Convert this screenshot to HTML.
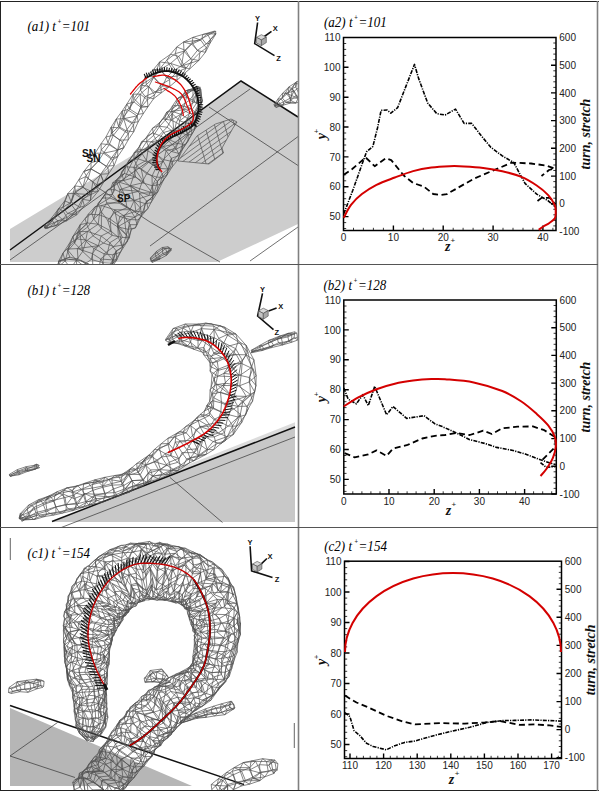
<!DOCTYPE html><html><head><meta charset="utf-8"><style>
*{margin:0;padding:0}
body{width:602px;height:791px;background:#fff;overflow:hidden}
svg{display:block}
.n{font-family:"Liberation Sans",sans-serif;font-size:10px;fill:#222}
.tt{font-family:"Liberation Serif",serif;font-style:italic;font-size:14px;fill:#000}
.tsup{font-family:"Liberation Sans",sans-serif;font-size:6.5px;fill:#222}
.ax{font-family:"Liberation Serif",serif;font-style:italic;font-weight:bold;font-size:14px;fill:#111}
.ax2{font-family:"Liberation Serif",serif;font-style:italic;font-weight:bold;font-size:14px;fill:#111}
.tl{font-family:"Liberation Sans",sans-serif;font-weight:bold;font-size:7.5px;fill:#111}
.lb{font-family:"Liberation Sans",sans-serif;font-weight:bold;font-size:10px;fill:#111}
.sup{font-family:"Liberation Sans",sans-serif;font-size:8px;fill:#222}
</style></head><body>
<svg width="602" height="791" viewBox="0 0 602 791">
<rect width="602" height="791" fill="#fff"/>
<defs><clipPath id="ca1"><rect x="1" y="2" width="297" height="262"/></clipPath><clipPath id="cb1"><rect x="1" y="265" width="297" height="262"/></clipPath><clipPath id="cc1"><rect x="1" y="528" width="297" height="262"/></clipPath></defs><g clip-path="url(#ca1)">
<polygon points="10,229 171,132 241,81 298,117 298,224 217,262 10,262" fill="#cdcdcd"/>
<path d="M10,260 L250,89 M150,246 L298,136.6 M209,107 L298,165.5 M97,187 L150,222 L220,262 M250,261 L298,227" stroke="#333" stroke-width="0.7" fill="none"/>
<path d="M10,250 L241,81 L298,117" fill="none" stroke="#111" stroke-width="1.5"/>
<clipPath id="fmc"><polygon points="178,161 197,136 215.5,124 231,119 237,122 233,128 222,148 223.5,153 209,164"/></clipPath>
<path d="M160,146.9 L250,81.2 M160,152.1 L250,86.4 M160,157.3 L250,91.6 M160,162.5 L250,96.8 M160,167.7 L250,102.0 M160,172.9 L250,107.2 M160,178.1 L250,112.4 M160,183.3 L250,117.6 M160,188.5 L250,122.8 M160,193.7 L250,128.0 M160,198.9 L250,133.2 M160,204.1 L250,138.4 M160,209.3 L250,143.6 M160,214.5 L250,148.8 M190,110 L208,170 M200,110 L218,170 M210,110 L228,170 M220,110 L238,170 M230,110 L248,170" clip-path="url(#fmc)" stroke="#505050" stroke-width="0.7" fill="none"/>
<polygon points="178,161 197,136 215.5,124 231,119 237,122 233,128 222,148 223.5,153 209,164" fill="none" stroke="#505050" stroke-width="0.7"/>
<path d="M198.2,86.7 L197.5,86.8 L197.9,88.6 L197.8,87.9 L199.7,88.5 L201,89.7 L200,88.3 L199.9,88.1 L199.6,88 L200.3,87.3 L198.7,87 L197.6,87.5Z M185.1,93.1 L185.3,94.9 L189.5,100.3 L194.2,102.2 L196.5,103.3 L201.9,101.7 L202.4,100.6 L200.4,96.5 L197.2,92 L193,90.3 L187.8,90 L185.2,91.1Z M177.4,98.6 L176.6,102.1 L179.2,107 L182.8,109.8 L189.5,113.4 L194.5,113.7 L199.1,111.2 L201,108.9 L198.4,104.4 L192.9,100.2 L186.5,97.2 L181.9,96.9Z M172.5,105.9 L171.6,111 L172.3,113.8 L179.6,120.8 L185.5,122.8 L191.3,124.3 L196,122.9 L198.5,117.4 L194.6,111.8 L191.1,108.6 L184.2,106.1 L177.4,105.3Z M165,117 L165.2,120.2 L173.7,129.6 L178,131.5 L187.4,135.2 L191.8,134.1 L195,128.8 L192.9,122.8 L187.4,118.3 L180.7,114.3 L172.3,111.4 L166.8,112Z M159.4,122.9 L159.4,126.7 L163.6,132.5 L170.2,140.1 L177.6,143.5 L185.3,144.5 L188,141.1 L188.3,134.5 L184.2,127.7 L176.3,122.5 L171,120.2 L162.7,118.8Z M152.5,128.2 L153.6,135.4 L157.2,141.7 L162.8,146.7 L171.6,151.5 L179.1,153.5 L182.6,149.3 L182.6,143.8 L179.5,138 L174.1,132.5 L167.1,127.2 L157.7,126.1Z M147.1,136.3 L146.6,141.6 L148.6,146.8 L156.2,154 L163.2,159.5 L172.5,161.6 L177.8,160 L179.4,155.4 L176,148.3 L166.7,139 L159.1,135.4 L152.6,132.9Z M139.7,146.1 L140.5,151.1 L146.4,160.4 L152.7,165 L160.1,168.5 L169.5,169 L172.9,165.9 L171.4,158.3 L166.1,150.8 L160.2,146.5 L151.2,141.8 L141.8,141.5Z M134.2,152.7 L133.9,158.8 L136.8,165.7 L146.6,173.9 L156.7,177.1 L161.9,177.4 L167,175 L167.8,169.1 L163.5,161.6 L157.6,155.9 L145.4,149.8 L137.8,149.8Z M126.8,164.5 L128.3,170 L133.9,175.3 L141.9,182.6 L152.3,185.8 L160,184.5 L163.5,180 L162.2,173.8 L156.5,166.7 L148.7,162.3 L138.2,158.9 L128.9,160.5Z M121.5,172.3 L123.7,180.5 L130.1,186.3 L138.8,191.3 L149,195.4 L154.1,194.9 L157.9,191.6 L157.5,181.4 L152,176.1 L141.2,168.9 L133.9,167.3 L125.6,166.8Z M120.3,175.8 L115.8,180.7 L119.8,189.6 L124.8,194.7 L134.5,200.3 L145.2,203.6 L150.9,202.8 L152.5,198.8 L152.4,192.9 L144,182.5 L135.6,177.1 L124.5,173.5Z M110.8,188.2 L112.5,194.4 L119.2,203.2 L127,207.7 L135.8,211.3 L143.8,212.2 L148,208.4 L146.4,200.9 L139.5,193 L130.6,185.7 L118.6,182 L112.8,182.6Z M107.9,189.7 L104.8,194.8 L106.6,202.8 L114.4,212.9 L119.8,216.6 L130.2,219.6 L138.2,219.9 L141.5,215.7 L140.6,208.4 L134.1,200.7 L124,193.6 L114.9,189.7Z M102.6,198 L98.1,203.7 L101.4,211.9 L107.7,220.4 L117.6,226.9 L128.1,229.3 L135.4,227.9 L137.1,224.7 L135,217.4 L130,209.7 L118.8,201.5 L109.8,198Z M91.9,213.1 L93.7,219 L101.4,228.3 L112.2,235.4 L122.5,237.4 L129.3,237.8 L131.3,229.4 L130.1,224.7 L124.1,215.9 L114.7,209.8 L101.3,205.5 L94.9,206.9Z M85,218.7 L87.7,227 L93,235.8 L103.5,243.1 L113.9,246.5 L124.2,244.8 L127.5,241.2 L126.4,234.8 L117.6,224.5 L110.2,219.1 L99.4,214.8 L88.3,214.2Z M80.2,224.7 L79.7,232.8 L86,241.3 L93.8,248.4 L104.1,253.9 L112.8,254.8 L120.4,252.3 L122.6,247.4 L118.4,237.4 L111,231.1 L98.2,224.2 L87.5,223Z M73,236.3 L74.5,243.1 L82.7,251.5 L91.3,259.5 L102.9,262.7 L113.1,263.2 L116.8,259.9 L116.2,250.8 L109.8,242.7 L101.1,236 L87.5,231.4 L78.7,231.8Z M69.3,243.6 L68.1,250.5 L76.3,260.2 L82.9,265.3 L97.7,271.5 L104.9,272.6 L110.8,268.9 L112.8,259.9 L107.3,253.5 L98.3,245.7 L85.8,240 L76.7,238.9Z M63,253.1 L65.1,261 L70.8,268.4 L77.9,275.7 L93.3,280.4 L101.7,281 L107.4,274.8 L107.2,269.5 L100.6,259 L92.4,253.6 L77.3,248.6 L66.9,249.1Z M58.8,260.9 L58.8,266.3 L61.5,272.3 L70.6,282.5 L83.5,287.1 L94.8,289.8 L101,286.9 L103.9,279.8 L98.6,270.9 L92.8,266 L78,259.1 L69.9,257.2Z M57.5,267.3 L60.5,274.1 L69.3,282.3 L83.9,289.1 L92.2,290.7 L99.9,288.4 L103.3,282.8 L100.8,275.8 L88.8,265.9 L80.9,260.7 L69,259.4 L58.7,261.4Z M198.2,86.7 L185.1,93.1 M198.2,86.7 L185.3,94.9 M197.5,86.8 L185.3,94.9 M197.9,88.6 L189.5,100.3 M197.8,87.9 L194.2,102.2 M197.8,87.9 L196.5,103.3 M199.7,88.5 L196.5,103.3 M201,89.7 L201.9,101.7 M200,88.3 L202.4,100.6 M199.9,88.1 L200.4,96.5 M199.6,88 L197.2,92 M199.6,88 L200.4,96.5 M200.3,87.3 L193,90.3 M198.7,87 L187.8,90 M197.6,87.5 L185.2,91.1 M185.1,93.1 L177.4,98.6 M185.3,94.9 L176.6,102.1 M185.3,94.9 L177.4,98.6 M189.5,100.3 L179.2,107 M194.2,102.2 L182.8,109.8 M196.5,103.3 L189.5,113.4 M201.9,101.7 L194.5,113.7 M202.4,100.6 L199.1,111.2 M202.4,100.6 L194.5,113.7 M200.4,96.5 L201,108.9 M197.2,92 L198.4,104.4 M197.2,92 L192.9,100.2 M193,90.3 L192.9,100.2 M187.8,90 L186.5,97.2 M185.2,91.1 L181.9,96.9 M177.4,98.6 L172.5,105.9 M176.6,102.1 L171.6,111 M179.2,107 L172.3,113.8 M182.8,109.8 L179.6,120.8 M189.5,113.4 L185.5,122.8 M189.5,113.4 L179.6,120.8 M194.5,113.7 L191.3,124.3 M194.5,113.7 L185.5,122.8 M199.1,111.2 L196,122.9 M201,108.9 L198.5,117.4 M198.4,104.4 L194.6,111.8 M192.9,100.2 L191.1,108.6 M186.5,97.2 L184.2,106.1 M181.9,96.9 L177.4,105.3 M172.5,105.9 L165,117 M171.6,111 L165.2,120.2 M172.3,113.8 L173.7,129.6 M172.3,113.8 L165.2,120.2 M179.6,120.8 L178,131.5 M185.5,122.8 L187.4,135.2 M191.3,124.3 L191.8,134.1 M196,122.9 L195,128.8 M198.5,117.4 L192.9,122.8 M194.6,111.8 L187.4,118.3 M194.6,111.8 L192.9,122.8 M191.1,108.6 L180.7,114.3 M191.1,108.6 L172.3,111.4 M184.2,106.1 L172.3,111.4 M184.2,106.1 L180.7,114.3 M177.4,105.3 L166.8,112 M165,117 L159.4,122.9 M165.2,120.2 L159.4,126.7 M173.7,129.6 L163.6,132.5 M178,131.5 L170.2,140.1 M187.4,135.2 L177.6,143.5 M191.8,134.1 L185.3,144.5 M195,128.8 L188,141.1 M192.9,122.8 L188.3,134.5 M192.9,122.8 L184.2,127.7 M187.4,118.3 L184.2,127.7 M180.7,114.3 L176.3,122.5 M180.7,114.3 L171,120.2 M172.3,111.4 L171,120.2 M166.8,112 L162.7,118.8 M166.8,112 L171,120.2 M159.4,122.9 L152.5,128.2 M159.4,126.7 L153.6,135.4 M163.6,132.5 L157.2,141.7 M170.2,140.1 L162.8,146.7 M177.6,143.5 L171.6,151.5 M177.6,143.5 L162.8,146.7 M185.3,144.5 L179.1,153.5 M185.3,144.5 L171.6,151.5 M188,141.1 L182.6,149.3 M188.3,134.5 L182.6,143.8 M184.2,127.7 L179.5,138 M176.3,122.5 L174.1,132.5 M171,120.2 L167.1,127.2 M162.7,118.8 L157.7,126.1 M152.5,128.2 L147.1,136.3 M153.6,135.4 L146.6,141.6 M157.2,141.7 L148.6,146.8 M162.8,146.7 L156.2,154 M171.6,151.5 L163.2,159.5 M179.1,153.5 L172.5,161.6 M182.6,149.3 L177.8,160 M182.6,143.8 L179.4,155.4 M179.5,138 L176,148.3 M174.1,132.5 L166.7,139 M167.1,127.2 L159.1,135.4 M157.7,126.1 L152.6,132.9 M147.1,136.3 L139.7,146.1 M146.6,141.6 L140.5,151.1 M148.6,146.8 L146.4,160.4 M148.6,146.8 L140.5,151.1 M156.2,154 L152.7,165 M163.2,159.5 L160.1,168.5 M172.5,161.6 L169.5,169 M177.8,160 L172.9,165.9 M179.4,155.4 L171.4,158.3 M176,148.3 L166.1,150.8 M166.7,139 L160.2,146.5 M166.7,139 L151.2,141.8 M159.1,135.4 L151.2,141.8 M152.6,132.9 L141.8,141.5 M139.7,146.1 L134.2,152.7 M140.5,151.1 L133.9,158.8 M140.5,151.1 L134.2,152.7 M146.4,160.4 L136.8,165.7 M152.7,165 L146.6,173.9 M160.1,168.5 L156.7,177.1 M169.5,169 L161.9,177.4 M172.9,165.9 L167,175 M171.4,158.3 L167.8,169.1 M171.4,158.3 L167,175 M166.1,150.8 L163.5,161.6 M160.2,146.5 L157.6,155.9 M151.2,141.8 L145.4,149.8 M141.8,141.5 L137.8,149.8 M134.2,152.7 L126.8,164.5 M133.9,158.8 L128.3,170 M136.8,165.7 L133.9,175.3 M146.6,173.9 L141.9,182.6 M156.7,177.1 L152.3,185.8 M161.9,177.4 L160,184.5 M161.9,177.4 L152.3,185.8 M167,175 L163.5,180 M167,175 L160,184.5 M167.8,169.1 L162.2,173.8 M163.5,161.6 L156.5,166.7 M163.5,161.6 L148.7,162.3 M157.6,155.9 L148.7,162.3 M145.4,149.8 L138.2,158.9 M137.8,149.8 L128.9,160.5 M137.8,149.8 L138.2,158.9 M126.8,164.5 L121.5,172.3 M128.3,170 L123.7,180.5 M133.9,175.3 L130.1,186.3 M141.9,182.6 L138.8,191.3 M152.3,185.8 L149,195.4 M152.3,185.8 L154.1,194.9 M160,184.5 L154.1,194.9 M163.5,180 L157.9,191.6 M162.2,173.8 L157.5,181.4 M156.5,166.7 L152,176.1 M148.7,162.3 L141.2,168.9 M138.2,158.9 L133.9,167.3 M128.9,160.5 L125.6,166.8 M121.5,172.3 L120.3,175.8 M123.7,180.5 L115.8,180.7 M130.1,186.3 L119.8,189.6 M138.8,191.3 L124.8,194.7 M138.8,191.3 L119.8,189.6 M149,195.4 L134.5,200.3 M154.1,194.9 L145.2,203.6 M157.9,191.6 L150.9,202.8 M157.9,191.6 L145.2,203.6 M157.5,181.4 L152.5,198.8 M152,176.1 L152.4,192.9 M141.2,168.9 L144,182.5 M133.9,167.3 L135.6,177.1 M133.9,167.3 L144,182.5 M125.6,166.8 L124.5,173.5 M125.6,166.8 L120.3,175.8 M120.3,175.8 L110.8,188.2 M115.8,180.7 L112.5,194.4 M119.8,189.6 L119.2,203.2 M124.8,194.7 L127,207.7 M134.5,200.3 L135.8,211.3 M145.2,203.6 L143.8,212.2 M145.2,203.6 L135.8,211.3 M150.9,202.8 L148,208.4 M152.5,198.8 L146.4,200.9 M152.4,192.9 L139.5,193 M152.4,192.9 L130.6,185.7 M144,182.5 L130.6,185.7 M135.6,177.1 L118.6,182 M124.5,173.5 L112.8,182.6 M124.5,173.5 L110.8,188.2 M110.8,188.2 L107.9,189.7 M112.5,194.4 L104.8,194.8 M119.2,203.2 L106.6,202.8 M127,207.7 L114.4,212.9 M135.8,211.3 L119.8,216.6 M143.8,212.2 L130.2,219.6 M148,208.4 L138.2,219.9 M146.4,200.9 L141.5,215.7 M139.5,193 L140.6,208.4 M130.6,185.7 L134.1,200.7 M118.6,182 L124,193.6 M112.8,182.6 L114.9,189.7 M107.9,189.7 L102.6,198 M104.8,194.8 L98.1,203.7 M104.8,194.8 L102.6,198 M106.6,202.8 L101.4,211.9 M114.4,212.9 L107.7,220.4 M119.8,216.6 L117.6,226.9 M130.2,219.6 L128.1,229.3 M130.2,219.6 L117.6,226.9 M138.2,219.9 L135.4,227.9 M141.5,215.7 L137.1,224.7 M140.6,208.4 L135,217.4 M134.1,200.7 L130,209.7 M134.1,200.7 L118.8,201.5 M124,193.6 L118.8,201.5 M114.9,189.7 L109.8,198 M102.6,198 L91.9,213.1 M98.1,203.7 L93.7,219 M101.4,211.9 L101.4,228.3 M101.4,211.9 L93.7,219 M107.7,220.4 L112.2,235.4 M117.6,226.9 L122.5,237.4 M117.6,226.9 L129.3,237.8 M128.1,229.3 L129.3,237.8 M135.4,227.9 L131.3,229.4 M137.1,224.7 L130.1,224.7 M135,217.4 L124.1,215.9 M130,209.7 L114.7,209.8 M130,209.7 L124.1,215.9 M118.8,201.5 L101.3,205.5 M109.8,198 L94.9,206.9 M91.9,213.1 L85,218.7 M93.7,219 L87.7,227 M101.4,228.3 L93,235.8 M112.2,235.4 L103.5,243.1 M122.5,237.4 L113.9,246.5 M129.3,237.8 L124.2,244.8 M131.3,229.4 L127.5,241.2 M130.1,224.7 L126.4,234.8 M124.1,215.9 L117.6,224.5 M124.1,215.9 L126.4,234.8 M114.7,209.8 L110.2,219.1 M114.7,209.8 L117.6,224.5 M101.3,205.5 L99.4,214.8 M94.9,206.9 L88.3,214.2 M85,218.7 L80.2,224.7 M87.7,227 L79.7,232.8 M93,235.8 L86,241.3 M103.5,243.1 L93.8,248.4 M113.9,246.5 L104.1,253.9 M124.2,244.8 L112.8,254.8 M127.5,241.2 L120.4,252.3 M126.4,234.8 L122.6,247.4 M117.6,224.5 L118.4,237.4 M117.6,224.5 L122.6,247.4 M110.2,219.1 L111,231.1 M99.4,214.8 L98.2,224.2 M88.3,214.2 L87.5,223 M80.2,224.7 L73,236.3 M80.2,224.7 L74.5,243.1 M79.7,232.8 L74.5,243.1 M79.7,232.8 L82.7,251.5 M86,241.3 L82.7,251.5 M93.8,248.4 L91.3,259.5 M104.1,253.9 L102.9,262.7 M112.8,254.8 L113.1,263.2 M120.4,252.3 L116.8,259.9 M120.4,252.3 L113.1,263.2 M122.6,247.4 L116.2,250.8 M118.4,237.4 L109.8,242.7 M111,231.1 L101.1,236 M98.2,224.2 L87.5,231.4 M87.5,223 L78.7,231.8 M87.5,223 L73,236.3 M73,236.3 L69.3,243.6 M73,236.3 L68.1,250.5 M74.5,243.1 L68.1,250.5 M82.7,251.5 L76.3,260.2 M91.3,259.5 L82.9,265.3 M102.9,262.7 L97.7,271.5 M113.1,263.2 L104.9,272.6 M113.1,263.2 L97.7,271.5 M116.8,259.9 L110.8,268.9 M116.8,259.9 L112.8,259.9 M116.2,250.8 L112.8,259.9 M116.2,250.8 L110.8,268.9 M109.8,242.7 L107.3,253.5 M101.1,236 L98.3,245.7 M87.5,231.4 L85.8,240 M87.5,231.4 L76.7,238.9 M78.7,231.8 L76.7,238.9 M69.3,243.6 L63,253.1 M68.1,250.5 L65.1,261 M76.3,260.2 L70.8,268.4 M76.3,260.2 L77.9,275.7 M82.9,265.3 L77.9,275.7 M97.7,271.5 L93.3,280.4 M104.9,272.6 L101.7,281 M104.9,272.6 L107.4,274.8 M110.8,268.9 L107.4,274.8 M112.8,259.9 L107.2,269.5 M112.8,259.9 L100.6,259 M107.3,253.5 L100.6,259 M98.3,245.7 L92.4,253.6 M98.3,245.7 L77.3,248.6 M85.8,240 L77.3,248.6 M76.7,238.9 L66.9,249.1 M63,253.1 L58.8,260.9 M63,253.1 L58.8,266.3 M65.1,261 L58.8,266.3 M70.8,268.4 L61.5,272.3 M77.9,275.7 L70.6,282.5 M93.3,280.4 L83.5,287.1 M101.7,281 L94.8,289.8 M107.4,274.8 L101,286.9 M107.2,269.5 L103.9,279.8 M100.6,259 L98.6,270.9 M92.4,253.6 L92.8,266 M77.3,248.6 L78,259.1 M66.9,249.1 L69.9,257.2 M58.8,260.9 L57.5,267.3 M58.8,266.3 L60.5,274.1 M61.5,272.3 L69.3,282.3 M61.5,272.3 L83.9,289.1 M70.6,282.5 L83.9,289.1 M83.5,287.1 L92.2,290.7 M83.5,287.1 L99.9,288.4 M94.8,289.8 L99.9,288.4 M101,286.9 L103.3,282.8 M103.9,279.8 L100.8,275.8 M98.6,270.9 L88.8,265.9 M92.8,266 L80.9,260.7 M78,259.1 L69,259.4 M69.9,257.2 L58.7,261.4" stroke="#505050" stroke-width="0.7" fill="none"/>
<path d="M214.5,31.1 L213.8,32.2 L215.3,34.2 L216.1,33.6 L215.4,34 L215.8,31.4Z M202.7,34.5 L202,38.5 L206.2,44 L210.2,43 L210.4,39.6 L207.3,33.7Z M193,37.3 L192.1,42.6 L197.3,50.5 L205.4,52.3 L206.4,48 L200.6,40Z M183.5,42 L184,51.2 L190.7,58.9 L198.8,60.5 L199.9,52.6 L191.7,44.2Z M176.8,46.9 L175.3,53.6 L181.4,66 L189.5,69.1 L191.9,60.8 L185.7,50.5Z M170.5,54.3 L166.8,60.2 L173.2,70.9 L182.4,75.1 L185.9,68.4 L178.7,56.4Z M159.7,61.9 L159.8,68.9 L166.4,77.6 L177.1,80.2 L177,71.8 L170.6,63.4Z M153.1,70 L153.6,77.9 L162.8,86 L169.9,86.4 L169.6,79.6 L160.2,69.6Z M145.7,76.4 L146.3,84.6 L155,92.1 L161.3,92.8 L160.6,84.9 L153.9,76.8Z M141.1,85 L140.4,90.1 L145.1,96.5 L153.5,98.8 L154.5,94.8 L148.8,86.6Z M133.1,94.2 L134,98.6 L141.2,106 L148,106.7 L147.4,99.8 L140.2,94.1Z M126.8,104.1 L129.8,109.1 L138,114.3 L143.4,113.5 L140.9,107.4 L134,101.9Z M122.2,111 L123,117.2 L132.3,122.6 L138.2,121.8 L137.1,115.9 L127.5,109.6Z M116.3,119 L118.6,126.5 L126,130.7 L133.7,131.8 L133.6,124.5 L123.7,118.7Z M111.1,127.2 L111.3,133.7 L119.8,140.1 L128.2,139.9 L128.3,133.7 L119.3,127.9Z M106,136.9 L107.9,142.7 L117.6,149.9 L123.8,147.7 L122.5,142 L113.3,135.4Z M101.1,143.7 L101.2,150 L111.5,157.8 L117.7,156.6 L117.7,150.2 L109.2,144.8Z M95.1,153.2 L98.3,161.2 L106.5,166.1 L114.1,165.6 L112.6,160 L103.5,153.2Z M91,162.6 L91,168.7 L100.5,174.3 L108.6,173.7 L108,167.9 L98.5,160.8Z M83.8,171.5 L88.1,178.6 L96.8,184.7 L103.7,182 L100.7,174.5 L90.8,169Z M78.8,179.8 L82.9,187.5 L91.9,191.6 L98.4,191 L92.9,181.7 L85.5,176.7Z M74.9,185.9 L75.3,191.6 L83,199.4 L90.4,200.6 L90.7,194.7 L83,186.9Z M67.8,193.6 L71.3,202.2 L80,207.3 L84.4,205.8 L82.4,199.1 L74.3,193.5Z M64.7,200.9 L63,207.2 L67.6,213.5 L76.8,214.8 L76,210.8 L70.2,203.2Z M58.7,208.6 L56.7,214.4 L62.5,219.6 L66.5,220.8 L67,217.4 L63.3,211.3Z M51.3,218.3 L52.4,220.7 L55.6,225.8 L57.8,224.7 L57.9,220.8 L54.2,217.9Z M45.1,224.8 L44.5,227.6 L46.5,227.6 L47.6,227.9 L48.2,228 L46.4,226.1Z M44.9,227.6 L44.8,227.4 L44.7,228 L45.6,228.6 L45.7,228.2 L45.3,227.5Z M214.5,31.1 L202.7,34.5 M213.8,32.2 L202,38.5 M215.3,34.2 L206.2,44 M216.1,33.6 L210.2,43 M215.4,34 L210.4,39.6 M215.4,34 L207.3,33.7 M215.8,31.4 L207.3,33.7 M202.7,34.5 L193,37.3 M202,38.5 L192.1,42.6 M206.2,44 L197.3,50.5 M210.2,43 L205.4,52.3 M210.4,39.6 L206.4,48 M207.3,33.7 L200.6,40 M193,37.3 L183.5,42 M192.1,42.6 L184,51.2 M197.3,50.5 L190.7,58.9 M205.4,52.3 L198.8,60.5 M206.4,48 L199.9,52.6 M200.6,40 L191.7,44.2 M200.6,40 L183.5,42 M183.5,42 L176.8,46.9 M184,51.2 L175.3,53.6 M184,51.2 L181.4,66 M190.7,58.9 L181.4,66 M198.8,60.5 L189.5,69.1 M198.8,60.5 L181.4,66 M199.9,52.6 L191.9,60.8 M191.7,44.2 L185.7,50.5 M176.8,46.9 L170.5,54.3 M175.3,53.6 L166.8,60.2 M181.4,66 L173.2,70.9 M189.5,69.1 L182.4,75.1 M191.9,60.8 L185.9,68.4 M185.7,50.5 L178.7,56.4 M170.5,54.3 L159.7,61.9 M166.8,60.2 L159.8,68.9 M173.2,70.9 L166.4,77.6 M182.4,75.1 L177.1,80.2 M182.4,75.1 L166.4,77.6 M185.9,68.4 L177,71.8 M185.9,68.4 L170.6,63.4 M178.7,56.4 L170.6,63.4 M159.7,61.9 L153.1,70 M159.7,61.9 L153.6,77.9 M159.8,68.9 L153.6,77.9 M166.4,77.6 L162.8,86 M177.1,80.2 L169.9,86.4 M177,71.8 L169.6,79.6 M177,71.8 L160.2,69.6 M170.6,63.4 L160.2,69.6 M153.1,70 L145.7,76.4 M153.6,77.9 L146.3,84.6 M162.8,86 L155,92.1 M169.9,86.4 L161.3,92.8 M169.9,86.4 L155,92.1 M169.6,79.6 L160.6,84.9 M160.2,69.6 L153.9,76.8 M145.7,76.4 L141.1,85 M145.7,76.4 L140.4,90.1 M146.3,84.6 L140.4,90.1 M155,92.1 L145.1,96.5 M161.3,92.8 L153.5,98.8 M160.6,84.9 L154.5,94.8 M153.9,76.8 L148.8,86.6 M153.9,76.8 L141.1,85 M141.1,85 L133.1,94.2 M140.4,90.1 L134,98.6 M145.1,96.5 L141.2,106 M153.5,98.8 L148,106.7 M154.5,94.8 L147.4,99.8 M148.8,86.6 L140.2,94.1 M148.8,86.6 L147.4,99.8 M133.1,94.2 L126.8,104.1 M133.1,94.2 L129.8,109.1 M134,98.6 L129.8,109.1 M141.2,106 L138,114.3 M148,106.7 L143.4,113.5 M148,106.7 L140.9,107.4 M147.4,99.8 L140.9,107.4 M140.2,94.1 L134,101.9 M140.2,94.1 L140.9,107.4 M126.8,104.1 L122.2,111 M126.8,104.1 L123,117.2 M129.8,109.1 L123,117.2 M138,114.3 L132.3,122.6 M143.4,113.5 L138.2,121.8 M140.9,107.4 L137.1,115.9 M134,101.9 L127.5,109.6 M122.2,111 L116.3,119 M122.2,111 L118.6,126.5 M123,117.2 L118.6,126.5 M132.3,122.6 L126,130.7 M138.2,121.8 L133.7,131.8 M137.1,115.9 L133.6,124.5 M137.1,115.9 L123.7,118.7 M127.5,109.6 L123.7,118.7 M116.3,119 L111.1,127.2 M116.3,119 L111.3,133.7 M118.6,126.5 L111.3,133.7 M126,130.7 L119.8,140.1 M133.7,131.8 L128.2,139.9 M133.6,124.5 L128.3,133.7 M123.7,118.7 L119.3,127.9 M123.7,118.7 L128.3,133.7 M111.1,127.2 L106,136.9 M111.1,127.2 L113.3,135.4 M111.3,133.7 L107.9,142.7 M119.8,140.1 L117.6,149.9 M128.2,139.9 L123.8,147.7 M128.3,133.7 L122.5,142 M119.3,127.9 L113.3,135.4 M106,136.9 L101.1,143.7 M107.9,142.7 L101.2,150 M117.6,149.9 L111.5,157.8 M123.8,147.7 L117.7,156.6 M123.8,147.7 L117.7,150.2 M122.5,142 L117.7,150.2 M113.3,135.4 L109.2,144.8 M101.1,143.7 L95.1,153.2 M101.2,150 L98.3,161.2 M111.5,157.8 L106.5,166.1 M117.7,156.6 L114.1,165.6 M117.7,156.6 L112.6,160 M117.7,150.2 L112.6,160 M117.7,150.2 L103.5,153.2 M109.2,144.8 L103.5,153.2 M95.1,153.2 L91,162.6 M98.3,161.2 L91,168.7 M106.5,166.1 L100.5,174.3 M114.1,165.6 L108.6,173.7 M112.6,160 L108,167.9 M103.5,153.2 L98.5,160.8 M91,162.6 L83.8,171.5 M91,168.7 L88.1,178.6 M91,168.7 L83.8,171.5 M100.5,174.3 L96.8,184.7 M100.5,174.3 L103.7,182 M108.6,173.7 L103.7,182 M108,167.9 L100.7,174.5 M98.5,160.8 L90.8,169 M83.8,171.5 L78.8,179.8 M88.1,178.6 L82.9,187.5 M96.8,184.7 L91.9,191.6 M103.7,182 L98.4,191 M103.7,182 L91.9,191.6 M100.7,174.5 L92.9,181.7 M90.8,169 L85.5,176.7 M78.8,179.8 L74.9,185.9 M82.9,187.5 L75.3,191.6 M91.9,191.6 L83,199.4 M91.9,191.6 L90.4,200.6 M98.4,191 L90.4,200.6 M98.4,191 L90.7,194.7 M92.9,181.7 L90.7,194.7 M85.5,176.7 L83,186.9 M74.9,185.9 L67.8,193.6 M74.9,185.9 L71.3,202.2 M75.3,191.6 L71.3,202.2 M83,199.4 L80,207.3 M90.4,200.6 L84.4,205.8 M90.7,194.7 L82.4,199.1 M90.7,194.7 L74.3,193.5 M83,186.9 L74.3,193.5 M67.8,193.6 L64.7,200.9 M67.8,193.6 L63,207.2 M71.3,202.2 L63,207.2 M80,207.3 L67.6,213.5 M84.4,205.8 L76.8,214.8 M82.4,199.1 L76,210.8 M74.3,193.5 L70.2,203.2 M64.7,200.9 L58.7,208.6 M63,207.2 L56.7,214.4 M63,207.2 L58.7,208.6 M67.6,213.5 L62.5,219.6 M76.8,214.8 L66.5,220.8 M76,210.8 L67,217.4 M76,210.8 L66.5,220.8 M70.2,203.2 L63.3,211.3 M58.7,208.6 L51.3,218.3 M58.7,208.6 L52.4,220.7 M56.7,214.4 L52.4,220.7 M62.5,219.6 L55.6,225.8 M66.5,220.8 L57.8,224.7 M66.5,220.8 L57.9,220.8 M67,217.4 L57.9,220.8 M63.3,211.3 L54.2,217.9 M51.3,218.3 L45.1,224.8 M52.4,220.7 L44.5,227.6 M52.4,220.7 L46.5,227.6 M55.6,225.8 L46.5,227.6 M57.8,224.7 L47.6,227.9 M57.9,220.8 L48.2,228 M57.9,220.8 L46.4,226.1 M54.2,217.9 L46.4,226.1 M45.1,224.8 L44.9,227.6 M45.1,224.8 L44.8,227.4 M44.5,227.6 L44.8,227.4 M46.5,227.6 L44.7,228 M46.5,227.6 L44.8,227.4 M47.6,227.9 L45.6,228.6 M48.2,228 L45.7,228.2 M46.4,226.1 L45.3,227.5" stroke="#505050" stroke-width="0.7" fill="none"/>
<path d="M275.9,107.4 L275.2,105.7 L275.6,104.8 L273.9,104.8 L274.9,105.9 L274.4,105.9Z M283.7,105 L283.4,101.9 L280.9,98.8 L278,98.9 L278.2,101.4 L281.3,105.1Z M290.3,103.1 L290.3,98.1 L285.9,93.2 L282.7,93.1 L282.3,98 L286,102.3Z M295.9,103 L298.1,98.2 L294.2,91.1 L289.1,86.8 L288.2,92.7 L290.8,100.5Z M302.3,100.9 L305.1,93.9 L300.9,86 L295.6,82.6 L292.4,88.4 L295.9,95.7Z M306.9,97.9 L307.7,91.2 L304.8,83.1 L297,81.3 L295.8,87.1 L300.5,97.1Z M275.9,107.4 L283.7,105 M275.9,107.4 L281.3,105.1 M275.2,105.7 L283.4,101.9 M275.6,104.8 L280.9,98.8 M273.9,104.8 L278,98.9 M274.9,105.9 L278.2,101.4 M274.4,105.9 L281.3,105.1 M283.7,105 L290.3,103.1 M283.4,101.9 L290.3,98.1 M280.9,98.8 L285.9,93.2 M278,98.9 L282.7,93.1 M278.2,101.4 L282.3,98 M281.3,105.1 L286,102.3 M290.3,103.1 L295.9,103 M290.3,98.1 L298.1,98.2 M290.3,98.1 L294.2,91.1 M285.9,93.2 L294.2,91.1 M285.9,93.2 L298.1,98.2 M282.7,93.1 L289.1,86.8 M282.3,98 L288.2,92.7 M282.3,98 L289.1,86.8 M286,102.3 L290.8,100.5 M286,102.3 L295.9,103 M295.9,103 L302.3,100.9 M298.1,98.2 L305.1,93.9 M294.2,91.1 L300.9,86 M289.1,86.8 L295.6,82.6 M288.2,92.7 L292.4,88.4 M288.2,92.7 L295.6,82.6 M290.8,100.5 L295.9,95.7 M290.8,100.5 L292.4,88.4 M302.3,100.9 L306.9,97.9 M305.1,93.9 L307.7,91.2 M300.9,86 L304.8,83.1 M295.6,82.6 L297,81.3 M295.6,82.6 L295.8,87.1 M292.4,88.4 L295.8,87.1 M295.9,95.7 L300.5,97.1" stroke="#505050" stroke-width="0.7" fill="none"/>
<path d="M152.2,262.5 L152,261.2 L151.1,259.3 L150.6,257.6 L150.3,258.9 L151,261.2Z M160,258.9 L160,256.7 L158.4,254.3 L156.5,251.3 L155.2,254.2 L156.4,257.8Z M166.5,255.3 L167,253 L165.6,248.6 L162.3,247.5 L162.5,248.8 L162.7,253.6Z M170.9,250.7 L171.3,248.6 L169.7,248.2 L168.2,246.7 L169,247.9 L170.6,250.3Z M152.2,262.5 L160,258.9 M152,261.2 L160,256.7 M152,261.2 L160,258.9 M151.1,259.3 L158.4,254.3 M150.6,257.6 L156.5,251.3 M150.3,258.9 L155.2,254.2 M151,261.2 L156.4,257.8 M151,261.2 L160,258.9 M160,258.9 L166.5,255.3 M160,256.7 L167,253 M158.4,254.3 L165.6,248.6 M156.5,251.3 L162.3,247.5 M155.2,254.2 L162.5,248.8 M156.4,257.8 L162.7,253.6 M166.5,255.3 L170.9,250.7 M166.5,255.3 L171.3,248.6 M167,253 L171.3,248.6 M167,253 L169.7,248.2 M165.6,248.6 L169.7,248.2 M162.3,247.5 L168.2,246.7 M162.5,248.8 L169,247.9 M162.7,253.6 L170.6,250.3" stroke="#505050" stroke-width="0.7" fill="none"/>
<path d="M146,78l-1.7,-3.8 M147.9,76.9l-1.6,-3.8 M149.8,75.8l-1.1,-2.7 M151.8,74.8l-1,-2.8 M153.8,73.8l-1.2,-3.8 M155.8,73.1l-0.9,-3.7 M157.9,72.4l-0.6,-3.7 M160.1,71.9l-0.4,-3.2 M162.2,71.5l-0.2,-3.7 M164.4,71.2l0.1,-3.7 M166.6,71.1l0.4,-3.6 M168.8,71.3l0.6,-3 M171,71.6l1,-3.3 M173.1,72.2l1.2,-3.1 M175.2,72.8l1.6,-3.5 M177.2,73.6l1.9,-3.7 M179.3,74.5l2.1,-3.5 M181.2,75.5l2,-2.9 M183.1,76.6l2.2,-2.7 M184.9,77.9l2.2,-2.3 M186.6,79.3l2.2,-1.9 M188.1,80.8l2.3,-1.8 M189.6,82.5l2.9,-2 M191,84.2l2.8,-1.7 M192.2,86l3,-1.6 M193.4,87.9l3.6,-1.7 M194.5,89.8l3.3,-1.3 M195.5,91.7l3.4,-1.1 M196.3,93.8l3.1,-0.8 M197,95.9l2.8,-0.5 M197.6,98l3.3,-0.4 M198,100.2l3,-0.2 M198.3,102.3l3.5,-0.1 M198.5,104.5l4.2,0.2 M198.6,106.7l3.7,0.4 M198.5,108.9l3,0.6 M198.2,111.1l3.9,1.1 M197.7,113.2l3.7,1.3 M197.1,115.4l3.5,1.5 M196.4,117.5l3.6,1.8 M195.6,119.5l3.3,2 M194.6,121.4l3.3,2.2 M193.4,123.3l2.7,2 M193,124l3.3,2.5" stroke="#111" stroke-width="1.1" fill="none" stroke-linecap="round"/>
<path d="M192,126.3l-1.2,-4.4 M190.1,127.5l-1.2,-4.4 M188.3,128.6l-0.8,-3.1 M186.4,129.8l-0.8,-3.2 M184.5,130.9l-1,-4.3 M182.6,132.1l-0.9,-4.1 M180.7,133.1l-0.7,-4.1 M178.7,134.1l-0.5,-3.6 M176.7,135l-0.5,-4 M174.7,135.9l-0.5,-4 M172.7,136.8l-0.6,-4 M170.7,137.7l-0.7,-3.3 M168.8,138.8l-1,-3.6 M167,140.1l-1.2,-3.5 M165.3,141.5l-1.7,-3.9 M163.7,143l-2.1,-4.1 M162.2,144.6l-2.4,-3.9 M160.8,146.3l-2.4,-3.2 M159.6,148.1l-2.5,-2.8 M158.5,150.1l-2.6,-2.4 M157.7,152.1l-2.6,-1.9 M157,154.2l-2.7,-1.7 M156.6,156.3l-3.5,-1.6 M156.4,158.5l-3.5,-1 M156.6,160.7l-3.7,-0.5 M157.2,162.8l-4.5,-0.1 M157.9,164.9l-3.9,0.1 M158.7,167l-4,0.2 M159.5,169l-3.5,0.3 M159.7,169.5l-3.2,0.2" stroke="#111" stroke-width="1.2" fill="none" stroke-linecap="round"/>
<polyline points="146,78 147.3,77.3 148.6,76.5 149.9,75.8 151.2,75.1 152.6,74.4 153.9,73.8 155.3,73.2 156.8,72.8 158.2,72.4 159.7,72 161.1,71.7 162.6,71.4 164.1,71.2 165.6,71.1 167.1,71.1 168.6,71.2 170.1,71.5 171.5,71.8 173,72.1 174.4,72.6 175.8,73.1 177.2,73.6 178.6,74.2 180,74.8 181.3,75.5 182.6,76.3 183.9,77.1 185.1,78 186.2,79 187.3,80 188.3,81.1 189.3,82.2 190.3,83.4 191.2,84.5 192.1,85.8 192.9,87 193.7,88.3 194.4,89.6 195.1,90.9 195.7,92.3 196.3,93.7 196.8,95.1 197.2,96.5 197.6,98 197.9,99.5 198.1,100.9 198.3,102.4 198.5,103.9 198.6,105.4 198.6,106.9 198.5,108.4 198.4,109.9 198.1,111.4 197.8,112.9 197.4,114.3 197,115.7 196.5,117.2 196.1,118.6 195.6,120 195.1,121.4 194.5,122.8 193.7,124.1 192.9,125.3 191.9,126.4 190.7,127.4 189.5,128.3 188.2,129.1 186.9,129.8 185.6,130.5 184.3,131.2 183,131.9 181.6,132.6 180.3,133.3 178.9,134 177.6,134.6 176.2,135.2 174.8,135.8 173.5,136.4 172.1,137 170.8,137.7 169.5,138.5 168.2,139.3 167,140.2 165.8,141.1 164.7,142.1 163.6,143.1 162.5,144.2 161.6,145.3 160.6,146.5 159.8,147.7 159.1,149 158.4,150.4 157.8,151.8 157.3,153.2 156.9,154.6 156.6,156.1 156.4,157.6 156.4,159.1 156.6,160.6 156.9,162 157.4,163.5 157.9,164.9 158.4,166.3 159,167.7 159.5,169.1 159.7,169.5" fill="none" stroke="#111" stroke-width="1.8" stroke-linejoin="round" stroke-linecap="round"/>
<polyline points="130.5,94 131.4,92.8 132.4,91.6 133.3,90.5 134.2,89.3 135.2,88.1 136.1,87 137.2,85.9 138.2,84.8 139.3,83.8 140.4,82.8 141.6,81.9 142.8,81 144,80 145.2,79.1 146.4,78.2 146.7,78" fill="none" stroke="#d00" stroke-width="1.3" stroke-linejoin="round" stroke-linecap="round"/>
<polyline points="153.2,76.6 154.7,76.4 156.2,76.1 157.6,75.8 159.1,75.5 160.6,75.3 162.1,75.2 163.6,75.2 165.1,75.3 166.5,75.6 168,76.1 169.4,76.6 170.7,77.3 172,78 173.3,78.8 174.6,79.6 175.8,80.4 177,81.3 178.2,82.3 179.3,83.3 180.4,84.3 181.4,85.4 182.3,86.6 183.2,87.8 184,89.1 184.8,90.4 185.5,91.7 186.2,93 186.9,94.3 187.5,95.7 188.1,97.1 188.6,98.5 189,99.9 189.5,101.4 189.9,102.8 190.3,104.3 190.7,105.7 191.1,107.1 191.5,108.6 192,110 192.4,111.4 192.8,112.9 193.1,114.4 193.2,115.9 193.3,117.4 193.3,118.9 192.9,120.3 192.3,121.6 191.3,122.8 190.2,123.8 189,124.8 187.8,125.6 186.6,126.5 185.3,127.3 184,128 182.7,128.8 181.4,129.5 180,130.1 178.7,130.7 177.3,131.4 175.9,132 174.6,132.6 173.2,133.3 171.9,134 170.6,134.8 169.4,135.7 168.2,136.6 167.1,137.6 166,138.6 164.9,139.7 163.9,140.8 163,141.9 162.1,143.1 161.3,144.4 160.5,145.7 159.9,147.1 159.3,148.4 158.8,149.8 158.3,151.3 157.9,152.7 157.5,154.2 157.3,155.6 157.1,157.1 157,158.6 157,160.1 157,161.6 157.1,163.1 157.4,164.6 157.8,166 158.4,167.4 159.3,168.6 160.2,169.8 161.2,170.9 161.8,171.6" fill="none" stroke="#d00" stroke-width="1.3" stroke-linejoin="round" stroke-linecap="round"/>
<polyline points="155.4,82 156.8,82.5 158.2,83 159.7,83.4 161.1,83.9 162.5,84.4 163.9,84.9 165.3,85.4 166.8,85.9 168.2,86.4 169.5,87 170.9,87.6 172.3,88.2 173.6,88.9 175,89.5 176.3,90.2 177.6,91 178.9,91.8 180,92.7 181.1,93.7 182.1,94.9 182.9,96.1 183.7,97.4 184.3,98.8 184.9,100.2 185.4,101.6 186,103 186.5,104.4 187.1,105.7 187.7,107.1 188.3,108.5 188.8,109.9 189.3,111.3 189.8,112.7 190,113.3" fill="none" stroke="#d00" stroke-width="1.2" stroke-linejoin="round" stroke-linecap="round"/>
<polyline points="164,88.5 165.3,89.3 166.6,90.1 167.8,90.9 169.1,91.6 170.4,92.5 171.6,93.3 172.8,94.2 174,95.2 175,96.2 176,97.4 176.9,98.6 177.7,99.8 178.5,101.1 179.2,102.4 179.9,103.8 180.5,105.1 181.2,106.5 181.7,107.9 182.2,109.3 182.5,110.8 182.8,112.2 183.1,113.7 183.3,115.2 183.4,115.5" fill="none" stroke="#d00" stroke-width="1.2" stroke-linejoin="round" stroke-linecap="round"/>
<text x="82" y="157" class="lb">SN</text><text x="86.5" y="162" class="lb">SN</text><text x="117" y="202" class="lb">SP</text>
<path d="M257.6,22.5 L254.7,43.6 L274.5,55.6 M264.4,36.5 L271.5,31.3" stroke="#111" stroke-width="1.6" fill="none"/>
<polygon points="256.4,37.4 261.4,34.7 266.3,37.1 261.4,39.9" fill="#d8d8d8" stroke="#444" stroke-width="0.6"/><polygon points="256.4,37.4 261.4,39.9 261.4,45.7 256.4,42.9" fill="#c4c4c4" stroke="#444" stroke-width="0.6"/><polygon points="261.4,39.9 266.3,37.1 266.3,42.6 261.4,45.7" fill="#a8a8a8" stroke="#444" stroke-width="0.6"/>
<text x="257.6" y="21" text-anchor="middle" class="tl">Y</text>
<text x="275.3" y="31.2" text-anchor="middle" class="tl">X</text>
<text x="278.6" y="61.1" text-anchor="middle" class="tl">Z</text>
</g>
<g clip-path="url(#cb1)">
<polygon points="120,491.5 295,422.3 295,522 120,522" fill="#dcdcdc"/>
<polygon points="52,522 150,483 295,427 295,522" fill="#c8c8c8"/>
<path d="M60,528 L295,437 M170,477.5 L222.5,522.5" stroke="#333" stroke-width="0.7" fill="none"/>
<path d="M52,521.5 L295,427" fill="none" stroke="#111" stroke-width="1.5"/>
<path d="M170.1,343.3 L170.8,343.3 L170,340.7 L168.9,340.1 L168.2,338.4 L165.5,339.5 L166.4,339.7 L165.6,340.5 L167.8,341.8 L168.9,342.5Z M178.8,343.2 L179.8,339.6 L179.9,335.5 L180,332.2 L176.7,328.3 L173.1,328.5 L171.7,332.7 L172.3,336.7 L173.5,341.7 L175.3,342.9Z M187.6,345.6 L190.5,342.4 L191.7,337.2 L190.7,331.2 L188.1,325.7 L185.2,324 L182.9,328 L181.4,334.6 L181.7,341.8 L184.5,345.8Z M194,349.3 L197.4,347.8 L202,340.5 L202.5,333.8 L200.9,325.5 L199,324.1 L193.6,325.1 L190.5,332.8 L189.2,338.2 L192.2,346.4Z M202.6,352.3 L206.5,351.8 L211.2,347.2 L214.3,337.8 L213.8,326.1 L211.5,323.9 L205.4,323.1 L201.3,328.6 L198,340.5 L198.1,348.3Z M203.9,355 L211.1,356.3 L219,352.7 L223.9,342.8 L227.6,335.2 L225,327.4 L220,325.6 L214.2,329.5 L206.6,340 L203.8,347.5Z M210.2,362.9 L217.3,361.7 L229,356.3 L235.7,348.7 L238,341.7 L235.8,333.9 L230.8,333 L218.8,338.4 L210.6,346.1 L207.5,356Z M210.2,366.5 L218.5,370.3 L227.9,367.8 L242.4,360.4 L247.9,352.3 L246.2,345.4 L240.6,342.8 L227.4,346.4 L213.8,353 L210,358.8Z M210.1,371.1 L217.6,376 L231.3,376.6 L241.2,374.5 L251.4,367.5 L254,359.9 L246,354.8 L236.3,354.6 L222.2,357.5 L212.7,363.2Z M212,374.5 L215.9,383.9 L222.5,385.5 L239.8,385.7 L249.1,382 L256.2,375.9 L252.9,368.8 L241,363.2 L230,364.5 L218,369.3Z M211.1,386.8 L217.4,391.8 L231.8,396 L246.3,396.4 L254.7,392 L255.9,385.6 L249.3,377.5 L238.8,375.1 L223.8,373.4 L214.4,378Z M210.1,389.9 L213.8,397.8 L225.1,403.6 L237.9,406.4 L247.3,406.2 L252.6,401.2 L250.6,394.5 L237.5,385.2 L225.5,383.2 L214.9,385Z M209.7,401.2 L213.5,408 L225.7,413.9 L238.2,417.1 L245.6,414.8 L248.3,408.5 L242.9,401.5 L234.2,396.5 L220.5,392.2 L211.8,394.2Z M206.8,405.6 L209.5,412.7 L214.6,419.1 L228.2,426.1 L236.9,426.1 L241.9,422.2 L240.3,414.3 L231.7,407.3 L221.5,403 L212.5,400.6Z M204.5,410.9 L203.5,416.4 L210.4,426.1 L218.4,433 L226.9,436.7 L233.3,434.5 L232.6,425.7 L227.5,417.9 L220.8,411.9 L211.1,407.8Z M200.1,414.5 L197.3,417.4 L199.8,426.4 L205.9,437 L213.1,441.6 L220.8,443.7 L225.5,440.4 L224.5,432.5 L217.3,422.5 L209.3,415.5Z M194.1,420.5 L190.7,425.1 L192.5,435.9 L198.6,443.7 L206.7,449.5 L213.7,449.7 L216.1,444.1 L214.3,436.9 L206.5,424.8 L199.2,420.5Z M185.7,426.5 L183,432.4 L185.3,441.7 L194,452.7 L198.7,455.3 L206.1,454.4 L207.3,450.1 L203.7,436.9 L195.7,429.6 L190.1,425.3Z M180,431.4 L176.2,433.9 L175.2,442 L182,452.6 L186.6,459 L193.9,460.8 L198.3,456.6 L197.5,448.8 L192.8,440.3 L186.2,432.8Z M167.9,438.3 L168.2,444.8 L170.9,455.7 L177.6,462.4 L183.3,465.9 L189.3,463 L190.1,458.1 L186.9,449.7 L180,440.8 L174.5,436.9Z M161.1,443.8 L159.3,447.8 L161.6,457 L167,465.3 L173.6,469.6 L177.9,470.7 L180.2,465.6 L178.6,458.4 L174.3,450.1 L168.6,443.5Z M154.3,449.5 L152.5,454.9 L154.2,461.7 L158.7,470.2 L165.1,474.6 L169.3,474.5 L170.6,470.4 L169.4,462.2 L165.2,453.6 L158.2,449.7Z M148.8,455.2 L144.7,459.5 L145.6,465.2 L148.2,473.2 L152.7,476.2 L158.7,479 L161.6,474.5 L160.5,469.7 L157.6,460.7 L152.1,456.6Z M136.7,463.5 L137.2,469.1 L138.2,472.4 L142.7,480 L147.4,482.5 L150.4,481.4 L152.5,476.2 L150.6,469.9 L145.7,465.4 L141.3,462.8Z M132,467.6 L129.8,469.4 L128.8,475.2 L132,480.7 L135.8,485.4 L139.8,487.1 L143.6,485.5 L143.3,480.1 L140.3,474.6 L135.9,469.6Z M122.5,474.1 L121.6,477.1 L121.8,484.8 L125.2,488.7 L129.4,492.3 L131.7,490.7 L132.8,486 L132,480.6 L128.8,474.2 L125.1,473Z M114.8,475.5 L111.9,478 L112.3,485.1 L115,492.6 L117.8,495.8 L120.4,495.5 L123,491.6 L124,485.3 L121.1,481.3 L118.5,475.8Z M104.9,477.3 L102.9,482 L102.6,487.3 L104.7,493.1 L106.4,496.7 L111.5,498.5 L114.3,495.3 L113.2,489.1 L111.5,483.6 L108.8,479.5Z M94.7,479.9 L92.4,484.5 L92.7,490.4 L94.3,495.5 L97.3,500.6 L102.6,502.2 L104.2,498.2 L105.1,494 L102.6,486.1 L98.2,481.6Z M83.7,483.6 L83.1,488.6 L83.5,495 L85.5,501.7 L88.8,504.9 L94.6,503.8 L96.1,498.7 L94.3,494.2 L92.3,488.1 L88.5,483.2Z M74.3,486.9 L71.9,492.2 L74.1,498.6 L76.2,504.1 L79.6,507.4 L83.5,507.2 L86.3,502.4 L84.4,493.5 L81.6,489.6 L77.7,485.8Z M67,487.8 L64.1,490.4 L63.1,494.1 L65.2,504.5 L68.2,508.9 L72.9,510.6 L74.6,509.2 L76.7,503 L74,495 L72.2,490.5Z M57.3,491.7 L54.8,495.9 L54,501 L55.8,507.1 L59.7,512.7 L62.4,513.1 L66.1,510.5 L66.2,504.9 L65.1,497.5 L60,493.5Z M48.2,496.3 L46.1,499.5 L45.9,503.7 L47.1,511.1 L50.2,513.6 L53.7,515.1 L55.9,512.4 L55.9,506.8 L53.4,500.4 L50,495.9Z M38.5,499.7 L36.1,503.3 L36.5,508.3 L37.7,513.8 L40.3,516.3 L45.3,516.4 L46.5,514 L45.5,510.2 L42.9,503.5 L40.4,499.9Z M28.7,505 L27.1,509 L28.2,512.5 L29.5,515.6 L33.4,519.4 L35.2,519.3 L37,515.3 L35.8,512.6 L34.1,507.3 L31.1,505.1Z M20.1,513.7 L20.8,514.1 L19.8,516.1 L22.7,517.7 L23.4,520 L24.1,519.4 L26,519.3 L26.1,518.6 L25.1,516.6 L22.5,514.5Z M19.3,517.7 L20.4,518.6 L19.1,518.6 L20.9,519.5 L21.4,520.2 L22.2,521.4 L23.2,520.3 L21.5,519.3 L21.1,518.3 L19.7,518.1Z M170.1,343.3 L178.8,343.2 M170.8,343.3 L179.8,339.6 M170,340.7 L179.9,335.5 M168.9,340.1 L180,332.2 M168.9,340.1 L176.7,328.3 M168.2,338.4 L176.7,328.3 M165.5,339.5 L173.1,328.5 M166.4,339.7 L171.7,332.7 M165.6,340.5 L172.3,336.7 M167.8,341.8 L173.5,341.7 M168.9,342.5 L175.3,342.9 M178.8,343.2 L187.6,345.6 M179.8,339.6 L190.5,342.4 M179.8,339.6 L187.6,345.6 M179.9,335.5 L191.7,337.2 M180,332.2 L190.7,331.2 M176.7,328.3 L188.1,325.7 M173.1,328.5 L185.2,324 M171.7,332.7 L182.9,328 M172.3,336.7 L181.4,334.6 M173.5,341.7 L181.7,341.8 M175.3,342.9 L184.5,345.8 M187.6,345.6 L194,349.3 M190.5,342.4 L197.4,347.8 M191.7,337.2 L202,340.5 M190.7,331.2 L202.5,333.8 M188.1,325.7 L200.9,325.5 M185.2,324 L199,324.1 M182.9,328 L193.6,325.1 M182.9,328 L190.5,332.8 M181.4,334.6 L190.5,332.8 M181.7,341.8 L189.2,338.2 M184.5,345.8 L192.2,346.4 M184.5,345.8 L194,349.3 M194,349.3 L202.6,352.3 M197.4,347.8 L206.5,351.8 M202,340.5 L211.2,347.2 M202,340.5 L214.3,337.8 M202.5,333.8 L214.3,337.8 M202.5,333.8 L211.2,347.2 M200.9,325.5 L213.8,326.1 M199,324.1 L211.5,323.9 M193.6,325.1 L205.4,323.1 M190.5,332.8 L201.3,328.6 M190.5,332.8 L198,340.5 M189.2,338.2 L198,340.5 M192.2,346.4 L198.1,348.3 M202.6,352.3 L203.9,355 M206.5,351.8 L211.1,356.3 M211.2,347.2 L219,352.7 M214.3,337.8 L223.9,342.8 M213.8,326.1 L227.6,335.2 M211.5,323.9 L225,327.4 M205.4,323.1 L220,325.6 M201.3,328.6 L214.2,329.5 M201.3,328.6 L206.6,340 M198,340.5 L206.6,340 M198.1,348.3 L203.8,347.5 M203.9,355 L210.2,362.9 M211.1,356.3 L217.3,361.7 M219,352.7 L229,356.3 M223.9,342.8 L235.7,348.7 M227.6,335.2 L238,341.7 M227.6,335.2 L235.8,333.9 M225,327.4 L235.8,333.9 M220,325.6 L230.8,333 M214.2,329.5 L218.8,338.4 M214.2,329.5 L230.8,333 M206.6,340 L210.6,346.1 M203.8,347.5 L207.5,356 M210.2,362.9 L210.2,366.5 M217.3,361.7 L218.5,370.3 M229,356.3 L227.9,367.8 M235.7,348.7 L242.4,360.4 M235.7,348.7 L227.9,367.8 M238,341.7 L247.9,352.3 M235.8,333.9 L246.2,345.4 M230.8,333 L240.6,342.8 M218.8,338.4 L227.4,346.4 M210.6,346.1 L213.8,353 M207.5,356 L210,358.8 M210.2,366.5 L210.1,371.1 M218.5,370.3 L217.6,376 M227.9,367.8 L231.3,376.6 M242.4,360.4 L241.2,374.5 M247.9,352.3 L251.4,367.5 M246.2,345.4 L254,359.9 M246.2,345.4 L246,354.8 M240.6,342.8 L246,354.8 M227.4,346.4 L236.3,354.6 M213.8,353 L222.2,357.5 M213.8,353 L236.3,354.6 M210,358.8 L212.7,363.2 M210,358.8 L222.2,357.5 M210.1,371.1 L212,374.5 M217.6,376 L215.9,383.9 M231.3,376.6 L222.5,385.5 M241.2,374.5 L239.8,385.7 M251.4,367.5 L249.1,382 M254,359.9 L256.2,375.9 M246,354.8 L252.9,368.8 M246,354.8 L241,363.2 M236.3,354.6 L241,363.2 M222.2,357.5 L230,364.5 M212.7,363.2 L218,369.3 M212,374.5 L211.1,386.8 M215.9,383.9 L217.4,391.8 M215.9,383.9 L231.8,396 M222.5,385.5 L231.8,396 M239.8,385.7 L246.3,396.4 M249.1,382 L254.7,392 M256.2,375.9 L255.9,385.6 M252.9,368.8 L249.3,377.5 M252.9,368.8 L255.9,385.6 M241,363.2 L238.8,375.1 M241,363.2 L223.8,373.4 M230,364.5 L223.8,373.4 M230,364.5 L238.8,375.1 M218,369.3 L214.4,378 M211.1,386.8 L210.1,389.9 M217.4,391.8 L213.8,397.8 M231.8,396 L225.1,403.6 M231.8,396 L237.9,406.4 M246.3,396.4 L237.9,406.4 M246.3,396.4 L225.1,403.6 M254.7,392 L247.3,406.2 M254.7,392 L237.9,406.4 M255.9,385.6 L252.6,401.2 M249.3,377.5 L250.6,394.5 M238.8,375.1 L237.5,385.2 M223.8,373.4 L225.5,383.2 M214.4,378 L214.9,385 M210.1,389.9 L209.7,401.2 M213.8,397.8 L213.5,408 M225.1,403.6 L225.7,413.9 M237.9,406.4 L238.2,417.1 M237.9,406.4 L225.7,413.9 M247.3,406.2 L245.6,414.8 M252.6,401.2 L248.3,408.5 M250.6,394.5 L242.9,401.5 M237.5,385.2 L234.2,396.5 M225.5,383.2 L220.5,392.2 M225.5,383.2 L211.8,394.2 M214.9,385 L211.8,394.2 M209.7,401.2 L206.8,405.6 M213.5,408 L209.5,412.7 M213.5,408 L206.8,405.6 M225.7,413.9 L214.6,419.1 M238.2,417.1 L228.2,426.1 M245.6,414.8 L236.9,426.1 M248.3,408.5 L241.9,422.2 M242.9,401.5 L240.3,414.3 M234.2,396.5 L231.7,407.3 M220.5,392.2 L221.5,403 M211.8,394.2 L212.5,400.6 M206.8,405.6 L204.5,410.9 M206.8,405.6 L211.1,407.8 M209.5,412.7 L203.5,416.4 M214.6,419.1 L210.4,426.1 M228.2,426.1 L218.4,433 M236.9,426.1 L226.9,436.7 M241.9,422.2 L233.3,434.5 M240.3,414.3 L232.6,425.7 M240.3,414.3 L233.3,434.5 M231.7,407.3 L227.5,417.9 M221.5,403 L220.8,411.9 M212.5,400.6 L211.1,407.8 M212.5,400.6 L204.5,410.9 M204.5,410.9 L200.1,414.5 M203.5,416.4 L197.3,417.4 M203.5,416.4 L200.1,414.5 M210.4,426.1 L199.8,426.4 M218.4,433 L205.9,437 M218.4,433 L199.8,426.4 M226.9,436.7 L213.1,441.6 M226.9,436.7 L220.8,443.7 M233.3,434.5 L220.8,443.7 M232.6,425.7 L225.5,440.4 M227.5,417.9 L224.5,432.5 M220.8,411.9 L217.3,422.5 M211.1,407.8 L209.3,415.5 M200.1,414.5 L194.1,420.5 M197.3,417.4 L190.7,425.1 M197.3,417.4 L194.1,420.5 M199.8,426.4 L192.5,435.9 M205.9,437 L198.6,443.7 M213.1,441.6 L206.7,449.5 M220.8,443.7 L213.7,449.7 M225.5,440.4 L216.1,444.1 M224.5,432.5 L214.3,436.9 M217.3,422.5 L206.5,424.8 M209.3,415.5 L199.2,420.5 M194.1,420.5 L185.7,426.5 M190.7,425.1 L183,432.4 M192.5,435.9 L185.3,441.7 M198.6,443.7 L194,452.7 M206.7,449.5 L198.7,455.3 M213.7,449.7 L206.1,454.4 M216.1,444.1 L207.3,450.1 M214.3,436.9 L203.7,436.9 M206.5,424.8 L195.7,429.6 M199.2,420.5 L190.1,425.3 M185.7,426.5 L180,431.4 M183,432.4 L176.2,433.9 M185.3,441.7 L175.2,442 M194,452.7 L182,452.6 M198.7,455.3 L186.6,459 M198.7,455.3 L193.9,460.8 M206.1,454.4 L193.9,460.8 M206.1,454.4 L198.3,456.6 M207.3,450.1 L198.3,456.6 M203.7,436.9 L197.5,448.8 M203.7,436.9 L198.3,456.6 M195.7,429.6 L192.8,440.3 M190.1,425.3 L186.2,432.8 M180,431.4 L167.9,438.3 M176.2,433.9 L168.2,444.8 M175.2,442 L170.9,455.7 M182,452.6 L177.6,462.4 M186.6,459 L183.3,465.9 M193.9,460.8 L189.3,463 M193.9,460.8 L190.1,458.1 M198.3,456.6 L190.1,458.1 M197.5,448.8 L186.9,449.7 M197.5,448.8 L190.1,458.1 M192.8,440.3 L180,440.8 M192.8,440.3 L186.9,449.7 M186.2,432.8 L174.5,436.9 M167.9,438.3 L161.1,443.8 M168.2,444.8 L159.3,447.8 M170.9,455.7 L161.6,457 M177.6,462.4 L167,465.3 M183.3,465.9 L173.6,469.6 M189.3,463 L177.9,470.7 M190.1,458.1 L180.2,465.6 M186.9,449.7 L178.6,458.4 M180,440.8 L174.3,450.1 M174.5,436.9 L168.6,443.5 M161.1,443.8 L154.3,449.5 M159.3,447.8 L152.5,454.9 M161.6,457 L154.2,461.7 M167,465.3 L158.7,470.2 M167,465.3 L154.2,461.7 M173.6,469.6 L165.1,474.6 M173.6,469.6 L169.3,474.5 M177.9,470.7 L169.3,474.5 M177.9,470.7 L170.6,470.4 M180.2,465.6 L170.6,470.4 M178.6,458.4 L169.4,462.2 M178.6,458.4 L165.2,453.6 M174.3,450.1 L165.2,453.6 M168.6,443.5 L158.2,449.7 M154.3,449.5 L148.8,455.2 M152.5,454.9 L144.7,459.5 M152.5,454.9 L148.8,455.2 M154.2,461.7 L145.6,465.2 M158.7,470.2 L148.2,473.2 M158.7,470.2 L152.7,476.2 M165.1,474.6 L152.7,476.2 M169.3,474.5 L158.7,479 M170.6,470.4 L161.6,474.5 M170.6,470.4 L160.5,469.7 M169.4,462.2 L160.5,469.7 M165.2,453.6 L157.6,460.7 M158.2,449.7 L152.1,456.6 M148.8,455.2 L136.7,463.5 M148.8,455.2 L141.3,462.8 M144.7,459.5 L137.2,469.1 M144.7,459.5 L138.2,472.4 M145.6,465.2 L138.2,472.4 M145.6,465.2 L137.2,469.1 M148.2,473.2 L142.7,480 M148.2,473.2 L147.4,482.5 M152.7,476.2 L147.4,482.5 M158.7,479 L150.4,481.4 M161.6,474.5 L152.5,476.2 M160.5,469.7 L150.6,469.9 M157.6,460.7 L145.7,465.4 M152.1,456.6 L141.3,462.8 M152.1,456.6 L145.7,465.4 M136.7,463.5 L132,467.6 M137.2,469.1 L129.8,469.4 M138.2,472.4 L128.8,475.2 M142.7,480 L132,480.7 M142.7,480 L135.8,485.4 M147.4,482.5 L135.8,485.4 M150.4,481.4 L139.8,487.1 M150.4,481.4 L135.8,485.4 M152.5,476.2 L143.6,485.5 M150.6,469.9 L143.3,480.1 M145.7,465.4 L140.3,474.6 M141.3,462.8 L135.9,469.6 M132,467.6 L122.5,474.1 M129.8,469.4 L121.6,477.1 M129.8,469.4 L121.8,484.8 M128.8,475.2 L121.8,484.8 M132,480.7 L125.2,488.7 M135.8,485.4 L129.4,492.3 M135.8,485.4 L125.2,488.7 M139.8,487.1 L131.7,490.7 M143.6,485.5 L132.8,486 M143.3,480.1 L132,480.6 M140.3,474.6 L128.8,474.2 M135.9,469.6 L125.1,473 M135.9,469.6 L128.8,474.2 M122.5,474.1 L114.8,475.5 M121.6,477.1 L111.9,478 M121.8,484.8 L112.3,485.1 M125.2,488.7 L115,492.6 M129.4,492.3 L117.8,495.8 M131.7,490.7 L120.4,495.5 M132.8,486 L123,491.6 M132,480.6 L124,485.3 M132,480.6 L123,491.6 M128.8,474.2 L121.1,481.3 M128.8,474.2 L118.5,475.8 M125.1,473 L118.5,475.8 M114.8,475.5 L104.9,477.3 M111.9,478 L102.9,482 M112.3,485.1 L102.6,487.3 M115,492.6 L104.7,493.1 M117.8,495.8 L106.4,496.7 M120.4,495.5 L111.5,498.5 M120.4,495.5 L114.3,495.3 M123,491.6 L114.3,495.3 M124,485.3 L113.2,489.1 M121.1,481.3 L111.5,483.6 M121.1,481.3 L108.8,479.5 M118.5,475.8 L108.8,479.5 M104.9,477.3 L94.7,479.9 M104.9,477.3 L92.4,484.5 M102.9,482 L92.4,484.5 M102.9,482 L94.7,479.9 M102.6,487.3 L92.7,490.4 M104.7,493.1 L94.3,495.5 M106.4,496.7 L97.3,500.6 M106.4,496.7 L94.3,495.5 M111.5,498.5 L102.6,502.2 M114.3,495.3 L104.2,498.2 M113.2,489.1 L105.1,494 M111.5,483.6 L102.6,486.1 M108.8,479.5 L98.2,481.6 M108.8,479.5 L102.6,486.1 M94.7,479.9 L83.7,483.6 M92.4,484.5 L83.1,488.6 M92.7,490.4 L83.5,495 M94.3,495.5 L85.5,501.7 M94.3,495.5 L88.8,504.9 M97.3,500.6 L88.8,504.9 M97.3,500.6 L85.5,501.7 M102.6,502.2 L94.6,503.8 M104.2,498.2 L96.1,498.7 M105.1,494 L94.3,494.2 M102.6,486.1 L92.3,488.1 M98.2,481.6 L88.5,483.2 M98.2,481.6 L83.7,483.6 M83.7,483.6 L74.3,486.9 M83.1,488.6 L71.9,492.2 M83.5,495 L74.1,498.6 M83.5,495 L71.9,492.2 M85.5,501.7 L76.2,504.1 M88.8,504.9 L79.6,507.4 M94.6,503.8 L83.5,507.2 M96.1,498.7 L86.3,502.4 M96.1,498.7 L84.4,493.5 M94.3,494.2 L84.4,493.5 M92.3,488.1 L81.6,489.6 M88.5,483.2 L77.7,485.8 M74.3,486.9 L67,487.8 M71.9,492.2 L64.1,490.4 M74.1,498.6 L63.1,494.1 M76.2,504.1 L65.2,504.5 M79.6,507.4 L68.2,508.9 M83.5,507.2 L72.9,510.6 M86.3,502.4 L74.6,509.2 M84.4,493.5 L76.7,503 M84.4,493.5 L74.6,509.2 M81.6,489.6 L74,495 M77.7,485.8 L72.2,490.5 M77.7,485.8 L67,487.8 M67,487.8 L57.3,491.7 M67,487.8 L54.8,495.9 M64.1,490.4 L54.8,495.9 M63.1,494.1 L54,501 M65.2,504.5 L55.8,507.1 M68.2,508.9 L59.7,512.7 M72.9,510.6 L62.4,513.1 M74.6,509.2 L66.1,510.5 M76.7,503 L66.2,504.9 M74,495 L65.1,497.5 M74,495 L66.2,504.9 M72.2,490.5 L60,493.5 M57.3,491.7 L48.2,496.3 M57.3,491.7 L46.1,499.5 M54.8,495.9 L46.1,499.5 M54,501 L45.9,503.7 M54,501 L46.1,499.5 M55.8,507.1 L47.1,511.1 M59.7,512.7 L50.2,513.6 M62.4,513.1 L53.7,515.1 M66.1,510.5 L55.9,512.4 M66.2,504.9 L55.9,506.8 M65.1,497.5 L53.4,500.4 M60,493.5 L50,495.9 M48.2,496.3 L38.5,499.7 M48.2,496.3 L36.1,503.3 M46.1,499.5 L36.1,503.3 M45.9,503.7 L36.5,508.3 M47.1,511.1 L37.7,513.8 M50.2,513.6 L40.3,516.3 M53.7,515.1 L45.3,516.4 M55.9,512.4 L46.5,514 M55.9,506.8 L45.5,510.2 M53.4,500.4 L42.9,503.5 M50,495.9 L40.4,499.9 M50,495.9 L42.9,503.5 M38.5,499.7 L28.7,505 M36.1,503.3 L27.1,509 M36.5,508.3 L28.2,512.5 M37.7,513.8 L29.5,515.6 M40.3,516.3 L33.4,519.4 M45.3,516.4 L35.2,519.3 M46.5,514 L37,515.3 M45.5,510.2 L35.8,512.6 M42.9,503.5 L34.1,507.3 M40.4,499.9 L31.1,505.1 M28.7,505 L20.1,513.7 M27.1,509 L20.8,514.1 M28.2,512.5 L19.8,516.1 M29.5,515.6 L22.7,517.7 M29.5,515.6 L23.4,520 M33.4,519.4 L23.4,520 M35.2,519.3 L24.1,519.4 M37,515.3 L26,519.3 M37,515.3 L24.1,519.4 M35.8,512.6 L26.1,518.6 M34.1,507.3 L25.1,516.6 M34.1,507.3 L26.1,518.6 M31.1,505.1 L22.5,514.5 M20.1,513.7 L19.3,517.7 M20.8,514.1 L20.4,518.6 M19.8,516.1 L19.1,518.6 M22.7,517.7 L20.9,519.5 M22.7,517.7 L19.1,518.6 M23.4,520 L21.4,520.2 M24.1,519.4 L22.2,521.4 M26,519.3 L23.2,520.3 M26.1,518.6 L21.5,519.3 M25.1,516.6 L21.1,518.3 M22.5,514.5 L19.7,518.1" stroke="#505050" stroke-width="0.7" fill="none"/>
<path d="M251.6,352.8 L251.9,351.4 L252.8,349.7 L251.1,350.4 L251.8,351.8 L251.2,352.5Z M261.7,350.6 L263.7,348.5 L261.8,345.5 L259.7,345.4 L260.1,347.2 L260.1,349.8Z M271.2,347.7 L273.7,345.4 L271.3,341.7 L268.8,340.4 L268.2,343.3 L269.9,347Z M282.3,345 L282.6,343.3 L281.2,337.6 L279.8,336 L277.4,339.2 L278.5,342.8Z M291.8,342.2 L291.8,339.3 L291.7,334.6 L288.1,333.4 L287.9,336.9 L288.9,341.4Z M297.8,340 L297.4,337.3 L296.8,333.1 L294.7,331.8 L294.6,333.7 L294.1,337.4Z M251.6,352.8 L261.7,350.6 M251.9,351.4 L263.7,348.5 M252.8,349.7 L261.8,345.5 M251.1,350.4 L259.7,345.4 M251.8,351.8 L260.1,347.2 M251.8,351.8 L260.1,349.8 M251.2,352.5 L260.1,349.8 M261.7,350.6 L271.2,347.7 M261.7,350.6 L273.7,345.4 M263.7,348.5 L273.7,345.4 M261.8,345.5 L271.3,341.7 M259.7,345.4 L268.8,340.4 M260.1,347.2 L268.2,343.3 M260.1,349.8 L269.9,347 M271.2,347.7 L282.3,345 M273.7,345.4 L282.6,343.3 M271.3,341.7 L281.2,337.6 M268.8,340.4 L279.8,336 M268.8,340.4 L281.2,337.6 M268.2,343.3 L277.4,339.2 M268.2,343.3 L279.8,336 M269.9,347 L278.5,342.8 M282.3,345 L291.8,342.2 M282.3,345 L291.8,339.3 M282.6,343.3 L291.8,339.3 M281.2,337.6 L291.7,334.6 M281.2,337.6 L288.1,333.4 M279.8,336 L288.1,333.4 M279.8,336 L291.7,334.6 M277.4,339.2 L287.9,336.9 M277.4,339.2 L288.1,333.4 M278.5,342.8 L288.9,341.4 M291.8,342.2 L297.8,340 M291.8,339.3 L297.4,337.3 M291.7,334.6 L296.8,333.1 M288.1,333.4 L294.7,331.8 M288.1,333.4 L294.6,333.7 M287.9,336.9 L294.6,333.7 M288.9,341.4 L294.1,337.4" stroke="#505050" stroke-width="0.7" fill="none"/>
<path d="M11.2,476 L10.4,476.1 L9.5,475.2 L9.4,474.3 L9.8,475.7 L10.4,476.5Z M19,474.8 L20.4,473.3 L18.7,471.5 L17.4,469.6 L17.3,471.4 L17.7,472.8Z M27.8,471.3 L27.4,470.1 L27.8,469 L26.1,466.7 L25.9,468.1 L25.1,470.9Z M35.7,468.8 L36.7,467.9 L36.7,464.7 L33.8,465.4 L35,466.9 L35.1,469.3Z M39.5,467.6 L38.4,466.5 L39.2,465.5 L36.6,464.2 L37,466 L37.4,468.1Z M11.2,476 L19,474.8 M10.4,476.1 L20.4,473.3 M9.5,475.2 L18.7,471.5 M9.4,474.3 L17.4,469.6 M9.8,475.7 L17.3,471.4 M10.4,476.5 L17.7,472.8 M19,474.8 L27.8,471.3 M20.4,473.3 L27.4,470.1 M18.7,471.5 L27.8,469 M17.4,469.6 L26.1,466.7 M17.3,471.4 L25.9,468.1 M17.7,472.8 L25.1,470.9 M27.8,471.3 L35.7,468.8 M27.8,471.3 L35.1,469.3 M27.4,470.1 L36.7,467.9 M27.8,469 L36.7,464.7 M26.1,466.7 L33.8,465.4 M25.9,468.1 L35,466.9 M25.1,470.9 L35.1,469.3 M35.7,468.8 L39.5,467.6 M35.7,468.8 L37.4,468.1 M36.7,467.9 L38.4,466.5 M36.7,464.7 L39.2,465.5 M33.8,465.4 L36.6,464.2 M35,466.9 L37,466 M35.1,469.3 L37.4,468.1" stroke="#505050" stroke-width="0.7" fill="none"/>
<path d="M179,338.5l-4.3,-4.5 M181.9,337.7l-3.8,-4.5 M184.9,337.5l-4.1,-5.2 M187.9,337.5l-3.4,-5 M190.9,337.6l-3,-5 M193.9,337.9l-3.1,-5.9 M196.8,338.3l-3.4,-7.3 M199.8,338.9l-2.8,-7.2 M202.7,339.6l-2.3,-7.3 M205.5,340.5l-1.5,-6 M208.3,341.7l-1.1,-6.9 M211,343.1l-0.4,-6.3 M213.5,344.7l0.1,-6.1 M215.8,346.6l0.6,-5.9 M218.1,348.6l1,-6.1 M220.2,350.7l1.8,-7.8 M222.1,353l2.3,-7.4 M223.9,355.4l2.8,-7.2 M225.5,358l3.4,-7 M226.9,360.6l3.1,-5.3 M228.1,363.4l3.6,-5.3 M229.1,366.2l4.5,-5.7 M229.9,369.1l5,-5.6 M230.5,372l5.6,-5.5 M230.9,375l6,-5.2 M231.2,378l4.7,-3.5 M231.2,381l6,-4 M231.1,384l6.3,-3.8 M230.8,387l6.1,-3.3 M230.4,389.9l5.5,-2.6 M229.9,392.9l6.3,-2.7 M229.2,395.8l5.5,-2 M228.4,398.7l7.7,-2.5 M227.5,401.6l7.6,-2.2 M226.5,404.4l6.9,-1.7 M225.4,407.2l6.3,-1.3 M224.2,409.9l7.9,-1.2 M222.9,412.6l7.1,-0.7 M221.4,415.2l7.9,-0.4 M219.7,417.7l7.9,0 M218,420.1l7,0.3 M216.1,422.5l6.7,0.6 M214.1,424.8l7.1,0.9 M212.1,427l6.7,1.1 M210,429.1l5.9,1.3 M207.8,431.1l6.2,1.7 M205.4,433l7.3,2.5 M202.9,434.7l5.3,2.1 M200.4,436.2l5.2,2.4 M197.8,437.8l6.6,3.1 M195.2,439.2l5.7,2.8 M192.6,440.7l6.3,3.1 M192,441l6.2,3" stroke="#111" stroke-width="1.0" fill="none" stroke-linecap="round"/>
<polyline points="179,338.5 180.4,338.1 181.9,337.7 183.4,337.6 184.9,337.5 186.4,337.5 187.9,337.5 189.4,337.6 190.9,337.6 192.4,337.7 193.9,337.9 195.4,338.1 196.8,338.3 198.3,338.6 199.8,338.9 201.2,339.3 202.7,339.6 204.1,340.1 205.5,340.5 206.9,341.1 208.3,341.7 209.7,342.3 211,343.1 212.2,343.9 213.5,344.7 214.7,345.6 215.8,346.6 217,347.6 218.1,348.6 219.1,349.6 220.2,350.7 221.2,351.8 222.1,353 223,354.2 223.9,355.4 224.7,356.7 225.5,358 226.2,359.3 226.9,360.6 227.5,362 228.1,363.4 228.6,364.8 229.1,366.2 229.5,367.6 229.9,369.1 230.2,370.5 230.5,372 230.7,373.5 230.9,375 231.1,376.5 231.2,378 231.2,379.5 231.2,381 231.2,382.5 231.1,384 231,385.5 230.8,387 230.7,388.5 230.4,389.9 230.2,391.4 229.9,392.9 229.6,394.4 229.2,395.8 228.9,397.3 228.4,398.7 228,400.1 227.5,401.6 227.1,403 226.5,404.4 226,405.8 225.4,407.2 224.8,408.6 224.2,409.9 223.6,411.3 222.9,412.6 222.2,413.9 221.4,415.2 220.6,416.5 219.8,417.7 218.9,419 218,420.2 217.1,421.4 216.2,422.5 215.2,423.7 214.2,424.8 213.2,425.9 212.2,427 211.1,428.1 210,429.1 208.9,430.1 207.8,431.1 206.6,432 205.4,432.9 204.2,433.8 203,434.6 201.7,435.5 200.4,436.2 199.1,437 197.8,437.8 196.5,438.5 195.2,439.2 193.9,439.9 192.6,440.6 191.2,441.3 189.9,442 188.6,442.8 187.3,443.5 185.9,444.1 184.6,444.8 183.2,445.5 181.9,446.1 180.5,446.8 179.2,447.4 177.8,448 176.5,448.7 175.1,449.3 173.7,449.9 172.4,450.5 171,451.2 169.6,451.8 168.5,452.3" fill="none" stroke="#d40000" stroke-width="1.6" stroke-linejoin="round" stroke-linecap="round"/>
<path d="M168,345 l7,-4" stroke="#111" stroke-width="2.5"/>
<path d="M262.5,293.4 L257.6,316 L273.5,329.7 M268.6,311.1 L276.6,308.1" stroke="#111" stroke-width="1.6" fill="none"/>
<polygon points="258.4,310.9 263.3,308.2 268.2,310.6 263.3,313.4" fill="#d8d8d8" stroke="#444" stroke-width="0.6"/><polygon points="258.4,310.9 263.3,313.4 263.3,319.2 258.4,316.4" fill="#c4c4c4" stroke="#444" stroke-width="0.6"/><polygon points="263.3,313.4 268.2,310.6 268.2,316.1 263.3,319.2" fill="#a8a8a8" stroke="#444" stroke-width="0.6"/>
<text x="262.5" y="291.9" text-anchor="middle" class="tl">Y</text>
<text x="280.7" y="309.1" text-anchor="middle" class="tl">X</text>
<text x="276.9" y="334.9" text-anchor="middle" class="tl">Z</text>
</g>
<g clip-path="url(#cc1)">
<polygon points="10,708 192,786 10,786" fill="#b6b6b6"/>
<path d="M10,756 L57.5,722.5 M10,756 L75,777.5" stroke="#333" stroke-width="0.7" fill="none"/>
<path d="M10,705.5 L244,784.6" fill="none" stroke="#111" stroke-width="1.5"/>
<path d="M93.5,740.3 L93.3,738.8 L93,738.8 L92.2,737.8 L91.8,738.2 L90.1,737.9 L88.8,736.7 L88.9,736.6 L87.2,737.6 L86.7,738.1 L86.6,739.6 L86.6,740 L86.6,740.8 L87.7,741 L88.3,740.6 L90.4,741.3 L93.2,741.6 L93.9,739.9Z M101.6,733.9 L101.2,733.1 L100.7,729 L99.1,728.6 L93,726.6 L90.1,726.9 L86.3,725.8 L81.9,727 L81.6,729 L79.4,730.8 L78.9,732.1 L79.7,733.6 L82.5,735.8 L87.8,736.9 L91.5,737.4 L92.3,737.3 L95.7,736.4 L99.6,735.3Z M105.7,727.3 L105.6,725.5 L104.5,721.8 L101,719.8 L95.6,717.6 L93.2,718.2 L85.2,718.2 L83.4,717.9 L77.9,720.3 L76.5,723 L75.9,726.1 L78.9,727.6 L82.1,729.9 L85.1,731.2 L90.7,732.2 L94,732.1 L100.4,731.5 L102.2,730.2Z M107.9,717.2 L105.6,715.5 L103.7,712 L100.4,711.8 L95.2,710.2 L89,709.6 L83.2,711.4 L78.3,713 L76.1,715.1 L75.3,719.3 L76,721.6 L79.2,723.3 L83.2,724.7 L88.2,726.9 L94.2,726.7 L99.2,724 L104.2,722.3 L105.1,720.4Z M106.8,709.9 L107.1,708.6 L103.4,705.8 L98.4,703.8 L93.9,702.2 L86.1,703.4 L81.2,704.5 L79.5,706.3 L74.3,709.7 L74.2,712 L76.3,715.1 L78.9,717.3 L83,717.9 L88.4,719.8 L91.4,718.6 L98.7,717.9 L101.9,716.1 L105.7,712.5Z M106.8,704.1 L105,701.5 L104.8,699.2 L100.5,698.1 L94.9,695.8 L88.7,695.3 L83.3,697.6 L79.7,698 L75.7,702.1 L74.2,704.8 L74.3,707.2 L77.4,709.6 L82.4,710.9 L84,711.2 L92.7,712 L98.2,710.3 L100.4,709.4 L104.5,707.4Z M106.6,695.2 L105.5,692.9 L104,691.1 L97.9,689.5 L94.2,689.4 L89.6,689.2 L82,689.4 L77.3,692.7 L74.2,694.3 L72.6,697.1 L73.9,701.1 L76.3,702.2 L79.1,705.1 L88.2,706.1 L91,705.8 L98.6,703.4 L102.1,702.6 L104,698.9Z M106.1,686.3 L104.5,683.9 L100.1,682.3 L96.1,681.6 L90.4,681.5 L84.6,683.1 L79.5,683.6 L75,687.2 L72.8,688.1 L72.7,693 L72.9,694.7 L77.9,697.6 L82.5,697.9 L86.9,699.8 L94.9,698.5 L98.2,696.1 L103.3,693.9 L105.4,690.1Z M106,681.6 L104.6,676.2 L99.3,674.5 L95.1,674.6 L89.5,674.1 L80.2,674.8 L75.5,677.2 L70.9,679.9 L70.7,681.7 L69.3,685.2 L72.4,689.2 L75.8,691.8 L78.7,692.5 L84.5,692.1 L93.7,691.5 L98.5,690.9 L104.1,685.2 L107.2,683.8Z M107,673 L104.5,670.2 L97.7,667.3 L90.1,665.5 L85.8,666.8 L78.4,668.5 L72,670.7 L69.3,672.1 L67.4,677.8 L67.5,679.9 L69.5,683.2 L76.8,685.8 L83,686.2 L89.3,686.9 L94.7,685.6 L101.1,683.1 L105.7,678.2 L107.5,676.4Z M107.7,668.3 L107.7,665.6 L104.5,663 L100.6,660.5 L90.9,659.1 L87,658.5 L77.6,660.6 L71,662.2 L66.6,666.1 L66.5,668.3 L67.4,673.6 L69.1,675.6 L74.6,678.3 L82.3,680 L90.6,679 L97.8,677.7 L99.8,676.3 L107.2,672.9Z M109,664.4 L109.1,660.2 L103.7,654.7 L100.4,654.5 L94.5,652.5 L86.2,651.7 L77.3,651.8 L71.8,654.1 L67.3,657.5 L64.9,662.2 L65.6,665.1 L66.6,668.2 L74.2,672.1 L78.9,672.5 L84.9,672.3 L94,672.6 L99.7,671.8 L106.4,666.4Z M109.2,656.7 L109.3,653.5 L105.4,649.8 L101.6,647.5 L92.1,644.6 L85.9,643.5 L76.9,645.2 L72.6,646 L66.4,650.8 L64.4,651.6 L64.4,656.8 L68.4,662.2 L72.4,662.5 L80.8,666.4 L85.9,667.2 L94.4,665.5 L101.6,663.4 L107,661.9Z M109.6,650.3 L107.6,645.6 L104.5,641.9 L95.9,638 L93,638 L79.9,637.4 L72.4,639 L70.6,640.4 L64.3,645 L64.1,647.1 L66.4,652.1 L72.1,656.2 L75.3,657.1 L83,659.3 L92.2,660.4 L96.8,659.3 L104.8,657.1 L109,651.6Z M111.1,644.8 L110.8,641.6 L109.1,636.3 L101.5,632.1 L92.9,630.6 L87.6,628.3 L78.5,629.9 L70.7,631.5 L68.7,632.4 L63.6,639.1 L63.6,642.4 L66.8,646.1 L74.7,650.4 L77.5,651.9 L88.2,653 L97.5,653.9 L102.2,652 L109.4,648.2Z M112.7,635.4 L111.7,630.3 L107.4,627 L100.4,625.2 L95,623.4 L81.8,621.2 L74.1,622.3 L69.2,623.6 L64.3,628.6 L63.4,630.2 L66.7,638.3 L69.7,641.6 L74.9,643.8 L81.8,646 L92.1,647.3 L98.2,647 L110.3,643.6 L112.4,639.2Z M113.6,635.9 L115.3,629.1 L114.7,625.9 L106.4,619.8 L101.3,617.5 L94.8,614.4 L82.2,613.3 L78.5,614.4 L71.6,615.2 L64.5,619 L63.2,625.8 L64.9,626.7 L68.5,632.4 L79.6,638.3 L87.8,640.3 L94.3,642.1 L104.9,640.1 L111,638.7Z M118.4,624.9 L113.9,617.4 L107.8,612.8 L101.3,608.8 L89.8,606.6 L84.7,605.6 L76.9,605.5 L66.8,609.2 L64.4,611.9 L63.8,616.1 L67.2,622.8 L72.4,627.6 L79.4,629.9 L89.3,634.3 L97.4,635 L108.5,634.9 L113.1,632.5 L116.3,630.6Z M118.5,626.6 L120.2,623.1 L119.5,616.9 L116,611.4 L108.3,605.9 L103.4,603.1 L91.2,598.7 L80.9,598 L73,598.4 L68.4,601.4 L66.3,604.6 L67,613.2 L68.4,616 L78.2,623 L86.5,627.3 L97.1,630.3 L105.3,630.6 L110.2,630Z M123.1,619.7 L123.6,615.2 L118.8,606.7 L113.3,601.5 L107.6,598.1 L96.9,592.9 L85,589.6 L80.3,590.3 L70.9,593.2 L68.2,595.9 L67.6,601.6 L70.1,605.3 L74.9,612.3 L87.1,619.7 L92.5,621.8 L105.8,624.1 L109.1,624.7 L119.8,623Z M121.8,618.7 L124.3,615.2 L126.5,611.1 L119.8,599.4 L116.3,594.5 L109,589 L100.1,584.6 L86.9,581.9 L81.7,581 L75.8,583.4 L72,586.4 L71.9,592.3 L74.2,599.5 L82.6,608.7 L87,611.8 L100,618.4 L107.6,619.9 L115,620.6Z M128.9,611.5 L128.6,608.9 L127.6,600.8 L121.5,592 L112.2,583.5 L102.9,577 L96.5,575.9 L88.6,572.3 L80.4,573.8 L76.9,578.8 L75.6,582.1 L78.9,590.3 L83.5,598.3 L92.7,606.3 L98.5,611 L110.4,615.4 L117.8,617.7 L125.6,615.6Z M126.2,612.8 L128.1,612.3 L132,603.4 L130.6,599.5 L127.6,591.5 L121.9,582.9 L111.2,574.5 L105.1,569.1 L95.7,566.6 L87.3,566.4 L84.4,568.1 L82.8,576.3 L84.7,583.7 L88.7,593.1 L94.5,599.1 L102.4,606.2 L108.2,608.9 L117.3,613.7Z M133.4,606.2 L135.3,601.3 L134.8,593.3 L131.2,586 L121.2,572.5 L117.6,569.5 L105,561.8 L97.7,559.8 L95.2,559.8 L89.6,564.9 L88.6,569.8 L90.1,580.7 L95.5,589.7 L101.8,595.5 L110.6,604.6 L116.3,607 L122.4,610.7 L130.4,609Z M136.2,605.9 L139.7,599.4 L139.7,591.1 L137.8,584.7 L132.2,576.5 L123.7,564.2 L121.1,560.6 L110.1,554.9 L103.4,554.2 L98.4,556.8 L95.2,562.1 L96.1,565.3 L98,573.2 L103.2,587.2 L106,591.7 L117.5,602.8 L126.1,606.3 L132.4,607.4Z M135.9,604.7 L140,601.2 L142.9,597.6 L142.7,588.7 L141.6,580.2 L137.2,569.2 L127.7,558.1 L123.9,552.6 L118,550.9 L109.8,549.7 L106.5,553.6 L103.6,558.3 L104.4,566.1 L106.4,578.5 L109.7,581.8 L114.4,591.7 L123.2,600 L129.4,603.3Z M135.6,603.4 L141.9,601.3 L145.9,596.5 L147.2,590.3 L145.9,575.7 L143.7,569.3 L140,559.6 L133.9,552.3 L127,546.7 L121.4,545.4 L118,546.6 L112.6,553.9 L112.9,560 L112,569.1 L115.2,577.7 L122.1,591.1 L125.7,595.2 L132.7,602.6Z M144.6,600.7 L149.4,595.9 L152.3,584.5 L152.4,577.6 L149.4,566.4 L145.7,554 L141,548.8 L138.5,545.8 L130.4,543.1 L126,544.8 L122.8,551.2 L121.7,557.9 L121.8,570.5 L122.1,578.5 L125.3,586.4 L130.8,596 L134.2,598.1 L140.6,601Z M143.9,600 L148.8,599.9 L152.9,596.4 L155.1,589.9 L158.1,582.5 L157.3,567.5 L155.8,560.7 L151.5,549.8 L148.8,544.2 L145.1,543.4 L138.5,543.3 L135.3,544.1 L131.6,552.1 L128.2,561.9 L129,574.8 L131.2,584.7 L132.7,588.3 L138.1,597.4Z M145.7,598.2 L153.2,598.9 L156.5,597.3 L161.1,588.7 L163.1,584.8 L165.7,572.2 L163.8,560.4 L161.9,553.7 L158.5,547.4 L153.5,543.4 L149.4,541.4 L146.2,544.7 L141.3,550.5 L136.4,560.6 L136.2,573.2 L136.9,583.1 L139.3,590.2 L142.5,594.8Z M157.3,600.2 L161.9,597.3 L167.1,591.2 L170.8,583 L172.3,568.5 L170.9,563 L170.7,555 L167,548 L159.6,542.3 L156.6,543.4 L153.7,545.7 L147.3,553.3 L144.4,559.7 L142.8,573.2 L143.3,580.7 L146.1,590.5 L148.2,595.2 L154.3,599.2Z M158,599.3 L166.1,599.8 L170.8,595.2 L173.5,591.5 L177.3,579.7 L178.5,567.6 L179.1,559.7 L176.5,551.3 L173.3,547.2 L167.6,544.1 L165.1,544.1 L161.1,546.5 L154.5,553.4 L152.4,563.6 L150.2,569.3 L151,585.3 L151.3,589.8 L156.1,596.9Z M166.3,600.3 L172.9,597.3 L180.4,590.3 L183,582.3 L185.8,572.8 L186.1,564.8 L184.8,557.6 L182.9,548.4 L178.3,546.6 L173.3,545.9 L168.9,548.5 L164.8,554.2 L160.5,562.2 L157.1,570.7 L156.3,581.2 L156.5,589.6 L158.1,594.7 L164.4,600.2Z M167.8,600.7 L171.6,601.3 L178.5,598.8 L185.2,591 L189.5,586 L192.4,573.8 L193.2,565.1 L192.7,558.3 L191.5,553 L185.2,548.2 L180.4,548.9 L175.2,553.3 L171.9,556.6 L164.9,567.6 L164.9,571.7 L162.3,584.1 L162.6,589.4 L164,596.8Z M176.2,603.1 L181.7,602 L185.9,600.2 L191.4,593.9 L197.8,583.2 L200.5,573.5 L201.2,563.4 L200.5,557.9 L197.8,554 L193.1,551.9 L188.8,552.8 L181.6,558.2 L175.2,565.7 L172.4,570.9 L168.8,580.7 L168.3,588.5 L169.2,595.3 L172.5,601.6Z M175.2,601 L181.8,605.2 L185,604.7 L189.2,602.8 L196.8,596.8 L202.6,587.4 L205.9,577.8 L207.5,573.1 L208.3,566.6 L207.1,559.6 L199.9,554.4 L196.6,556.2 L191.3,559.1 L183.9,564.9 L179.4,574.3 L174.6,583.4 L174,590.3 L174.6,596.4Z M182.7,605.4 L186.8,608 L190.3,606.8 L199.8,600.4 L204.8,595.6 L211,586.2 L214.5,580 L214.8,573.9 L214.1,563.8 L212.2,561.8 L207.6,560.3 L202.7,561.7 L194.2,567.1 L189.7,570.7 L185.3,575.9 L181.3,586.3 L178.7,593.1 L179.8,601.2Z M181.3,603.6 L186.2,609 L190.2,608.2 L200.3,605.9 L205.7,603.3 L214.1,594.5 L218.1,590.7 L221.5,584.7 L224.1,574.8 L222.1,569.6 L220,568.4 L213.3,567.8 L206.1,570.2 L200.9,572.5 L193.1,577.7 L188.8,583.4 L182.4,594.7 L181.5,600.5Z M185.1,609.1 L190.1,610.6 L200.1,611 L203.2,609.2 L215.8,603.3 L223,598.2 L227.5,591.8 L229.5,587.6 L229.2,580.6 L227.9,577.6 L224.7,576.4 L213.8,577.6 L206.2,579.7 L198,582.9 L192.9,588.6 L184.3,597.2 L182.8,600.5 L184.2,605.5Z M186.4,606.9 L189.1,612.9 L193.1,616.2 L199.1,616 L209.5,614.9 L212.2,612.4 L224.6,606.5 L226.8,603.6 L233,595.3 L234.7,591.8 L233.5,586.9 L228.8,585.1 L222,583.5 L213.1,583.9 L205.1,588.3 L199,590.8 L189.7,598.1 L186.5,602.4Z M187.5,612.7 L189.1,617 L196.8,619.3 L203.5,620 L211.2,620.5 L219.5,618.4 L229.2,612.8 L234.4,607.5 L236.8,603.1 L236.4,598.8 L235.6,595.4 L228,592 L220.4,592.5 L210.7,592.8 L206,595.6 L194.7,601.5 L190.1,604.7 L189.3,608.2Z M189.5,619.6 L193.9,624.3 L196.5,625.2 L204.9,626.5 L215.4,625.5 L220.7,623.7 L228,621.1 L233.7,618.1 L238.3,611.3 L238.2,607.5 L236.6,603.7 L228.1,600.8 L226.2,599.7 L217.2,599.4 L206.3,602.8 L196.1,607.4 L192,611.3 L189.6,615Z M191.6,619.6 L191.2,624.8 L194.9,629.8 L200.8,631.8 L206.2,633.6 L216.9,631.9 L224.9,631.2 L233.5,626.3 L237,623 L239.7,617.3 L239.6,616.1 L237.2,611.8 L231.6,608.7 L221.6,607.7 L215,608 L205.2,610.6 L200.7,611.5 L193.6,618.4Z M192.9,631.2 L195.9,633.9 L200.5,636.7 L208.1,639.4 L212,638.9 L224.3,638 L230.9,634.6 L237.2,631.6 L238.9,627.6 L240.5,623.1 L237.3,620.1 L234.4,618.3 L225.8,614.6 L215.5,614.3 L212.2,615.2 L204.8,618.6 L199,620 L193.4,627.3Z M195.1,633.5 L194.2,635.6 L197.7,641.2 L204.4,643.5 L212.7,645.5 L220.5,645.7 L225.8,644.8 L234.6,640.5 L238.1,638.2 L240.4,634.6 L239.5,631.4 L234.5,627.2 L229.2,623.6 L222.2,623.1 L214.3,622.9 L207.2,624.4 L201.4,625.1 L194.9,630.6Z M194.3,639.4 L195.3,642.8 L196.9,645.4 L201.5,648.4 L208.4,650.1 L218.3,651.5 L224.8,651.6 L231.4,650.1 L235.1,647.7 L237.8,643 L238.5,639.9 L234.4,635.2 L228.9,632 L226.1,631.4 L214.7,629.4 L207.9,630.4 L200.7,632.5 L197.5,633.6Z M194.3,645 L195.2,648.3 L197.5,651.7 L203,655.9 L209.5,656.8 L215.4,659 L221.4,658.5 L229.3,657 L232.8,656.3 L237.2,652.3 L236.2,648.8 L235.2,644.7 L228.5,640.7 L223.6,637.7 L214.5,637.1 L207.9,636.8 L201.6,639.2 L197.9,639.2Z M193.7,650.5 L195.3,653.4 L198.4,657.3 L201.5,660.9 L207.6,663.8 L214.7,665.2 L222.1,666.4 L226.6,665 L232.8,664.1 L234,660.3 L234.5,656.3 L232.3,652.4 L227.5,647.9 L220,644.8 L214.8,643.8 L210.9,644.1 L200.8,644.7 L197.1,647.4Z M192.9,656.2 L193.6,658.6 L196.6,663.6 L198.1,664.8 L204.3,669.8 L211.9,672.7 L218.6,672.1 L225,672.3 L230.3,669.8 L231.8,668.5 L231.3,663 L229.9,661 L224.7,655.9 L217.7,652.6 L212.1,651.9 L207.1,649.6 L200.5,650.4 L196.9,652.9Z M192.6,662.5 L193.3,666.5 L195.3,670.7 L201.3,673.1 L207.9,678.1 L212.9,679 L217.1,679.5 L224.1,679.2 L227.7,677.8 L229.3,676.3 L229.3,671.8 L226,667.1 L221.6,663.4 L216.9,659.3 L208,657.3 L205.6,656.5 L197.9,657.7 L193.4,658.6Z M192.2,663.9 L190.8,665.2 L190.9,669.8 L191.8,672.4 L196.5,679.3 L200.9,680.7 L208.3,685.2 L212.1,686.9 L218.6,687.6 L221.9,685.5 L225.7,681.5 L224.4,679.9 L221.5,674.6 L220.1,672 L215.2,666.9 L209.7,664 L203.7,663 L197.1,661.5Z M188.3,667.9 L187.7,671.6 L190.6,677.7 L191.3,680.8 L196.5,687.2 L202.2,691.9 L206.6,693.6 L213,695.6 L215.2,693.6 L218,690.3 L219.5,687.8 L218.4,683.8 L214.3,676.8 L208.9,672.8 L204.2,669.1 L201.1,667.8 L193.5,664.8 L191.7,665.9Z M188.3,667.8 L185.7,671.8 L184.7,675.1 L184.8,681 L187.8,687 L192,692.7 L195.1,697.2 L202.4,700.2 L207.4,701.2 L211,700.2 L211.8,696.9 L213,693.9 L211.3,687 L206.9,681.6 L205.1,678.3 L200.3,673.2 L193.8,668.3 L190,668.6Z M181,671.8 L179.2,674 L179.1,679.1 L179.2,686.1 L182.6,691.9 L185.4,696.8 L190.5,702.6 L196.5,706.7 L197.6,706.4 L201.9,706.6 L205.1,703.9 L206.9,699 L204.4,692.4 L202.4,685.3 L199.5,681.7 L196.8,677.5 L188.8,672 L185,670.7Z M175.7,674.2 L174.2,677.1 L172.6,683.8 L173.8,687.1 L176.3,692.4 L179.6,701.6 L184.9,706.8 L189.6,709.5 L192.9,711.5 L196.1,710.2 L198.1,708.4 L199.8,703.9 L199.2,698.6 L197.9,691.5 L191.6,681.1 L189.6,679.5 L183.9,673.6 L179.6,673.6Z M166.3,679 L165.8,683.4 L165.6,686.7 L165.7,691.8 L170.7,699.2 L172.7,702.8 L178.4,710.3 L184.5,712.3 L189.5,715 L191.9,713 L195,709.5 L195.2,702.8 L193.8,697.8 L191.7,693.6 L185.1,684.8 L181.1,680.9 L175.6,678.8 L171.4,676.7Z M162.9,682 L159.9,683.3 L160.1,686 L158.5,692.3 L163,702.8 L165.4,706.5 L170.4,711.5 L178.1,716.8 L183.6,717.7 L186,717.6 L190.3,715.4 L191.6,709.8 L190.3,704.7 L186.9,699 L183.8,694.2 L179.7,690.3 L174.6,685.9 L169.9,682.1Z M154,687.4 L153.4,693.3 L153.9,696.8 L154.8,703 L160.8,710.8 L165.5,716.5 L171.1,720.4 L177.7,723.5 L180.4,723.8 L184.6,720.8 L185.2,716.8 L186.2,713.5 L182.9,703.5 L177.1,697.3 L170.7,691.4 L169,687.8 L162.9,685.9 L158.6,685.9Z M146.8,693.6 L146.4,700.5 L148.2,703.8 L153.2,712.1 L158,719.5 L163.8,722.8 L169.4,727.5 L172.6,727.9 L176.9,727 L181,723.7 L180.4,716.9 L178.6,712.1 L173.9,703.4 L170.8,699.5 L166.1,694.9 L160.9,690.6 L153.4,689.6 L148.4,690.4Z M141.4,696.6 L141.5,701.3 L141.7,709.4 L143.8,714.2 L148.9,720 L156.6,726.4 L160.6,729.8 L166,732.7 L173.9,731.4 L175.7,728.9 L176.8,723.9 L177,721.3 L172.1,711.4 L166.8,705.4 L159.3,699.1 L156.1,697.5 L150.2,694.1 L144.3,695.3Z M138.3,700.8 L135.2,703.1 L135.7,706.7 L135.5,712.8 L141.1,722 L144.6,726.4 L150.7,731.3 L158.6,735.9 L164.8,737.3 L168.9,735.6 L171,734.9 L171.8,728 L170.6,723.8 L167,716 L162.3,709.6 L155.8,704.5 L150.3,700.1 L142.6,699.5Z M131.8,706.4 L130.2,707.3 L129.3,713.9 L131.1,719.2 L137,728.3 L139.9,732.3 L149.6,738.5 L152.8,740.5 L158.9,740.8 L164.6,740.4 L167.5,738.1 L168.2,733.3 L167.3,728.4 L162.5,721.7 L154.1,712 L150.6,710.2 L145.1,705.8 L138.4,703.9Z M125.1,715.3 L124.4,718.5 L125.8,724.1 L130.7,732.7 L137.4,737.6 L143.6,741.5 L151.1,745.7 L156.7,746.5 L161,745.4 L162.7,742.3 L164.1,739.1 L163.6,733.9 L157.7,726.9 L151.6,718.4 L144.1,715.1 L136.7,711.6 L132.8,711.1 L126.9,711.1Z M124.2,716.7 L120,720 L119,724.8 L121.6,732.2 L126.7,739.3 L129.7,741.2 L140.6,747.7 L143.7,749.4 L151.4,751.5 L154.4,750.4 L159.3,745.3 L160,742.8 L158.1,738.5 L153.2,729.8 L147.3,724.4 L139.7,720.2 L133.1,716.9 L126,716.4Z M117,724.8 L116,728.8 L116.4,734.8 L121,740.7 L125.2,745.1 L132.4,751.4 L141.4,754.6 L143.4,756.4 L151.8,756.5 L153.8,753.5 L155,749.6 L154.8,743.7 L149.5,736.6 L146.6,733.8 L140.4,729 L132.8,723.7 L122.9,723.3 L119.6,722.5Z M111.8,731.7 L110.7,734.5 L112.1,738.8 L115.5,744 L118.4,750.4 L126.8,756.1 L134.5,759.3 L140.5,761.6 L145.6,762 L149.8,758.5 L151.9,756.4 L149.9,750.7 L145.3,743.5 L143.1,740 L137.2,735.2 L125.9,729.4 L121,727.9 L116,728.7Z M109,736.2 L108.4,740 L107.5,744.2 L111.4,751 L114.8,754.6 L120.7,759.6 L129.9,765.6 L134.6,767 L141.9,766.4 L143.7,766.5 L146.8,759.7 L145.3,755.8 L144.9,751.8 L140.2,747.1 L131,739.7 L125.1,736.3 L120.7,735.8 L114.3,734.8Z M106.5,741.6 L104.3,746 L103.7,747.7 L107.6,756.5 L110.9,759.9 L116.2,765.1 L121.9,768.8 L130.7,772.8 L135.7,772.2 L139.2,770.7 L142.3,766.5 L142.7,764 L139.8,758.2 L134.5,750.7 L127.9,745.5 L123.8,744.1 L113.8,739.5 L109.3,740.7Z M99.4,749.6 L99.4,755.1 L100.5,758.5 L104.8,762.9 L111.2,769.6 L116.2,773.4 L122.8,776.6 L128.7,777.6 L134.2,777.7 L137.2,773.6 L136.8,771.5 L134.7,763 L131.2,758 L128.2,756.1 L119.7,750 L114.5,747.2 L106.8,745.9 L103,746Z M97.9,753.5 L95.2,759.9 L97.5,764.8 L99.1,767.7 L104.4,772.5 L111,778.6 L120.3,782 L124.9,784.4 L128.1,784 L130.6,780.9 L132.6,774.7 L132.3,771.2 L130.1,767.1 L121.7,758.9 L116.7,756.3 L109.2,752.5 L105.3,752 L100.7,751Z M94.8,756.6 L91.3,761.1 L91.3,766.5 L93.1,769.5 L95.9,774.1 L101.2,780.8 L107.7,784.1 L114.9,788.1 L120.6,789.3 L125.4,787.9 L126.7,786.2 L128.3,781.6 L128,777 L122.9,769.2 L117.5,765.1 L113.6,761.3 L105.8,758.3 L99.6,757.4Z M88.8,764.1 L87.1,768.4 L88.1,772.2 L90.5,778.7 L93.6,781.9 L102.9,789.5 L107.9,792.7 L114.7,794.9 L118.7,795.3 L121.5,792.5 L123.6,788.3 L123.3,784.3 L119,777.2 L114.8,772.3 L111.5,769.7 L105.1,764.4 L98.1,761.6 L92.1,761.9Z M86.4,768.2 L83.5,770.8 L82.2,773.8 L83.3,778.3 L87.1,784 L92.3,789.9 L100.8,796.5 L103.9,797.6 L108,799.2 L115.2,799.8 L119.1,796 L120.6,794.9 L119.2,788.9 L114.9,780.7 L109.3,775.9 L103.2,771.2 L99.5,770.5 L91.9,766.5Z M79.3,776.1 L78.3,780.4 L80,787.1 L85.4,793.9 L88.6,796.5 L97.6,803.2 L102,805.2 L107.5,805.9 L113.7,804.2 L114.5,802.6 L115.8,797.4 L113.1,792.7 L108.9,785.6 L102.9,779.6 L99.9,776.9 L90.5,773 L85.4,771.8 L79.4,773.2Z M74.2,782.6 L73.8,784.9 L73.9,790 L79.6,798 L82.4,801.3 L88.8,806.2 L97.5,811 L101.5,811.1 L108,811.9 L111.7,808.1 L112,804.7 L109.3,797.1 L104.7,790.9 L100.2,787.4 L94.6,783.1 L86.6,779.1 L80.2,778.4 L78.5,778.7Z M72.6,782.4 L73.8,787 L76.7,795.1 L80.1,799.9 L85.1,804.7 L91,808.9 L100.4,810.9 L105.5,811.4 L109.7,810.9 L110,807.4 L110.7,803.6 L109.2,796.7 L103,788.7 L98.5,785.4 L94.1,782.7 L84.8,777.7 L78.9,777.8 L74.8,779.7Z M93.5,740.3 L101.6,733.9 M93.3,738.8 L101.2,733.1 M93,738.8 L100.7,729 M92.2,737.8 L99.1,728.6 M91.8,738.2 L93,726.6 M90.1,737.9 L90.1,726.9 M88.8,736.7 L86.3,725.8 M88.9,736.6 L81.9,727 M87.2,737.6 L81.6,729 M87.2,737.6 L79.4,730.8 M86.7,738.1 L79.4,730.8 M86.7,738.1 L81.6,729 M86.6,739.6 L78.9,732.1 M86.6,740 L79.7,733.6 M86.6,740 L82.5,735.8 M86.6,740.8 L82.5,735.8 M87.7,741 L87.8,736.9 M88.3,740.6 L91.5,737.4 M88.3,740.6 L87.8,736.9 M90.4,741.3 L92.3,737.3 M90.4,741.3 L95.7,736.4 M93.2,741.6 L95.7,736.4 M93.2,741.6 L92.3,737.3 M93.9,739.9 L99.6,735.3 M93.9,739.9 L95.7,736.4 M101.6,733.9 L105.7,727.3 M101.2,733.1 L105.6,725.5 M100.7,729 L104.5,721.8 M99.1,728.6 L101,719.8 M93,726.6 L95.6,717.6 M93,726.6 L93.2,718.2 M90.1,726.9 L93.2,718.2 M86.3,725.8 L85.2,718.2 M81.9,727 L83.4,717.9 M81.6,729 L77.9,720.3 M81.6,729 L76.5,723 M79.4,730.8 L76.5,723 M78.9,732.1 L75.9,726.1 M79.7,733.6 L78.9,727.6 M79.7,733.6 L75.9,726.1 M82.5,735.8 L82.1,729.9 M87.8,736.9 L85.1,731.2 M91.5,737.4 L90.7,732.2 M92.3,737.3 L94,732.1 M92.3,737.3 L100.4,731.5 M95.7,736.4 L100.4,731.5 M99.6,735.3 L102.2,730.2 M105.7,727.3 L107.9,717.2 M105.6,725.5 L105.6,715.5 M105.6,725.5 L103.7,712 M104.5,721.8 L103.7,712 M104.5,721.8 L105.6,715.5 M101,719.8 L100.4,711.8 M95.6,717.6 L95.2,710.2 M93.2,718.2 L89,709.6 M85.2,718.2 L83.2,711.4 M83.4,717.9 L78.3,713 M77.9,720.3 L76.1,715.1 M76.5,723 L75.3,719.3 M75.9,726.1 L76,721.6 M75.9,726.1 L79.2,723.3 M78.9,727.6 L79.2,723.3 M82.1,729.9 L83.2,724.7 M85.1,731.2 L88.2,726.9 M90.7,732.2 L94.2,726.7 M90.7,732.2 L99.2,724 M94,732.1 L99.2,724 M94,732.1 L94.2,726.7 M100.4,731.5 L104.2,722.3 M102.2,730.2 L105.1,720.4 M107.9,717.2 L106.8,709.9 M107.9,717.2 L105.7,712.5 M105.6,715.5 L107.1,708.6 M103.7,712 L103.4,705.8 M100.4,711.8 L98.4,703.8 M95.2,710.2 L93.9,702.2 M95.2,710.2 L98.4,703.8 M89,709.6 L86.1,703.4 M83.2,711.4 L81.2,704.5 M78.3,713 L79.5,706.3 M76.1,715.1 L74.3,709.7 M76.1,715.1 L79.5,706.3 M75.3,719.3 L74.2,712 M76,721.6 L76.3,715.1 M79.2,723.3 L78.9,717.3 M83.2,724.7 L83,717.9 M88.2,726.9 L88.4,719.8 M94.2,726.7 L91.4,718.6 M99.2,724 L98.7,717.9 M99.2,724 L91.4,718.6 M104.2,722.3 L101.9,716.1 M105.1,720.4 L105.7,712.5 M106.8,709.9 L106.8,704.1 M107.1,708.6 L105,701.5 M103.4,705.8 L104.8,699.2 M98.4,703.8 L100.5,698.1 M98.4,703.8 L94.9,695.8 M93.9,702.2 L94.9,695.8 M86.1,703.4 L88.7,695.3 M81.2,704.5 L83.3,697.6 M79.5,706.3 L79.7,698 M74.3,709.7 L75.7,702.1 M74.2,712 L74.2,704.8 M76.3,715.1 L74.3,707.2 M78.9,717.3 L77.4,709.6 M83,717.9 L82.4,710.9 M88.4,719.8 L84,711.2 M91.4,718.6 L92.7,712 M98.7,717.9 L98.2,710.3 M101.9,716.1 L100.4,709.4 M101.9,716.1 L98.2,710.3 M105.7,712.5 L104.5,707.4 M106.8,704.1 L106.6,695.2 M106.8,704.1 L105.5,692.9 M105,701.5 L105.5,692.9 M104.8,699.2 L104,691.1 M100.5,698.1 L97.9,689.5 M94.9,695.8 L94.2,689.4 M88.7,695.3 L89.6,689.2 M88.7,695.3 L94.2,689.4 M83.3,697.6 L82,689.4 M79.7,698 L77.3,692.7 M75.7,702.1 L74.2,694.3 M74.2,704.8 L72.6,697.1 M74.3,707.2 L73.9,701.1 M77.4,709.6 L76.3,702.2 M77.4,709.6 L79.1,705.1 M82.4,710.9 L79.1,705.1 M84,711.2 L88.2,706.1 M92.7,712 L91,705.8 M98.2,710.3 L98.6,703.4 M98.2,710.3 L102.1,702.6 M100.4,709.4 L102.1,702.6 M100.4,709.4 L104,698.9 M104.5,707.4 L104,698.9 M106.6,695.2 L106.1,686.3 M106.6,695.2 L104.5,683.9 M105.5,692.9 L104.5,683.9 M104,691.1 L100.1,682.3 M97.9,689.5 L96.1,681.6 M94.2,689.4 L90.4,681.5 M89.6,689.2 L84.6,683.1 M82,689.4 L79.5,683.6 M77.3,692.7 L75,687.2 M74.2,694.3 L72.8,688.1 M72.6,697.1 L72.7,693 M73.9,701.1 L72.9,694.7 M73.9,701.1 L77.9,697.6 M76.3,702.2 L77.9,697.6 M79.1,705.1 L82.5,697.9 M79.1,705.1 L86.9,699.8 M88.2,706.1 L86.9,699.8 M91,705.8 L94.9,698.5 M98.6,703.4 L98.2,696.1 M98.6,703.4 L103.3,693.9 M102.1,702.6 L103.3,693.9 M104,698.9 L105.4,690.1 M106.1,686.3 L106,681.6 M106.1,686.3 L107.2,683.8 M104.5,683.9 L104.6,676.2 M100.1,682.3 L99.3,674.5 M100.1,682.3 L104.6,676.2 M96.1,681.6 L95.1,674.6 M96.1,681.6 L89.5,674.1 M90.4,681.5 L89.5,674.1 M84.6,683.1 L80.2,674.8 M79.5,683.6 L75.5,677.2 M79.5,683.6 L80.2,674.8 M75,687.2 L70.9,679.9 M72.8,688.1 L70.7,681.7 M72.7,693 L69.3,685.2 M72.9,694.7 L72.4,689.2 M77.9,697.6 L75.8,691.8 M82.5,697.9 L78.7,692.5 M86.9,699.8 L84.5,692.1 M94.9,698.5 L93.7,691.5 M98.2,696.1 L98.5,690.9 M103.3,693.9 L104.1,685.2 M105.4,690.1 L107.2,683.8 M105.4,690.1 L104.1,685.2 M106,681.6 L107,673 M104.6,676.2 L104.5,670.2 M99.3,674.5 L97.7,667.3 M95.1,674.6 L90.1,665.5 M89.5,674.1 L85.8,666.8 M80.2,674.8 L78.4,668.5 M75.5,677.2 L72,670.7 M70.9,679.9 L69.3,672.1 M70.7,681.7 L67.4,677.8 M69.3,685.2 L67.5,679.9 M69.3,685.2 L69.5,683.2 M72.4,689.2 L69.5,683.2 M75.8,691.8 L76.8,685.8 M78.7,692.5 L83,686.2 M84.5,692.1 L89.3,686.9 M93.7,691.5 L94.7,685.6 M98.5,690.9 L101.1,683.1 M104.1,685.2 L105.7,678.2 M107.2,683.8 L107.5,676.4 M107,673 L107.7,668.3 M104.5,670.2 L107.7,665.6 M97.7,667.3 L104.5,663 M90.1,665.5 L100.6,660.5 M85.8,666.8 L90.9,659.1 M78.4,668.5 L87,658.5 M72,670.7 L77.6,660.6 M69.3,672.1 L71,662.2 M67.4,677.8 L66.6,666.1 M67.5,679.9 L66.5,668.3 M67.5,679.9 L66.6,666.1 M69.5,683.2 L67.4,673.6 M69.5,683.2 L66.5,668.3 M76.8,685.8 L69.1,675.6 M83,686.2 L74.6,678.3 M89.3,686.9 L82.3,680 M94.7,685.6 L90.6,679 M101.1,683.1 L97.8,677.7 M101.1,683.1 L99.8,676.3 M105.7,678.2 L99.8,676.3 M105.7,678.2 L107.2,672.9 M107.5,676.4 L107.2,672.9 M107.7,668.3 L109,664.4 M107.7,665.6 L109.1,660.2 M107.7,665.6 L103.7,654.7 M104.5,663 L103.7,654.7 M100.6,660.5 L100.4,654.5 M90.9,659.1 L94.5,652.5 M87,658.5 L86.2,651.7 M77.6,660.6 L77.3,651.8 M71,662.2 L71.8,654.1 M66.6,666.1 L67.3,657.5 M66.5,668.3 L64.9,662.2 M67.4,673.6 L65.6,665.1 M69.1,675.6 L66.6,668.2 M74.6,678.3 L74.2,672.1 M82.3,680 L78.9,672.5 M82.3,680 L74.2,672.1 M90.6,679 L84.9,672.3 M97.8,677.7 L94,672.6 M99.8,676.3 L99.7,671.8 M107.2,672.9 L106.4,666.4 M109,664.4 L109.2,656.7 M109,664.4 L107,661.9 M109.1,660.2 L109.3,653.5 M103.7,654.7 L105.4,649.8 M100.4,654.5 L101.6,647.5 M94.5,652.5 L92.1,644.6 M86.2,651.7 L85.9,643.5 M77.3,651.8 L76.9,645.2 M71.8,654.1 L72.6,646 M71.8,654.1 L66.4,650.8 M67.3,657.5 L66.4,650.8 M67.3,657.5 L72.6,646 M64.9,662.2 L64.4,651.6 M64.9,662.2 L66.4,650.8 M65.6,665.1 L64.4,656.8 M66.6,668.2 L68.4,662.2 M74.2,672.1 L72.4,662.5 M78.9,672.5 L80.8,666.4 M84.9,672.3 L85.9,667.2 M94,672.6 L94.4,665.5 M99.7,671.8 L101.6,663.4 M99.7,671.8 L107,661.9 M106.4,666.4 L107,661.9 M109.2,656.7 L109.6,650.3 M109.3,653.5 L107.6,645.6 M105.4,649.8 L104.5,641.9 M101.6,647.5 L95.9,638 M101.6,647.5 L93,638 M92.1,644.6 L93,638 M85.9,643.5 L79.9,637.4 M76.9,645.2 L72.4,639 M72.6,646 L70.6,640.4 M66.4,650.8 L64.3,645 M64.4,651.6 L64.1,647.1 M64.4,651.6 L64.3,645 M64.4,656.8 L66.4,652.1 M64.4,656.8 L64.1,647.1 M68.4,662.2 L72.1,656.2 M72.4,662.5 L75.3,657.1 M80.8,666.4 L83,659.3 M80.8,666.4 L75.3,657.1 M85.9,667.2 L92.2,660.4 M94.4,665.5 L96.8,659.3 M94.4,665.5 L104.8,657.1 M101.6,663.4 L104.8,657.1 M101.6,663.4 L109,651.6 M107,661.9 L109,651.6 M109.6,650.3 L111.1,644.8 M107.6,645.6 L110.8,641.6 M104.5,641.9 L109.1,636.3 M95.9,638 L101.5,632.1 M93,638 L92.9,630.6 M79.9,637.4 L87.6,628.3 M72.4,639 L78.5,629.9 M70.6,640.4 L70.7,631.5 M70.6,640.4 L78.5,629.9 M64.3,645 L68.7,632.4 M64.1,647.1 L63.6,639.1 M66.4,652.1 L63.6,642.4 M72.1,656.2 L66.8,646.1 M75.3,657.1 L74.7,650.4 M83,659.3 L77.5,651.9 M92.2,660.4 L88.2,653 M96.8,659.3 L97.5,653.9 M104.8,657.1 L102.2,652 M104.8,657.1 L97.5,653.9 M109,651.6 L109.4,648.2 M111.1,644.8 L112.7,635.4 M111.1,644.8 L112.4,639.2 M110.8,641.6 L111.7,630.3 M110.8,641.6 L112.7,635.4 M109.1,636.3 L107.4,627 M101.5,632.1 L100.4,625.2 M92.9,630.6 L95,623.4 M92.9,630.6 L100.4,625.2 M87.6,628.3 L81.8,621.2 M78.5,629.9 L74.1,622.3 M70.7,631.5 L69.2,623.6 M68.7,632.4 L64.3,628.6 M63.6,639.1 L63.4,630.2 M63.6,642.4 L66.7,638.3 M66.8,646.1 L69.7,641.6 M74.7,650.4 L74.9,643.8 M77.5,651.9 L81.8,646 M88.2,653 L92.1,647.3 M97.5,653.9 L98.2,647 M102.2,652 L110.3,643.6 M109.4,648.2 L112.4,639.2 M109.4,648.2 L110.3,643.6 M112.7,635.4 L113.6,635.9 M111.7,630.3 L115.3,629.1 M107.4,627 L114.7,625.9 M100.4,625.2 L106.4,619.8 M95,623.4 L101.3,617.5 M81.8,621.2 L94.8,614.4 M74.1,622.3 L82.2,613.3 M69.2,623.6 L78.5,614.4 M69.2,623.6 L71.6,615.2 M64.3,628.6 L71.6,615.2 M63.4,630.2 L64.5,619 M66.7,638.3 L63.2,625.8 M69.7,641.6 L64.9,626.7 M69.7,641.6 L68.5,632.4 M74.9,643.8 L68.5,632.4 M74.9,643.8 L64.9,626.7 M81.8,646 L79.6,638.3 M92.1,647.3 L87.8,640.3 M98.2,647 L94.3,642.1 M110.3,643.6 L104.9,640.1 M112.4,639.2 L111,638.7 M113.6,635.9 L118.4,624.9 M113.6,635.9 L113.9,617.4 M115.3,629.1 L113.9,617.4 M114.7,625.9 L107.8,612.8 M114.7,625.9 L113.9,617.4 M106.4,619.8 L101.3,608.8 M101.3,617.5 L89.8,606.6 M94.8,614.4 L84.7,605.6 M94.8,614.4 L76.9,605.5 M82.2,613.3 L76.9,605.5 M78.5,614.4 L66.8,609.2 M71.6,615.2 L64.4,611.9 M64.5,619 L63.8,616.1 M63.2,625.8 L67.2,622.8 M64.9,626.7 L72.4,627.6 M68.5,632.4 L79.4,629.9 M79.6,638.3 L89.3,634.3 M87.8,640.3 L97.4,635 M87.8,640.3 L108.5,634.9 M94.3,642.1 L108.5,634.9 M104.9,640.1 L113.1,632.5 M111,638.7 L116.3,630.6 M118.4,624.9 L118.5,626.6 M113.9,617.4 L120.2,623.1 M107.8,612.8 L119.5,616.9 M101.3,608.8 L116,611.4 M89.8,606.6 L108.3,605.9 M84.7,605.6 L103.4,603.1 M76.9,605.5 L91.2,598.7 M66.8,609.2 L80.9,598 M64.4,611.9 L73,598.4 M63.8,616.1 L68.4,601.4 M67.2,622.8 L66.3,604.6 M72.4,627.6 L67,613.2 M79.4,629.9 L68.4,616 M79.4,629.9 L78.2,623 M89.3,634.3 L78.2,623 M97.4,635 L86.5,627.3 M108.5,634.9 L97.1,630.3 M108.5,634.9 L105.3,630.6 M113.1,632.5 L105.3,630.6 M116.3,630.6 L110.2,630 M118.5,626.6 L123.1,619.7 M118.5,626.6 L123.6,615.2 M120.2,623.1 L123.6,615.2 M119.5,616.9 L118.8,606.7 M119.5,616.9 L123.6,615.2 M116,611.4 L113.3,601.5 M108.3,605.9 L107.6,598.1 M103.4,603.1 L96.9,592.9 M91.2,598.7 L85,589.6 M80.9,598 L80.3,590.3 M73,598.4 L70.9,593.2 M68.4,601.4 L68.2,595.9 M66.3,604.6 L67.6,601.6 M67,613.2 L70.1,605.3 M68.4,616 L74.9,612.3 M68.4,616 L70.1,605.3 M78.2,623 L87.1,619.7 M86.5,627.3 L92.5,621.8 M86.5,627.3 L87.1,619.7 M97.1,630.3 L105.8,624.1 M105.3,630.6 L109.1,624.7 M110.2,630 L119.8,623 M123.1,619.7 L121.8,618.7 M123.6,615.2 L124.3,615.2 M118.8,606.7 L126.5,611.1 M113.3,601.5 L119.8,599.4 M107.6,598.1 L116.3,594.5 M96.9,592.9 L109,589 M85,589.6 L100.1,584.6 M85,589.6 L86.9,581.9 M80.3,590.3 L86.9,581.9 M70.9,593.2 L81.7,581 M68.2,595.9 L75.8,583.4 M67.6,601.6 L72,586.4 M70.1,605.3 L71.9,592.3 M74.9,612.3 L74.2,599.5 M87.1,619.7 L82.6,608.7 M87.1,619.7 L74.2,599.5 M92.5,621.8 L87,611.8 M105.8,624.1 L100,618.4 M109.1,624.7 L107.6,619.9 M109.1,624.7 L115,620.6 M119.8,623 L115,620.6 M121.8,618.7 L128.9,611.5 M121.8,618.7 L128.6,608.9 M124.3,615.2 L128.6,608.9 M124.3,615.2 L127.6,600.8 M126.5,611.1 L127.6,600.8 M119.8,599.4 L121.5,592 M116.3,594.5 L112.2,583.5 M109,589 L102.9,577 M100.1,584.6 L96.5,575.9 M86.9,581.9 L88.6,572.3 M81.7,581 L80.4,573.8 M75.8,583.4 L76.9,578.8 M75.8,583.4 L75.6,582.1 M72,586.4 L75.6,582.1 M71.9,592.3 L78.9,590.3 M74.2,599.5 L83.5,598.3 M82.6,608.7 L92.7,606.3 M87,611.8 L98.5,611 M100,618.4 L110.4,615.4 M100,618.4 L98.5,611 M107.6,619.9 L117.8,617.7 M115,620.6 L125.6,615.6 M115,620.6 L128.9,611.5 M128.9,611.5 L126.2,612.8 M128.6,608.9 L128.1,612.3 M127.6,600.8 L132,603.4 M127.6,600.8 L130.6,599.5 M121.5,592 L130.6,599.5 M112.2,583.5 L127.6,591.5 M102.9,577 L121.9,582.9 M96.5,575.9 L111.2,574.5 M88.6,572.3 L105.1,569.1 M80.4,573.8 L95.7,566.6 M76.9,578.8 L87.3,566.4 M75.6,582.1 L84.4,568.1 M78.9,590.3 L82.8,576.3 M78.9,590.3 L84.7,583.7 M83.5,598.3 L84.7,583.7 M92.7,606.3 L88.7,593.1 M98.5,611 L94.5,599.1 M110.4,615.4 L102.4,606.2 M117.8,617.7 L108.2,608.9 M117.8,617.7 L117.3,613.7 M125.6,615.6 L117.3,613.7 M125.6,615.6 L126.2,612.8 M126.2,612.8 L133.4,606.2 M128.1,612.3 L135.3,601.3 M132,603.4 L134.8,593.3 M130.6,599.5 L131.2,586 M127.6,591.5 L121.2,572.5 M121.9,582.9 L117.6,569.5 M111.2,574.5 L105,561.8 M105.1,569.1 L97.7,559.8 M105.1,569.1 L105,561.8 M95.7,566.6 L95.2,559.8 M87.3,566.4 L89.6,564.9 M84.4,568.1 L88.6,569.8 M82.8,576.3 L90.1,580.7 M84.7,583.7 L95.5,589.7 M88.7,593.1 L101.8,595.5 M94.5,599.1 L110.6,604.6 M102.4,606.2 L116.3,607 M102.4,606.2 L110.6,604.6 M108.2,608.9 L122.4,610.7 M108.2,608.9 L116.3,607 M117.3,613.7 L130.4,609 M133.4,606.2 L136.2,605.9 M135.3,601.3 L139.7,599.4 M134.8,593.3 L139.7,591.1 M131.2,586 L137.8,584.7 M121.2,572.5 L132.2,576.5 M117.6,569.5 L123.7,564.2 M105,561.8 L121.1,560.6 M97.7,559.8 L110.1,554.9 M95.2,559.8 L103.4,554.2 M89.6,564.9 L98.4,556.8 M88.6,569.8 L95.2,562.1 M90.1,580.7 L96.1,565.3 M95.5,589.7 L98,573.2 M101.8,595.5 L103.2,587.2 M110.6,604.6 L106,591.7 M116.3,607 L117.5,602.8 M122.4,610.7 L126.1,606.3 M122.4,610.7 L132.4,607.4 M130.4,609 L132.4,607.4 M130.4,609 L126.1,606.3 M136.2,605.9 L135.9,604.7 M139.7,599.4 L140,601.2 M139.7,591.1 L142.9,597.6 M137.8,584.7 L142.7,588.7 M132.2,576.5 L141.6,580.2 M132.2,576.5 L142.7,588.7 M123.7,564.2 L137.2,569.2 M121.1,560.6 L127.7,558.1 M110.1,554.9 L123.9,552.6 M103.4,554.2 L118,550.9 M98.4,556.8 L109.8,549.7 M95.2,562.1 L106.5,553.6 M96.1,565.3 L103.6,558.3 M98,573.2 L104.4,566.1 M103.2,587.2 L106.4,578.5 M106,591.7 L109.7,581.8 M106,591.7 L106.4,578.5 M117.5,602.8 L114.4,591.7 M117.5,602.8 L123.2,600 M126.1,606.3 L123.2,600 M132.4,607.4 L129.4,603.3 M135.9,604.7 L135.6,603.4 M140,601.2 L141.9,601.3 M142.9,597.6 L145.9,596.5 M142.7,588.7 L147.2,590.3 M141.6,580.2 L145.9,575.7 M137.2,569.2 L143.7,569.3 M127.7,558.1 L140,559.6 M123.9,552.6 L133.9,552.3 M118,550.9 L127,546.7 M109.8,549.7 L121.4,545.4 M109.8,549.7 L127,546.7 M106.5,553.6 L118,546.6 M106.5,553.6 L112.6,553.9 M103.6,558.3 L112.6,553.9 M104.4,566.1 L112.9,560 M106.4,578.5 L112,569.1 M109.7,581.8 L115.2,577.7 M114.4,591.7 L122.1,591.1 M123.2,600 L125.7,595.2 M129.4,603.3 L132.7,602.6 M129.4,603.3 L135.6,603.4 M135.6,603.4 L144.6,600.7 M141.9,601.3 L149.4,595.9 M141.9,601.3 L152.3,584.5 M145.9,596.5 L152.3,584.5 M147.2,590.3 L152.4,577.6 M145.9,575.7 L149.4,566.4 M145.9,575.7 L145.7,554 M143.7,569.3 L145.7,554 M140,559.6 L141,548.8 M140,559.6 L145.7,554 M133.9,552.3 L138.5,545.8 M127,546.7 L130.4,543.1 M121.4,545.4 L126,544.8 M118,546.6 L122.8,551.2 M112.6,553.9 L121.7,557.9 M112.9,560 L121.8,570.5 M112,569.1 L122.1,578.5 M115.2,577.7 L125.3,586.4 M122.1,591.1 L130.8,596 M125.7,595.2 L134.2,598.1 M132.7,602.6 L140.6,601 M144.6,600.7 L143.9,600 M149.4,595.9 L148.8,599.9 M152.3,584.5 L152.9,596.4 M152.4,577.6 L155.1,589.9 M149.4,566.4 L158.1,582.5 M145.7,554 L157.3,567.5 M141,548.8 L155.8,560.7 M138.5,545.8 L151.5,549.8 M138.5,545.8 L155.8,560.7 M130.4,543.1 L148.8,544.2 M126,544.8 L145.1,543.4 M122.8,551.2 L138.5,543.3 M122.8,551.2 L145.1,543.4 M121.7,557.9 L135.3,544.1 M121.8,570.5 L131.6,552.1 M121.8,570.5 L128.2,561.9 M122.1,578.5 L128.2,561.9 M122.1,578.5 L129,574.8 M125.3,586.4 L129,574.8 M130.8,596 L131.2,584.7 M130.8,596 L132.7,588.3 M134.2,598.1 L132.7,588.3 M140.6,601 L138.1,597.4 M143.9,600 L145.7,598.2 M148.8,599.9 L153.2,598.9 M152.9,596.4 L156.5,597.3 M152.9,596.4 L153.2,598.9 M155.1,589.9 L161.1,588.7 M158.1,582.5 L163.1,584.8 M158.1,582.5 L165.7,572.2 M157.3,567.5 L165.7,572.2 M157.3,567.5 L163.8,560.4 M155.8,560.7 L163.8,560.4 M155.8,560.7 L161.9,553.7 M151.5,549.8 L161.9,553.7 M148.8,544.2 L158.5,547.4 M145.1,543.4 L153.5,543.4 M138.5,543.3 L149.4,541.4 M138.5,543.3 L146.2,544.7 M135.3,544.1 L146.2,544.7 M131.6,552.1 L141.3,550.5 M128.2,561.9 L136.4,560.6 M128.2,561.9 L136.2,573.2 M129,574.8 L136.2,573.2 M131.2,584.7 L136.9,583.1 M132.7,588.3 L139.3,590.2 M138.1,597.4 L142.5,594.8 M145.7,598.2 L157.3,600.2 M153.2,598.9 L161.9,597.3 M156.5,597.3 L167.1,591.2 M156.5,597.3 L170.8,583 M161.1,588.7 L170.8,583 M163.1,584.8 L172.3,568.5 M165.7,572.2 L170.9,563 M163.8,560.4 L170.7,555 M163.8,560.4 L167,548 M161.9,553.7 L167,548 M158.5,547.4 L159.6,542.3 M158.5,547.4 L156.6,543.4 M153.5,543.4 L156.6,543.4 M149.4,541.4 L153.7,545.7 M146.2,544.7 L147.3,553.3 M141.3,550.5 L144.4,559.7 M136.4,560.6 L142.8,573.2 M136.2,573.2 L143.3,580.7 M136.9,583.1 L146.1,590.5 M136.9,583.1 L148.2,595.2 M139.3,590.2 L148.2,595.2 M142.5,594.8 L154.3,599.2 M157.3,600.2 L158,599.3 M157.3,600.2 L166.1,599.8 M161.9,597.3 L166.1,599.8 M167.1,591.2 L170.8,595.2 M167.1,591.2 L166.1,599.8 M170.8,583 L173.5,591.5 M170.8,583 L177.3,579.7 M172.3,568.5 L177.3,579.7 M170.9,563 L178.5,567.6 M170.7,555 L179.1,559.7 M167,548 L176.5,551.3 M159.6,542.3 L173.3,547.2 M156.6,543.4 L167.6,544.1 M156.6,543.4 L173.3,547.2 M153.7,545.7 L165.1,544.1 M147.3,553.3 L161.1,546.5 M147.3,553.3 L165.1,544.1 M144.4,559.7 L154.5,553.4 M142.8,573.2 L152.4,563.6 M143.3,580.7 L150.2,569.3 M146.1,590.5 L151,585.3 M148.2,595.2 L151.3,589.8 M154.3,599.2 L156.1,596.9 M158,599.3 L166.3,600.3 M166.1,599.8 L172.9,597.3 M170.8,595.2 L180.4,590.3 M173.5,591.5 L183,582.3 M177.3,579.7 L185.8,572.8 M178.5,567.6 L186.1,564.8 M179.1,559.7 L184.8,557.6 M176.5,551.3 L182.9,548.4 M173.3,547.2 L178.3,546.6 M167.6,544.1 L173.3,545.9 M167.6,544.1 L168.9,548.5 M165.1,544.1 L168.9,548.5 M161.1,546.5 L164.8,554.2 M154.5,553.4 L160.5,562.2 M154.5,553.4 L164.8,554.2 M152.4,563.6 L157.1,570.7 M150.2,569.3 L156.3,581.2 M151,585.3 L156.5,589.6 M151.3,589.8 L158.1,594.7 M156.1,596.9 L164.4,600.2 M166.3,600.3 L167.8,600.7 M172.9,597.3 L171.6,601.3 M180.4,590.3 L178.5,598.8 M180.4,590.3 L171.6,601.3 M183,582.3 L185.2,591 M185.8,572.8 L189.5,586 M186.1,564.8 L192.4,573.8 M184.8,557.6 L193.2,565.1 M182.9,548.4 L192.7,558.3 M178.3,546.6 L191.5,553 M178.3,546.6 L192.7,558.3 M173.3,545.9 L185.2,548.2 M168.9,548.5 L180.4,548.9 M164.8,554.2 L175.2,553.3 M160.5,562.2 L171.9,556.6 M160.5,562.2 L175.2,553.3 M157.1,570.7 L164.9,567.6 M156.3,581.2 L164.9,571.7 M156.5,589.6 L162.3,584.1 M158.1,594.7 L162.6,589.4 M158.1,594.7 L164,596.8 M164.4,600.2 L164,596.8 M167.8,600.7 L176.2,603.1 M171.6,601.3 L181.7,602 M178.5,598.8 L185.9,600.2 M185.2,591 L191.4,593.9 M189.5,586 L197.8,583.2 M192.4,573.8 L200.5,573.5 M192.4,573.8 L201.2,563.4 M193.2,565.1 L201.2,563.4 M192.7,558.3 L200.5,557.9 M191.5,553 L197.8,554 M191.5,553 L200.5,557.9 M185.2,548.2 L193.1,551.9 M180.4,548.9 L188.8,552.8 M175.2,553.3 L181.6,558.2 M171.9,556.6 L175.2,565.7 M171.9,556.6 L181.6,558.2 M164.9,567.6 L172.4,570.9 M164.9,567.6 L168.8,580.7 M164.9,571.7 L168.8,580.7 M162.3,584.1 L168.3,588.5 M162.6,589.4 L169.2,595.3 M162.6,589.4 L168.3,588.5 M164,596.8 L172.5,601.6 M176.2,603.1 L175.2,601 M181.7,602 L181.8,605.2 M181.7,602 L175.2,601 M185.9,600.2 L185,604.7 M191.4,593.9 L189.2,602.8 M191.4,593.9 L185,604.7 M197.8,583.2 L196.8,596.8 M200.5,573.5 L202.6,587.4 M201.2,563.4 L205.9,577.8 M200.5,557.9 L207.5,573.1 M197.8,554 L208.3,566.6 M197.8,554 L207.1,559.6 M193.1,551.9 L207.1,559.6 M188.8,552.8 L199.9,554.4 M181.6,558.2 L196.6,556.2 M175.2,565.7 L191.3,559.1 M172.4,570.9 L183.9,564.9 M172.4,570.9 L191.3,559.1 M168.8,580.7 L179.4,574.3 M168.3,588.5 L174.6,583.4 M169.2,595.3 L174,590.3 M172.5,601.6 L174.6,596.4 M172.5,601.6 L175.2,601 M175.2,601 L182.7,605.4 M181.8,605.2 L186.8,608 M185,604.7 L190.3,606.8 M189.2,602.8 L199.8,600.4 M196.8,596.8 L204.8,595.6 M202.6,587.4 L211,586.2 M205.9,577.8 L214.5,580 M205.9,577.8 L214.8,573.9 M207.5,573.1 L214.8,573.9 M208.3,566.6 L214.1,563.8 M207.1,559.6 L212.2,561.8 M199.9,554.4 L207.6,560.3 M196.6,556.2 L202.7,561.7 M191.3,559.1 L194.2,567.1 M183.9,564.9 L189.7,570.7 M179.4,574.3 L185.3,575.9 M174.6,583.4 L181.3,586.3 M174,590.3 L178.7,593.1 M174.6,596.4 L179.8,601.2 M182.7,605.4 L181.3,603.6 M186.8,608 L186.2,609 M190.3,606.8 L190.2,608.2 M199.8,600.4 L200.3,605.9 M204.8,595.6 L205.7,603.3 M211,586.2 L214.1,594.5 M214.5,580 L218.1,590.7 M214.8,573.9 L221.5,584.7 M214.8,573.9 L218.1,590.7 M214.1,563.8 L224.1,574.8 M212.2,561.8 L222.1,569.6 M207.6,560.3 L220,568.4 M202.7,561.7 L213.3,567.8 M194.2,567.1 L206.1,570.2 M194.2,567.1 L200.9,572.5 M189.7,570.7 L200.9,572.5 M185.3,575.9 L193.1,577.7 M181.3,586.3 L188.8,583.4 M178.7,593.1 L182.4,594.7 M179.8,601.2 L181.5,600.5 M181.3,603.6 L185.1,609.1 M186.2,609 L190.1,610.6 M190.2,608.2 L200.1,611 M190.2,608.2 L190.1,610.6 M200.3,605.9 L203.2,609.2 M205.7,603.3 L215.8,603.3 M214.1,594.5 L223,598.2 M218.1,590.7 L227.5,591.8 M221.5,584.7 L229.5,587.6 M224.1,574.8 L229.2,580.6 M222.1,569.6 L227.9,577.6 M220,568.4 L224.7,576.4 M213.3,567.8 L213.8,577.6 M213.3,567.8 L206.2,579.7 M206.1,570.2 L206.2,579.7 M200.9,572.5 L198,582.9 M193.1,577.7 L192.9,588.6 M188.8,583.4 L184.3,597.2 M182.4,594.7 L182.8,600.5 M181.5,600.5 L184.2,605.5 M185.1,609.1 L186.4,606.9 M190.1,610.6 L189.1,612.9 M190.1,610.6 L186.4,606.9 M200.1,611 L193.1,616.2 M203.2,609.2 L199.1,616 M215.8,603.3 L209.5,614.9 M215.8,603.3 L199.1,616 M223,598.2 L212.2,612.4 M223,598.2 L224.6,606.5 M227.5,591.8 L224.6,606.5 M229.5,587.6 L226.8,603.6 M229.2,580.6 L233,595.3 M227.9,577.6 L234.7,591.8 M227.9,577.6 L233,595.3 M224.7,576.4 L233.5,586.9 M213.8,577.6 L228.8,585.1 M206.2,579.7 L222,583.5 M198,582.9 L213.1,583.9 M198,582.9 L205.1,588.3 M192.9,588.6 L205.1,588.3 M184.3,597.2 L199,590.8 M182.8,600.5 L189.7,598.1 M182.8,600.5 L186.5,602.4 M184.2,605.5 L186.5,602.4 M186.4,606.9 L187.5,612.7 M186.4,606.9 L189.3,608.2 M189.1,612.9 L189.1,617 M193.1,616.2 L196.8,619.3 M193.1,616.2 L189.1,617 M199.1,616 L203.5,620 M209.5,614.9 L211.2,620.5 M212.2,612.4 L219.5,618.4 M224.6,606.5 L229.2,612.8 M226.8,603.6 L234.4,607.5 M226.8,603.6 L236.8,603.1 M233,595.3 L236.8,603.1 M234.7,591.8 L236.4,598.8 M233.5,586.9 L235.6,595.4 M228.8,585.1 L228,592 M228.8,585.1 L220.4,592.5 M222,583.5 L220.4,592.5 M213.1,583.9 L210.7,592.8 M213.1,583.9 L220.4,592.5 M205.1,588.3 L206,595.6 M205.1,588.3 L210.7,592.8 M199,590.8 L194.7,601.5 M189.7,598.1 L190.1,604.7 M189.7,598.1 L194.7,601.5 M186.5,602.4 L189.3,608.2 M187.5,612.7 L189.5,619.6 M189.1,617 L193.9,624.3 M196.8,619.3 L196.5,625.2 M203.5,620 L204.9,626.5 M203.5,620 L196.5,625.2 M211.2,620.5 L215.4,625.5 M219.5,618.4 L220.7,623.7 M229.2,612.8 L228,621.1 M234.4,607.5 L233.7,618.1 M236.8,603.1 L238.3,611.3 M236.4,598.8 L238.2,607.5 M235.6,595.4 L236.6,603.7 M228,592 L228.1,600.8 M220.4,592.5 L226.2,599.7 M210.7,592.8 L217.2,599.4 M206,595.6 L206.3,602.8 M194.7,601.5 L196.1,607.4 M190.1,604.7 L192,611.3 M189.3,608.2 L189.6,615 M189.5,619.6 L191.6,619.6 M189.5,619.6 L191.2,624.8 M193.9,624.3 L191.2,624.8 M196.5,625.2 L194.9,629.8 M196.5,625.2 L200.8,631.8 M204.9,626.5 L200.8,631.8 M204.9,626.5 L194.9,629.8 M215.4,625.5 L206.2,633.6 M220.7,623.7 L216.9,631.9 M228,621.1 L224.9,631.2 M233.7,618.1 L233.5,626.3 M233.7,618.1 L224.9,631.2 M238.3,611.3 L237,623 M238.2,607.5 L239.7,617.3 M236.6,603.7 L239.6,616.1 M228.1,600.8 L237.2,611.8 M226.2,599.7 L231.6,608.7 M217.2,599.4 L221.6,607.7 M217.2,599.4 L215,608 M206.3,602.8 L215,608 M196.1,607.4 L205.2,610.6 M192,611.3 L200.7,611.5 M189.6,615 L193.6,618.4 M189.6,615 L200.7,611.5 M191.6,619.6 L192.9,631.2 M191.6,619.6 L195.9,633.9 M191.2,624.8 L195.9,633.9 M194.9,629.8 L200.5,636.7 M200.8,631.8 L208.1,639.4 M206.2,633.6 L212,638.9 M216.9,631.9 L224.3,638 M224.9,631.2 L230.9,634.6 M233.5,626.3 L237.2,631.6 M237,623 L238.9,627.6 M237,623 L240.5,623.1 M239.7,617.3 L240.5,623.1 M239.7,617.3 L238.9,627.6 M239.6,616.1 L237.3,620.1 M237.2,611.8 L234.4,618.3 M231.6,608.7 L225.8,614.6 M221.6,607.7 L215.5,614.3 M215,608 L212.2,615.2 M205.2,610.6 L204.8,618.6 M200.7,611.5 L199,620 M193.6,618.4 L193.4,627.3 M192.9,631.2 L195.1,633.5 M195.9,633.9 L194.2,635.6 M200.5,636.7 L197.7,641.2 M208.1,639.4 L204.4,643.5 M212,638.9 L212.7,645.5 M224.3,638 L220.5,645.7 M230.9,634.6 L225.8,644.8 M230.9,634.6 L220.5,645.7 M237.2,631.6 L234.6,640.5 M238.9,627.6 L238.1,638.2 M240.5,623.1 L240.4,634.6 M240.5,623.1 L239.5,631.4 M237.3,620.1 L239.5,631.4 M237.3,620.1 L240.4,634.6 M234.4,618.3 L234.5,627.2 M234.4,618.3 L229.2,623.6 M225.8,614.6 L229.2,623.6 M215.5,614.3 L222.2,623.1 M212.2,615.2 L214.3,622.9 M204.8,618.6 L207.2,624.4 M204.8,618.6 L201.4,625.1 M199,620 L201.4,625.1 M199,620 L207.2,624.4 M193.4,627.3 L194.9,630.6 M193.4,627.3 L195.1,633.5 M195.1,633.5 L194.3,639.4 M194.2,635.6 L195.3,642.8 M197.7,641.2 L196.9,645.4 M204.4,643.5 L201.5,648.4 M204.4,643.5 L208.4,650.1 M212.7,645.5 L208.4,650.1 M220.5,645.7 L218.3,651.5 M225.8,644.8 L224.8,651.6 M234.6,640.5 L231.4,650.1 M238.1,638.2 L235.1,647.7 M238.1,638.2 L231.4,650.1 M240.4,634.6 L237.8,643 M239.5,631.4 L238.5,639.9 M234.5,627.2 L234.4,635.2 M229.2,623.6 L228.9,632 M229.2,623.6 L234.4,635.2 M222.2,623.1 L226.1,631.4 M214.3,622.9 L214.7,629.4 M207.2,624.4 L207.9,630.4 M201.4,625.1 L200.7,632.5 M194.9,630.6 L197.5,633.6 M194.3,639.4 L194.3,645 M195.3,642.8 L195.2,648.3 M195.3,642.8 L197.5,651.7 M196.9,645.4 L197.5,651.7 M201.5,648.4 L203,655.9 M208.4,650.1 L209.5,656.8 M218.3,651.5 L215.4,659 M224.8,651.6 L221.4,658.5 M224.8,651.6 L215.4,659 M231.4,650.1 L229.3,657 M231.4,650.1 L221.4,658.5 M235.1,647.7 L232.8,656.3 M237.8,643 L237.2,652.3 M238.5,639.9 L236.2,648.8 M234.4,635.2 L235.2,644.7 M228.9,632 L228.5,640.7 M226.1,631.4 L223.6,637.7 M226.1,631.4 L228.5,640.7 M214.7,629.4 L214.5,637.1 M207.9,630.4 L207.9,636.8 M200.7,632.5 L201.6,639.2 M197.5,633.6 L197.9,639.2 M194.3,645 L193.7,650.5 M195.2,648.3 L195.3,653.4 M197.5,651.7 L198.4,657.3 M203,655.9 L201.5,660.9 M209.5,656.8 L207.6,663.8 M215.4,659 L214.7,665.2 M221.4,658.5 L222.1,666.4 M229.3,657 L226.6,665 M229.3,657 L232.8,664.1 M232.8,656.3 L232.8,664.1 M237.2,652.3 L234,660.3 M236.2,648.8 L234.5,656.3 M235.2,644.7 L232.3,652.4 M228.5,640.7 L227.5,647.9 M223.6,637.7 L220,644.8 M214.5,637.1 L214.8,643.8 M207.9,636.8 L210.9,644.1 M201.6,639.2 L200.8,644.7 M197.9,639.2 L197.1,647.4 M193.7,650.5 L192.9,656.2 M195.3,653.4 L193.6,658.6 M195.3,653.4 L192.9,656.2 M198.4,657.3 L196.6,663.6 M201.5,660.9 L198.1,664.8 M207.6,663.8 L204.3,669.8 M214.7,665.2 L211.9,672.7 M222.1,666.4 L218.6,672.1 M226.6,665 L225,672.3 M232.8,664.1 L230.3,669.8 M234,660.3 L231.8,668.5 M234.5,656.3 L231.3,663 M232.3,652.4 L229.9,661 M227.5,647.9 L224.7,655.9 M220,644.8 L217.7,652.6 M214.8,643.8 L212.1,651.9 M210.9,644.1 L207.1,649.6 M200.8,644.7 L200.5,650.4 M197.1,647.4 L196.9,652.9 M192.9,656.2 L192.6,662.5 M193.6,658.6 L193.3,666.5 M196.6,663.6 L195.3,670.7 M198.1,664.8 L201.3,673.1 M204.3,669.8 L207.9,678.1 M211.9,672.7 L212.9,679 M218.6,672.1 L217.1,679.5 M225,672.3 L224.1,679.2 M230.3,669.8 L227.7,677.8 M230.3,669.8 L224.1,679.2 M231.8,668.5 L229.3,676.3 M231.3,663 L229.3,671.8 M229.9,661 L226,667.1 M229.9,661 L221.6,663.4 M224.7,655.9 L221.6,663.4 M217.7,652.6 L216.9,659.3 M217.7,652.6 L208,657.3 M212.1,651.9 L208,657.3 M207.1,649.6 L205.6,656.5 M200.5,650.4 L197.9,657.7 M196.9,652.9 L193.4,658.6 M196.9,652.9 L192.6,662.5 M192.6,662.5 L192.2,663.9 M192.6,662.5 L190.8,665.2 M193.3,666.5 L190.8,665.2 M195.3,670.7 L190.9,669.8 M195.3,670.7 L191.8,672.4 M201.3,673.1 L191.8,672.4 M207.9,678.1 L196.5,679.3 M212.9,679 L200.9,680.7 M217.1,679.5 L208.3,685.2 M224.1,679.2 L212.1,686.9 M227.7,677.8 L218.6,687.6 M229.3,676.3 L221.9,685.5 M229.3,671.8 L225.7,681.5 M226,667.1 L224.4,679.9 M221.6,663.4 L221.5,674.6 M216.9,659.3 L220.1,672 M208,657.3 L215.2,666.9 M205.6,656.5 L209.7,664 M197.9,657.7 L203.7,663 M193.4,658.6 L197.1,661.5 M192.2,663.9 L188.3,667.9 M190.8,665.2 L187.7,671.6 M190.9,669.8 L190.6,677.7 M191.8,672.4 L191.3,680.8 M196.5,679.3 L196.5,687.2 M196.5,679.3 L202.2,691.9 M200.9,680.7 L202.2,691.9 M208.3,685.2 L206.6,693.6 M212.1,686.9 L213,695.6 M212.1,686.9 L215.2,693.6 M218.6,687.6 L215.2,693.6 M218.6,687.6 L218,690.3 M221.9,685.5 L218,690.3 M225.7,681.5 L219.5,687.8 M225.7,681.5 L218,690.3 M224.4,679.9 L218.4,683.8 M221.5,674.6 L214.3,676.8 M220.1,672 L208.9,672.8 M215.2,666.9 L204.2,669.1 M209.7,664 L201.1,667.8 M209.7,664 L204.2,669.1 M203.7,663 L193.5,664.8 M197.1,661.5 L191.7,665.9 M188.3,667.9 L188.3,667.8 M187.7,671.6 L185.7,671.8 M190.6,677.7 L184.7,675.1 M190.6,677.7 L184.8,681 M191.3,680.8 L184.8,681 M196.5,687.2 L187.8,687 M202.2,691.9 L192,692.7 M206.6,693.6 L195.1,697.2 M213,695.6 L202.4,700.2 M215.2,693.6 L207.4,701.2 M215.2,693.6 L202.4,700.2 M218,690.3 L211,700.2 M219.5,687.8 L211.8,696.9 M218.4,683.8 L213,693.9 M214.3,676.8 L211.3,687 M208.9,672.8 L206.9,681.6 M204.2,669.1 L205.1,678.3 M201.1,667.8 L200.3,673.2 M193.5,664.8 L193.8,668.3 M191.7,665.9 L190,668.6 M188.3,667.8 L181,671.8 M185.7,671.8 L179.2,674 M184.7,675.1 L179.1,679.1 M184.7,675.1 L179.2,686.1 M184.8,681 L179.2,686.1 M187.8,687 L182.6,691.9 M187.8,687 L185.4,696.8 M192,692.7 L185.4,696.8 M195.1,697.2 L190.5,702.6 M202.4,700.2 L196.5,706.7 M207.4,701.2 L197.6,706.4 M211,700.2 L201.9,706.6 M211.8,696.9 L205.1,703.9 M213,693.9 L206.9,699 M211.3,687 L204.4,692.4 M206.9,681.6 L202.4,685.3 M205.1,678.3 L199.5,681.7 M200.3,673.2 L196.8,677.5 M193.8,668.3 L188.8,672 M190,668.6 L185,670.7 M181,671.8 L175.7,674.2 M179.2,674 L174.2,677.1 M179.1,679.1 L172.6,683.8 M179.1,679.1 L173.8,687.1 M179.2,686.1 L173.8,687.1 M182.6,691.9 L176.3,692.4 M185.4,696.8 L179.6,701.6 M185.4,696.8 L184.9,706.8 M190.5,702.6 L184.9,706.8 M190.5,702.6 L179.6,701.6 M196.5,706.7 L189.6,709.5 M197.6,706.4 L192.9,711.5 M197.6,706.4 L196.1,710.2 M201.9,706.6 L196.1,710.2 M205.1,703.9 L198.1,708.4 M206.9,699 L199.8,703.9 M204.4,692.4 L199.2,698.6 M202.4,685.3 L197.9,691.5 M199.5,681.7 L191.6,681.1 M196.8,677.5 L189.6,679.5 M188.8,672 L183.9,673.6 M188.8,672 L179.6,673.6 M185,670.7 L179.6,673.6 M175.7,674.2 L166.3,679 M174.2,677.1 L165.8,683.4 M172.6,683.8 L165.6,686.7 M173.8,687.1 L165.7,691.8 M173.8,687.1 L165.6,686.7 M176.3,692.4 L170.7,699.2 M179.6,701.6 L172.7,702.8 M184.9,706.8 L178.4,710.3 M189.6,709.5 L184.5,712.3 M189.6,709.5 L178.4,710.3 M192.9,711.5 L189.5,715 M196.1,710.2 L191.9,713 M198.1,708.4 L195,709.5 M199.8,703.9 L195.2,702.8 M199.2,698.6 L193.8,697.8 M197.9,691.5 L191.7,693.6 M191.6,681.1 L185.1,684.8 M189.6,679.5 L181.1,680.9 M183.9,673.6 L175.6,678.8 M183.9,673.6 L171.4,676.7 M179.6,673.6 L171.4,676.7 M166.3,679 L162.9,682 M166.3,679 L169.9,682.1 M165.8,683.4 L159.9,683.3 M165.6,686.7 L160.1,686 M165.7,691.8 L158.5,692.3 M165.7,691.8 L163,702.8 M170.7,699.2 L163,702.8 M170.7,699.2 L165.4,706.5 M172.7,702.8 L165.4,706.5 M178.4,710.3 L170.4,711.5 M184.5,712.3 L178.1,716.8 M189.5,715 L183.6,717.7 M191.9,713 L186,717.6 M195,709.5 L190.3,715.4 M195.2,702.8 L191.6,709.8 M193.8,697.8 L190.3,704.7 M193.8,697.8 L186.9,699 M191.7,693.6 L186.9,699 M185.1,684.8 L183.8,694.2 M181.1,680.9 L179.7,690.3 M175.6,678.8 L174.6,685.9 M171.4,676.7 L169.9,682.1 M162.9,682 L154,687.4 M159.9,683.3 L153.4,693.3 M159.9,683.3 L153.9,696.8 M160.1,686 L153.9,696.8 M158.5,692.3 L154.8,703 M163,702.8 L160.8,710.8 M165.4,706.5 L165.5,716.5 M170.4,711.5 L171.1,720.4 M178.1,716.8 L177.7,723.5 M183.6,717.7 L180.4,723.8 M186,717.6 L184.6,720.8 M190.3,715.4 L185.2,716.8 M191.6,709.8 L186.2,713.5 M190.3,704.7 L182.9,703.5 M186.9,699 L177.1,697.3 M183.8,694.2 L170.7,691.4 M179.7,690.3 L169,687.8 M174.6,685.9 L162.9,685.9 M169.9,682.1 L158.6,685.9 M169.9,682.1 L154,687.4 M154,687.4 L146.8,693.6 M153.4,693.3 L146.4,700.5 M153.9,696.8 L148.2,703.8 M153.9,696.8 L146.4,700.5 M154.8,703 L153.2,712.1 M160.8,710.8 L158,719.5 M165.5,716.5 L163.8,722.8 M171.1,720.4 L169.4,727.5 M177.7,723.5 L172.6,727.9 M180.4,723.8 L176.9,727 M184.6,720.8 L181,723.7 M185.2,716.8 L180.4,716.9 M186.2,713.5 L178.6,712.1 M182.9,703.5 L173.9,703.4 M177.1,697.3 L170.8,699.5 M170.7,691.4 L166.1,694.9 M169,687.8 L160.9,690.6 M162.9,685.9 L153.4,689.6 M162.9,685.9 L160.9,690.6 M158.6,685.9 L148.4,690.4 M146.8,693.6 L141.4,696.6 M146.8,693.6 L141.5,701.3 M146.4,700.5 L141.5,701.3 M148.2,703.8 L141.7,709.4 M153.2,712.1 L143.8,714.2 M158,719.5 L148.9,720 M163.8,722.8 L156.6,726.4 M169.4,727.5 L160.6,729.8 M172.6,727.9 L166,732.7 M176.9,727 L173.9,731.4 M181,723.7 L175.7,728.9 M180.4,716.9 L176.8,723.9 M178.6,712.1 L177,721.3 M173.9,703.4 L172.1,711.4 M170.8,699.5 L166.8,705.4 M166.1,694.9 L159.3,699.1 M160.9,690.6 L156.1,697.5 M153.4,689.6 L150.2,694.1 M148.4,690.4 L144.3,695.3 M148.4,690.4 L150.2,694.1 M141.4,696.6 L138.3,700.8 M141.5,701.3 L135.2,703.1 M141.7,709.4 L135.7,706.7 M143.8,714.2 L135.5,712.8 M148.9,720 L141.1,722 M156.6,726.4 L144.6,726.4 M160.6,729.8 L150.7,731.3 M160.6,729.8 L158.6,735.9 M166,732.7 L158.6,735.9 M173.9,731.4 L164.8,737.3 M173.9,731.4 L158.6,735.9 M175.7,728.9 L168.9,735.6 M176.8,723.9 L171,734.9 M177,721.3 L171.8,728 M177,721.3 L171,734.9 M172.1,711.4 L170.6,723.8 M172.1,711.4 L167,716 M166.8,705.4 L167,716 M159.3,699.1 L162.3,709.6 M159.3,699.1 L167,716 M156.1,697.5 L155.8,704.5 M156.1,697.5 L162.3,709.6 M150.2,694.1 L150.3,700.1 M150.2,694.1 L142.6,699.5 M144.3,695.3 L142.6,699.5 M138.3,700.8 L131.8,706.4 M135.2,703.1 L130.2,707.3 M135.2,703.1 L131.8,706.4 M135.7,706.7 L129.3,713.9 M135.5,712.8 L131.1,719.2 M141.1,722 L137,728.3 M144.6,726.4 L139.9,732.3 M150.7,731.3 L149.6,738.5 M158.6,735.9 L152.8,740.5 M164.8,737.3 L158.9,740.8 M168.9,735.6 L164.6,740.4 M168.9,735.6 L167.5,738.1 M171,734.9 L167.5,738.1 M171.8,728 L168.2,733.3 M171.8,728 L167.5,738.1 M170.6,723.8 L167.3,728.4 M167,716 L162.5,721.7 M162.3,709.6 L154.1,712 M162.3,709.6 L162.5,721.7 M155.8,704.5 L150.6,710.2 M150.3,700.1 L145.1,705.8 M142.6,699.5 L138.4,703.9 M131.8,706.4 L125.1,715.3 M130.2,707.3 L124.4,718.5 M129.3,713.9 L125.8,724.1 M131.1,719.2 L130.7,732.7 M137,728.3 L137.4,737.6 M139.9,732.3 L143.6,741.5 M149.6,738.5 L151.1,745.7 M152.8,740.5 L156.7,746.5 M152.8,740.5 L161,745.4 M158.9,740.8 L161,745.4 M158.9,740.8 L156.7,746.5 M164.6,740.4 L162.7,742.3 M167.5,738.1 L164.1,739.1 M168.2,733.3 L163.6,733.9 M167.3,728.4 L157.7,726.9 M162.5,721.7 L151.6,718.4 M162.5,721.7 L144.1,715.1 M154.1,712 L144.1,715.1 M150.6,710.2 L136.7,711.6 M145.1,705.8 L132.8,711.1 M138.4,703.9 L126.9,711.1 M138.4,703.9 L132.8,711.1 M125.1,715.3 L124.2,716.7 M124.4,718.5 L120,720 M124.4,718.5 L124.2,716.7 M125.8,724.1 L119,724.8 M130.7,732.7 L121.6,732.2 M137.4,737.6 L126.7,739.3 M143.6,741.5 L129.7,741.2 M151.1,745.7 L140.6,747.7 M151.1,745.7 L143.7,749.4 M156.7,746.5 L143.7,749.4 M161,745.4 L151.4,751.5 M162.7,742.3 L154.4,750.4 M164.1,739.1 L159.3,745.3 M164.1,739.1 L160,742.8 M163.6,733.9 L160,742.8 M157.7,726.9 L158.1,738.5 M151.6,718.4 L153.2,729.8 M144.1,715.1 L147.3,724.4 M136.7,711.6 L139.7,720.2 M132.8,711.1 L133.1,716.9 M126.9,711.1 L126,716.4 M124.2,716.7 L117,724.8 M120,720 L116,728.8 M120,720 L117,724.8 M119,724.8 L116.4,734.8 M121.6,732.2 L121,740.7 M121.6,732.2 L116.4,734.8 M126.7,739.3 L125.2,745.1 M129.7,741.2 L132.4,751.4 M140.6,747.7 L141.4,754.6 M140.6,747.7 L132.4,751.4 M143.7,749.4 L143.4,756.4 M151.4,751.5 L151.8,756.5 M151.4,751.5 L153.8,753.5 M154.4,750.4 L153.8,753.5 M159.3,745.3 L155,749.6 M160,742.8 L154.8,743.7 M158.1,738.5 L149.5,736.6 M153.2,729.8 L146.6,733.8 M147.3,724.4 L140.4,729 M139.7,720.2 L132.8,723.7 M139.7,720.2 L140.4,729 M133.1,716.9 L122.9,723.3 M133.1,716.9 L132.8,723.7 M126,716.4 L119.6,722.5 M117,724.8 L111.8,731.7 M116,728.8 L110.7,734.5 M116.4,734.8 L112.1,738.8 M121,740.7 L115.5,744 M125.2,745.1 L118.4,750.4 M132.4,751.4 L126.8,756.1 M141.4,754.6 L134.5,759.3 M141.4,754.6 L140.5,761.6 M143.4,756.4 L140.5,761.6 M151.8,756.5 L145.6,762 M153.8,753.5 L149.8,758.5 M155,749.6 L151.9,756.4 M155,749.6 L149.8,758.5 M154.8,743.7 L149.9,750.7 M149.5,736.6 L145.3,743.5 M146.6,733.8 L143.1,740 M140.4,729 L137.2,735.2 M132.8,723.7 L125.9,729.4 M122.9,723.3 L121,727.9 M119.6,722.5 L116,728.7 M111.8,731.7 L109,736.2 M110.7,734.5 L108.4,740 M112.1,738.8 L107.5,744.2 M115.5,744 L111.4,751 M118.4,750.4 L114.8,754.6 M126.8,756.1 L120.7,759.6 M134.5,759.3 L129.9,765.6 M140.5,761.6 L134.6,767 M145.6,762 L141.9,766.4 M149.8,758.5 L143.7,766.5 M151.9,756.4 L146.8,759.7 M149.9,750.7 L145.3,755.8 M145.3,743.5 L144.9,751.8 M143.1,740 L140.2,747.1 M137.2,735.2 L131,739.7 M125.9,729.4 L125.1,736.3 M125.9,729.4 L131,739.7 M121,727.9 L120.7,735.8 M116,728.7 L114.3,734.8 M109,736.2 L106.5,741.6 M108.4,740 L104.3,746 M107.5,744.2 L103.7,747.7 M111.4,751 L107.6,756.5 M114.8,754.6 L110.9,759.9 M120.7,759.6 L116.2,765.1 M120.7,759.6 L121.9,768.8 M129.9,765.6 L121.9,768.8 M134.6,767 L130.7,772.8 M141.9,766.4 L135.7,772.2 M143.7,766.5 L139.2,770.7 M146.8,759.7 L142.3,766.5 M145.3,755.8 L142.7,764 M144.9,751.8 L139.8,758.2 M140.2,747.1 L134.5,750.7 M131,739.7 L127.9,745.5 M131,739.7 L134.5,750.7 M125.1,736.3 L123.8,744.1 M120.7,735.8 L113.8,739.5 M114.3,734.8 L109.3,740.7 M106.5,741.6 L99.4,749.6 M104.3,746 L99.4,755.1 M103.7,747.7 L100.5,758.5 M103.7,747.7 L99.4,755.1 M107.6,756.5 L104.8,762.9 M110.9,759.9 L111.2,769.6 M116.2,765.1 L116.2,773.4 M121.9,768.8 L122.8,776.6 M130.7,772.8 L128.7,777.6 M135.7,772.2 L134.2,777.7 M139.2,770.7 L137.2,773.6 M142.3,766.5 L136.8,771.5 M142.7,764 L134.7,763 M139.8,758.2 L131.2,758 M134.5,750.7 L128.2,756.1 M127.9,745.5 L119.7,750 M123.8,744.1 L114.5,747.2 M113.8,739.5 L106.8,745.9 M109.3,740.7 L103,746 M109.3,740.7 L99.4,749.6 M99.4,749.6 L97.9,753.5 M99.4,755.1 L95.2,759.9 M100.5,758.5 L97.5,764.8 M100.5,758.5 L95.2,759.9 M104.8,762.9 L99.1,767.7 M111.2,769.6 L104.4,772.5 M111.2,769.6 L111,778.6 M116.2,773.4 L111,778.6 M122.8,776.6 L120.3,782 M128.7,777.6 L124.9,784.4 M134.2,777.7 L128.1,784 M137.2,773.6 L130.6,780.9 M136.8,771.5 L132.6,774.7 M134.7,763 L132.3,771.2 M131.2,758 L130.1,767.1 M128.2,756.1 L121.7,758.9 M119.7,750 L116.7,756.3 M114.5,747.2 L109.2,752.5 M106.8,745.9 L105.3,752 M103,746 L100.7,751 M97.9,753.5 L94.8,756.6 M95.2,759.9 L91.3,761.1 M97.5,764.8 L91.3,766.5 M99.1,767.7 L93.1,769.5 M104.4,772.5 L95.9,774.1 M111,778.6 L101.2,780.8 M120.3,782 L107.7,784.1 M124.9,784.4 L114.9,788.1 M128.1,784 L120.6,789.3 M130.6,780.9 L125.4,787.9 M132.6,774.7 L126.7,786.2 M132.3,771.2 L128.3,781.6 M130.1,767.1 L128,777 M121.7,758.9 L122.9,769.2 M121.7,758.9 L117.5,765.1 M116.7,756.3 L117.5,765.1 M109.2,752.5 L113.6,761.3 M105.3,752 L105.8,758.3 M100.7,751 L99.6,757.4 M100.7,751 L105.8,758.3 M94.8,756.6 L88.8,764.1 M91.3,761.1 L87.1,768.4 M91.3,766.5 L88.1,772.2 M93.1,769.5 L90.5,778.7 M95.9,774.1 L93.6,781.9 M101.2,780.8 L102.9,789.5 M107.7,784.1 L107.9,792.7 M114.9,788.1 L114.7,794.9 M120.6,789.3 L118.7,795.3 M125.4,787.9 L121.5,792.5 M126.7,786.2 L123.6,788.3 M128.3,781.6 L123.3,784.3 M128.3,781.6 L119,777.2 M128,777 L119,777.2 M122.9,769.2 L114.8,772.3 M122.9,769.2 L111.5,769.7 M117.5,765.1 L111.5,769.7 M113.6,761.3 L105.1,764.4 M105.8,758.3 L98.1,761.6 M105.8,758.3 L92.1,761.9 M99.6,757.4 L92.1,761.9 M88.8,764.1 L86.4,768.2 M87.1,768.4 L83.5,770.8 M87.1,768.4 L86.4,768.2 M88.1,772.2 L82.2,773.8 M90.5,778.7 L83.3,778.3 M93.6,781.9 L87.1,784 M102.9,789.5 L92.3,789.9 M102.9,789.5 L100.8,796.5 M107.9,792.7 L100.8,796.5 M114.7,794.9 L103.9,797.6 M118.7,795.3 L108,799.2 M121.5,792.5 L115.2,799.8 M123.6,788.3 L119.1,796 M123.6,788.3 L120.6,794.9 M123.3,784.3 L120.6,794.9 M123.3,784.3 L119.2,788.9 M119,777.2 L119.2,788.9 M114.8,772.3 L114.9,780.7 M111.5,769.7 L109.3,775.9 M105.1,764.4 L103.2,771.2 M98.1,761.6 L99.5,770.5 M92.1,761.9 L91.9,766.5 M92.1,761.9 L99.5,770.5 M86.4,768.2 L79.3,776.1 M83.5,770.8 L78.3,780.4 M82.2,773.8 L80,787.1 M82.2,773.8 L85.4,793.9 M83.3,778.3 L85.4,793.9 M83.3,778.3 L80,787.1 M87.1,784 L88.6,796.5 M92.3,789.9 L97.6,803.2 M100.8,796.5 L102,805.2 M100.8,796.5 L107.5,805.9 M103.9,797.6 L107.5,805.9 M103.9,797.6 L113.7,804.2 M108,799.2 L113.7,804.2 M108,799.2 L114.5,802.6 M115.2,799.8 L114.5,802.6 M119.1,796 L115.8,797.4 M120.6,794.9 L113.1,792.7 M119.2,788.9 L108.9,785.6 M114.9,780.7 L102.9,779.6 M109.3,775.9 L99.9,776.9 M103.2,771.2 L90.5,773 M103.2,771.2 L85.4,771.8 M99.5,770.5 L85.4,771.8 M99.5,770.5 L90.5,773 M91.9,766.5 L79.4,773.2 M79.3,776.1 L74.2,782.6 M78.3,780.4 L73.8,784.9 M80,787.1 L73.9,790 M85.4,793.9 L79.6,798 M88.6,796.5 L82.4,801.3 M88.6,796.5 L88.8,806.2 M97.6,803.2 L88.8,806.2 M102,805.2 L97.5,811 M107.5,805.9 L101.5,811.1 M113.7,804.2 L108,811.9 M114.5,802.6 L111.7,808.1 M115.8,797.4 L112,804.7 M113.1,792.7 L109.3,797.1 M108.9,785.6 L104.7,790.9 M102.9,779.6 L100.2,787.4 M99.9,776.9 L94.6,783.1 M90.5,773 L86.6,779.1 M85.4,771.8 L80.2,778.4 M79.4,773.2 L78.5,778.7 M74.2,782.6 L72.6,782.4 M73.8,784.9 L73.8,787 M73.9,790 L76.7,795.1 M73.9,790 L80.1,799.9 M79.6,798 L80.1,799.9 M82.4,801.3 L85.1,804.7 M88.8,806.2 L91,808.9 M97.5,811 L100.4,810.9 M101.5,811.1 L105.5,811.4 M108,811.9 L109.7,810.9 M108,811.9 L105.5,811.4 M111.7,808.1 L110,807.4 M112,804.7 L110.7,803.6 M112,804.7 L110,807.4 M109.3,797.1 L109.2,796.7 M104.7,790.9 L103,788.7 M104.7,790.9 L109.2,796.7 M100.2,787.4 L98.5,785.4 M94.6,783.1 L94.1,782.7 M86.6,779.1 L84.8,777.7 M80.2,778.4 L78.9,777.8 M78.5,778.7 L74.8,779.7" stroke="#505050" stroke-width="0.7" fill="none"/>
<path d="M145.2,682.6 L146.6,680.2 L146.3,679.1 L145,677.9 L144.2,678.2 L144.7,681.3Z M154.2,681.5 L156.6,677.9 L152.9,671.9 L150.2,670.5 L149.8,674.9 L151.9,681.8Z M160,682.4 L162.4,679.6 L163.3,671.2 L161.6,669 L156.8,672 L156.2,679.2Z M163.7,679.8 L166.9,680.6 L168.5,677.9 L167.2,675.2 L165.3,676.2 L164.8,678.5Z M145.2,682.6 L154.2,681.5 M146.6,680.2 L156.6,677.9 M146.6,680.2 L152.9,671.9 M146.3,679.1 L152.9,671.9 M145,677.9 L150.2,670.5 M144.2,678.2 L149.8,674.9 M144.7,681.3 L151.9,681.8 M154.2,681.5 L160,682.4 M156.6,677.9 L162.4,679.6 M152.9,671.9 L163.3,671.2 M150.2,670.5 L161.6,669 M149.8,674.9 L156.8,672 M149.8,674.9 L156.2,679.2 M151.9,681.8 L156.2,679.2 M151.9,681.8 L160,682.4 M160,682.4 L163.7,679.8 M160,682.4 L164.8,678.5 M162.4,679.6 L166.9,680.6 M163.3,671.2 L168.5,677.9 M161.6,669 L167.2,675.2 M156.8,672 L165.3,676.2 M156.2,679.2 L164.8,678.5" stroke="#505050" stroke-width="0.7" fill="none"/>
<path d="M180.9,722.5 L181.3,723 L180.5,721.6 L180.5,721.1 L180.2,721.9 L179.4,722.6Z M189.3,720.5 L190.3,719.9 L188.4,717.3 L187.6,716.7 L187.9,717.4 L187.3,719.2Z M197,718.3 L197.7,716.8 L198.3,714.9 L196,712.8 L194.7,713.9 L195.3,717Z M206.2,717.3 L207.4,714 L206.6,711.8 L205.6,708.8 L203.4,711.6 L204.9,715.4Z M214.8,715.9 L217.7,713.3 L216.1,707.9 L213.7,706.2 L211.3,709.3 L211.9,713.8Z M224.9,714.7 L227.1,710.7 L224.8,705.8 L221.2,703.9 L220.4,708 L221.6,712.7Z M232.8,709.5 L234.7,707.5 L233.1,703.9 L230.6,701.4 L229,705.4 L229.8,707.6Z M233.4,709.3 L234,709.1 L234.1,705.1 L231.7,701.3 L230.5,703.6 L229.7,707.1Z M180.9,722.5 L189.3,720.5 M181.3,723 L190.3,719.9 M181.3,723 L189.3,720.5 M180.5,721.6 L188.4,717.3 M180.5,721.1 L187.6,716.7 M180.2,721.9 L187.9,717.4 M179.4,722.6 L187.3,719.2 M189.3,720.5 L197,718.3 M189.3,720.5 L197.7,716.8 M190.3,719.9 L197.7,716.8 M188.4,717.3 L198.3,714.9 M187.6,716.7 L196,712.8 M187.9,717.4 L194.7,713.9 M187.3,719.2 L195.3,717 M197,718.3 L206.2,717.3 M197,718.3 L207.4,714 M197.7,716.8 L207.4,714 M198.3,714.9 L206.6,711.8 M196,712.8 L205.6,708.8 M194.7,713.9 L203.4,711.6 M195.3,717 L204.9,715.4 M195.3,717 L206.2,717.3 M206.2,717.3 L214.8,715.9 M207.4,714 L217.7,713.3 M206.6,711.8 L216.1,707.9 M206.6,711.8 L217.7,713.3 M205.6,708.8 L213.7,706.2 M203.4,711.6 L211.3,709.3 M204.9,715.4 L211.9,713.8 M214.8,715.9 L224.9,714.7 M217.7,713.3 L227.1,710.7 M217.7,713.3 L224.8,705.8 M216.1,707.9 L224.8,705.8 M213.7,706.2 L221.2,703.9 M211.3,709.3 L220.4,708 M211.9,713.8 L221.6,712.7 M224.9,714.7 L232.8,709.5 M227.1,710.7 L234.7,707.5 M227.1,710.7 L232.8,709.5 M224.8,705.8 L233.1,703.9 M224.8,705.8 L230.6,701.4 M221.2,703.9 L230.6,701.4 M220.4,708 L229,705.4 M221.6,712.7 L229.8,707.6 M232.8,709.5 L233.4,709.3 M234.7,707.5 L234,709.1 M233.1,703.9 L234.1,705.1 M230.6,701.4 L231.7,701.3 M229,705.4 L230.5,703.6 M229.8,707.6 L229.7,707.1" stroke="#505050" stroke-width="0.7" fill="none"/>
<path d="M218.9,795.8 L218.4,791.4 L215.3,785.4 L211.2,784.5 L211.8,789.5 L213.3,793.2Z M227.6,792.2 L227.6,786 L222.9,780.3 L218.5,778.6 L217.3,784.4 L222.5,791Z M233.5,789.6 L236,783.6 L233.1,774.9 L226.9,772.2 L223.6,777 L227.6,784.5Z M241.6,785.9 L245.5,780.5 L241.6,771.1 L234.1,767.6 L232.3,771.3 L235.9,782.2Z M249.5,784.2 L252.7,777.1 L249.8,767.7 L243.1,762.6 L239.6,769.4 L243.6,780.8Z M260,780.6 L261,772 L255.6,761.3 L251.1,761 L249.6,770 L253.5,778.6Z M264.8,776.8 L268.3,771.7 L266.5,761.6 L262.6,758.7 L259.5,764.7 L260,772.9Z M273.8,773.5 L276.2,768.9 L275,762.5 L271.8,759.8 L268.9,765.2 L271.3,770.2Z M275.5,771.1 L277.2,770.3 L277.9,763.8 L274.8,760 L271.4,762.9 L272.5,769.1Z M218.9,795.8 L227.6,792.2 M218.9,795.8 L227.6,786 M218.4,791.4 L227.6,786 M218.4,791.4 L222.9,780.3 M215.3,785.4 L222.9,780.3 M215.3,785.4 L227.6,786 M211.2,784.5 L218.5,778.6 M211.8,789.5 L217.3,784.4 M213.3,793.2 L222.5,791 M227.6,792.2 L233.5,789.6 M227.6,792.2 L227.6,784.5 M227.6,786 L236,783.6 M222.9,780.3 L233.1,774.9 M218.5,778.6 L226.9,772.2 M217.3,784.4 L223.6,777 M222.5,791 L227.6,784.5 M233.5,789.6 L241.6,785.9 M233.5,789.6 L235.9,782.2 M236,783.6 L245.5,780.5 M233.1,774.9 L241.6,771.1 M226.9,772.2 L234.1,767.6 M223.6,777 L232.3,771.3 M227.6,784.5 L235.9,782.2 M241.6,785.9 L249.5,784.2 M245.5,780.5 L252.7,777.1 M241.6,771.1 L249.8,767.7 M234.1,767.6 L243.1,762.6 M234.1,767.6 L249.8,767.7 M232.3,771.3 L239.6,769.4 M235.9,782.2 L243.6,780.8 M249.5,784.2 L260,780.6 M252.7,777.1 L261,772 M252.7,777.1 L260,780.6 M249.8,767.7 L255.6,761.3 M243.1,762.6 L251.1,761 M243.1,762.6 L255.6,761.3 M239.6,769.4 L249.6,770 M243.6,780.8 L253.5,778.6 M243.6,780.8 L260,780.6 M260,780.6 L264.8,776.8 M261,772 L268.3,771.7 M255.6,761.3 L266.5,761.6 M251.1,761 L262.6,758.7 M249.6,770 L259.5,764.7 M249.6,770 L260,772.9 M253.5,778.6 L260,772.9 M253.5,778.6 L264.8,776.8 M264.8,776.8 L273.8,773.5 M268.3,771.7 L276.2,768.9 M266.5,761.6 L275,762.5 M266.5,761.6 L271.8,759.8 M262.6,758.7 L271.8,759.8 M259.5,764.7 L268.9,765.2 M260,772.9 L271.3,770.2 M273.8,773.5 L275.5,771.1 M273.8,773.5 L272.5,769.1 M276.2,768.9 L277.2,770.3 M275,762.5 L277.9,763.8 M271.8,759.8 L274.8,760 M268.9,765.2 L271.4,762.9 M268.9,765.2 L274.8,760 M271.3,770.2 L272.5,769.1" stroke="#505050" stroke-width="0.7" fill="none"/>
<path d="M11.4,693.5 L12.5,691.3 L11.2,688.8 L9,687.5 L8.8,688.8 L8.5,692.5Z M19.8,691.7 L21.1,689.4 L19.7,685.7 L17.1,681.8 L15.9,686.3 L17.3,690.5Z M28.1,692.3 L30.8,689.2 L29.8,682.3 L26.8,680.3 L24.8,682.2 L24.7,689.2Z M37.3,688.7 L38.3,684.8 L37.9,680 L36.1,679.2 L33.5,683.4 L34,687.6Z M42.6,687.4 L43.6,686.4 L44.1,681.4 L41.3,680 L40.6,681.5 L40.9,685.8Z M11.4,693.5 L19.8,691.7 M12.5,691.3 L21.1,689.4 M11.2,688.8 L19.7,685.7 M9,687.5 L17.1,681.8 M8.8,688.8 L15.9,686.3 M8.5,692.5 L17.3,690.5 M19.8,691.7 L28.1,692.3 M21.1,689.4 L30.8,689.2 M19.7,685.7 L29.8,682.3 M17.1,681.8 L26.8,680.3 M17.1,681.8 L29.8,682.3 M15.9,686.3 L24.8,682.2 M17.3,690.5 L24.7,689.2 M28.1,692.3 L37.3,688.7 M30.8,689.2 L38.3,684.8 M29.8,682.3 L37.9,680 M29.8,682.3 L38.3,684.8 M26.8,680.3 L36.1,679.2 M24.8,682.2 L33.5,683.4 M24.7,689.2 L34,687.6 M37.3,688.7 L42.6,687.4 M38.3,684.8 L43.6,686.4 M37.9,680 L44.1,681.4 M36.1,679.2 L41.3,680 M36.1,679.2 L40.6,681.5 M33.5,683.4 L40.6,681.5 M34,687.6 L40.9,685.8" stroke="#505050" stroke-width="0.7" fill="none"/>
<path d="M106,688l-8.7,0.2 M104.5,685.4l-8.8,0.2 M103,682.8l-7.8,0.1 M101.5,680.2l-7.2,-0 M100.1,677.5l-6.4,-0.2 M98.8,674.9l-8.3,-0.4 M97.5,672.1l-7.8,-0.6 M96.3,669.4l-8.6,-0.9 M95.2,666.6l-7.4,-0.9 M94.1,663.8l-8.6,-1.2 M93.1,661l-7.1,-1.2 M92.2,658.1l-8.6,-1.8 M91.3,655.2l-8.3,-1.9 M90.6,652.3l-7.4,-1.9 M89.9,649.4l-7.7,-2.2 M89.2,646.5l-8,-2.6 M88.7,643.5l-6.5,-2.4 M88.3,640.6l-7.4,-3.1 M88.1,637.6l-7.9,-3.8 M88,634.6l-6.3,-3.4 M88.1,631.6l-7.5,-4.6 M88.3,628.6l-7,-4.7 M88.6,625.6l-7.2,-5.2 M89,622.6l-5.8,-4.5 M89.6,619.7l-5.1,-4.2 M90.2,616.7l-6.6,-5.8 M90.9,613.8l-6.4,-6 M91.7,610.9l-5.4,-5.5 M92.7,608.1l-4.4,-5 M93.7,605.3l-4.4,-5.4 M94.9,602.5l-5,-6.6 M96.2,599.8l-4.2,-5.9 M97.5,597.1l-5,-7.7 M99,594.5l-4.2,-6.9 M100.5,592l-3.4,-6.1 M102.2,589.4l-3.8,-7.4 M103.9,587l-3.2,-6.7 M105.7,584.6l-3.6,-8.4 M107.6,582.3l-3.1,-8.5 M109.6,580l-2.3,-7.6 M111.7,577.9l-2,-8.1 M114,576l-1.5,-8.3 M116.4,574.2l-1.1,-8.7 M118.9,572.5l-0.8,-9.2 M121.4,570.9l-0.3,-6.5 M124,569.4l-0.1,-7.4 M126.7,568l0.2,-8.2 M129.4,566.7l0.5,-7.3 M132.1,565.4l1,-8.1 M134.9,564.4l1.3,-6.5 M137.8,563.6l2.6,-8.6 M140.8,563.1l3,-7.4 M143.7,562.9l2.9,-6 M146.7,563l4,-7.3 M149.7,563l3.6,-6.3 M152.7,563l3.6,-6 M155.7,563.2l4.1,-6.6 M158.7,563.4l3.7,-5.7 M161.7,563.7l3.9,-5.8 M164.7,564l5,-7.4" stroke="#111" stroke-width="1.15" fill="none" stroke-linecap="round"/>
<polyline points="194,580 194.8,581.3 195.5,582.6 196.3,583.9 197.1,585.2 197.8,586.4 198.6,587.7 199.3,589 200.1,590.3 200.8,591.7 201.5,593 202.2,594.3 202.8,595.7 203.5,597 204.1,598.4 204.6,599.8 205.2,601.2 205.7,602.6 206.3,604 206.7,605.4 207.2,606.8 207.6,608.3 208,609.7 208.3,611.2 208.6,612.7 208.9,614.1 209.1,615.6 209.3,617.1 209.5,618.6 209.6,620.1 209.7,621.6 209.8,623.1 209.9,624.6 209.9,626.1 210,627.6 210,629.1 210,630.6 210,632.1 209.9,633.6 209.8,635.1 209.7,636.6 209.5,638.1 209.3,639.6 209.1,641 208.9,642.5 208.7,644 208.4,645.5 208.2,647 207.9,648.4 207.7,649.9 207.5,651.4 207.2,652.9 206.9,654.4 206.6,655.8 206.3,657.3 206,658.8 205.6,660.2 205.2,661.7 204.8,663.1 204.3,664.5 203.8,665.9 203.2,667.3 202.6,668.7 201.9,670 201.2,671.3 200.5,672.7 199.7,673.9 198.9,675.2 198.1,676.5 197.3,677.7 196.5,679 195.7,680.3 194.9,681.5 194,682.8 193.2,684 192.3,685.2 191.5,686.5 190.6,687.7 189.8,688.9 188.9,690.2 188,691.4 187.1,692.6 186.3,693.8 185.4,695 184.5,696.2 183.6,697.4 182.6,698.6 181.7,699.8 180.8,700.9 179.8,702.1 178.8,703.2 177.8,704.3 176.8,705.5 175.8,706.6 174.8,707.6 173.7,708.7 172.7,709.8 171.6,710.8 170.5,711.9 169.4,712.9 168.4,713.9 167.3,715 166.2,716 165.1,717 164,718 162.9,719.1 161.8,720.1 160.7,721.1 159.6,722.1 158.5,723.2 157.4,724.2 156.3,725.2 155.2,726.2 154.1,727.2 153,728.2 151.8,729.2 150.7,730.2 149.6,731.2 148.5,732.2 147.3,733.2 146.2,734.2 145,735.1 143.9,736.1 142.7,737 141.5,737.9 140.3,738.8 139.1,739.7 137.9,740.5 136.6,741.4 135.3,742.2 134.1,742.9 132.8,743.7 131.5,744.5 130.2,745.3" fill="none" stroke="#111" stroke-width="2.0" stroke-linejoin="round" stroke-linecap="round"/>
<polyline points="106,688 105.3,686.7 104.5,685.4 103.8,684.1 103,682.8 102.3,681.5 101.5,680.2 100.8,678.9 100.1,677.5 99.4,676.2 98.8,674.9 98.2,673.5 97.5,672.1 96.9,670.8 96.3,669.4 95.8,668 95.2,666.6 94.6,665.2 94.1,663.8 93.6,662.4 93.1,661 92.6,659.6 92.2,658.1 91.7,656.7 91.3,655.2 91,653.8 90.6,652.3 90.2,650.9 89.9,649.4 89.5,648 89.2,646.5 89,645 88.7,643.5 88.5,642.1 88.3,640.6 88.2,639.1 88.1,637.6 88,636.1 88,634.6 88,633.1 88.1,631.6 88.2,630.1 88.3,628.6 88.5,627.1 88.6,625.6 88.8,624.1 89,622.6 89.3,621.2 89.6,619.7 89.9,618.2 90.2,616.7 90.5,615.3 90.9,613.8 91.3,612.4 91.7,610.9 92.2,609.5 92.7,608.1 93.2,606.7 93.7,605.3 94.3,603.9 94.9,602.5 95.5,601.2 96.2,599.8 96.8,598.5 97.5,597.1 98.2,595.8 99,594.5 99.7,593.2 100.5,592 101.3,590.7 102.2,589.4 103,588.2 103.9,587 104.7,585.8 105.7,584.6 106.6,583.4 107.6,582.3 108.6,581.1 109.6,580 110.7,579 111.7,577.9 112.9,577 114,576 115.2,575.1 116.4,574.1 117.6,573.2 118.8,572.4 120,571.5 121.3,570.7 122.5,569.9 123.8,569.1 125.1,568.4 126.5,567.7 127.8,567 129.2,566.4 130.6,565.8 132,565.3 133.4,564.8 134.8,564.4 136.3,564.1 137.8,563.8 139.3,563.6 140.7,563.4 142.2,563.3 143.7,563.2 145.2,563.2 146.7,563.2 148.2,563.2 149.7,563.2 151.2,563.3 152.7,563.4 154.2,563.5 155.7,563.6 157.2,563.8 158.7,563.9 160.2,564.1 161.7,564.3 163.2,564.5 164.7,564.7 166.1,565 167.6,565.3 169.1,565.7 170.5,566.1 171.9,566.5 173.4,566.9 174.8,567.4 176.2,567.9 177.6,568.5 179,569 180.4,569.7 181.7,570.3 183,571 184.3,571.8 185.6,572.6 186.8,573.4 188,574.3 189.2,575.3 190.3,576.3 191.4,577.3 192.5,578.3 193.5,579.4 194.5,580.6 195.4,581.8 196.3,583 197.1,584.2 197.9,585.5 198.6,586.8 199.3,588.2 200,589.5 200.6,590.9 201.3,592.2 201.9,593.6 202.5,594.9 203.1,596.3 203.7,597.7 204.3,599.1 204.9,600.4 205.5,601.8 206,603.2 206.5,604.7 207,606.1 207.4,607.5 207.8,609 208.1,610.4 208.5,611.9 208.8,613.4 209,614.8 209.2,616.3 209.4,617.8 209.5,619.3 209.7,620.8 209.8,622.3 209.9,623.8 209.9,625.3 210,626.8 210,628.3 210,629.8 210,631.3 209.9,632.8 209.9,634.3 209.8,635.8 209.6,637.3 209.4,638.8 209.2,640.2 209,641.7 208.8,643.2 208.5,644.7 208.3,646.2 208.1,647.7 207.8,649.1 207.6,650.6 207.3,652.1 207.1,653.6 206.8,655 206.5,656.5 206.2,658 205.8,659.4 205.5,660.9 205,662.3 204.6,663.8 204.1,665.2 203.5,666.6 202.9,667.9 202.3,669.3 201.6,670.6 200.9,672 200.1,673.3 199.4,674.5 198.6,675.8 197.8,677.1 196.9,678.3 196.1,679.6 195.3,680.8 194.5,682.1 193.6,683.3 192.8,684.6 191.9,685.8 191.1,687 190.2,688.3 189.4,689.5 188.5,690.7 187.6,691.9 186.7,693.2 185.8,694.4 184.9,695.6 184,696.8 183.1,697.9 182.2,699.1 181.3,700.3 180.3,701.5 179.4,702.6 178.4,703.7 177.4,704.9 176.4,706 175.3,707.1 174.3,708.1 173.2,709.2 172.2,710.3 171.1,711.3 170,712.4 168.9,713.4 167.8,714.4 166.7,715.4 165.6,716.5 164.5,717.5 163.5,718.5 162.4,719.5 161.3,720.6 160.2,721.6 159.1,722.6 158,723.6 156.9,724.7 155.8,725.7 154.7,726.7 153.5,727.7 152.4,728.7 151.3,729.7 150.2,730.7 149.1,731.7 147.9,732.7 146.8,733.6 145.7,734.6 144.5,735.6 143.3,736.5 142.2,737.5 141,738.4 139.8,739.2 138.5,740.1 137.3,740.9 136,741.7 134.7,742.5 133.5,743.3 132.2,744.1 130.9,744.8 130,745.4" fill="none" stroke="#c00000" stroke-width="1.4" stroke-linejoin="round" stroke-linecap="round"/>
<path d="M104,684 l3,6" stroke="#111" stroke-width="3"/>
<path d="M10.3,538 V560 M294.3,723 V748" stroke="#666" stroke-width="1"/>
<path d="M250.1,546.3 L251.6,570.9 L272.5,577.6 M261.3,563.8 L266.9,558.5" stroke="#111" stroke-width="1.6" fill="none"/>
<polygon points="252.5,564 257.2,561.4 261.9,563.8 257.2,566.4" fill="#d8d8d8" stroke="#444" stroke-width="0.6"/><polygon points="252.5,564 257.2,566.4 257.2,571.9 252.5,569.3" fill="#c4c4c4" stroke="#444" stroke-width="0.6"/><polygon points="257.2,566.4 261.9,563.8 261.9,569 257.2,571.9" fill="#a8a8a8" stroke="#444" stroke-width="0.6"/>
<text x="250.1" y="544.8" text-anchor="middle" class="tl">Y</text>
<text x="269.9" y="558.8" text-anchor="middle" class="tl">X</text>
<text x="277" y="582" text-anchor="middle" class="tl">Z</text>
</g>
<path d="M343.5,216.6h5 M343.5,186.8h5 M343.5,156.9h5 M343.5,127h5 M343.5,97.2h5 M343.5,67.3h5 M556,203.8h-5 M556,176.1h-5 M556,148.3h-5 M556,120.6h-5 M556,92.9h-5 M556,65.2h-5 M393.4,230.5v-5 M443.2,230.5v-5 M493.1,230.5v-5 M542.9,230.5v-5" stroke="#000" stroke-width="1.4" fill="none"/>
<path d="M343.5,228.5h2.7 M343.5,222.6h2.7 M343.5,210.6h2.7 M343.5,204.7h2.7 M343.5,198.7h2.7 M343.5,192.7h2.7 M343.5,180.8h2.7 M343.5,174.8h2.7 M343.5,168.8h2.7 M343.5,162.9h2.7 M343.5,150.9h2.7 M343.5,145h2.7 M343.5,139h2.7 M343.5,133h2.7 M343.5,121.1h2.7 M343.5,115.1h2.7 M343.5,109.1h2.7 M343.5,103.2h2.7 M343.5,91.2h2.7 M343.5,85.3h2.7 M343.5,79.3h2.7 M343.5,73.3h2.7 M343.5,61.4h2.7 M343.5,55.4h2.7 M343.5,49.4h2.7 M343.5,43.5h2.7 M556,225.9h-2.7 M556,220.4h-2.7 M556,214.8h-2.7 M556,209.3h-2.7 M556,198.2h-2.7 M556,192.7h-2.7 M556,187.1h-2.7 M556,181.6h-2.7 M556,170.5h-2.7 M556,165h-2.7 M556,159.4h-2.7 M556,153.9h-2.7 M556,142.8h-2.7 M556,137.3h-2.7 M556,131.7h-2.7 M556,126.2h-2.7 M556,115.1h-2.7 M556,109.5h-2.7 M556,104h-2.7 M556,98.5h-2.7 M556,87.4h-2.7 M556,81.8h-2.7 M556,76.3h-2.7 M556,70.8h-2.7 M556,59.7h-2.7 M556,54.1h-2.7 M556,48.6h-2.7 M556,43h-2.7 M353.5,230.5v-2.7 M363.4,230.5v-2.7 M373.4,230.5v-2.7 M383.4,230.5v-2.7 M403.3,230.5v-2.7 M413.3,230.5v-2.7 M423.3,230.5v-2.7 M433.2,230.5v-2.7 M453.2,230.5v-2.7 M463.1,230.5v-2.7 M473.1,230.5v-2.7 M483.1,230.5v-2.7 M503,230.5v-2.7 M513,230.5v-2.7 M523,230.5v-2.7 M532.9,230.5v-2.7 M552.9,230.5v-2.7" stroke="#222" stroke-width="0.9" fill="none"/>
<rect x="343.5" y="37.5" width="212.5" height="193" fill="none" stroke="#000" stroke-width="1.5"/>
<text x="340.5" y="220.2" text-anchor="end" class="n">50</text>
<text x="340.5" y="190.3" text-anchor="end" class="n">60</text>
<text x="340.5" y="160.5" text-anchor="end" class="n">70</text>
<text x="340.5" y="130.7" text-anchor="end" class="n">80</text>
<text x="340.5" y="100.8" text-anchor="end" class="n">90</text>
<text x="340.5" y="70.9" text-anchor="end" class="n">100</text>
<text x="340.5" y="41.1" text-anchor="end" class="n">110</text>
<text x="559.3" y="235.1" class="n">-100</text>
<text x="559.3" y="207.4" class="n">0</text>
<text x="559.3" y="179.7" class="n">100</text>
<text x="559.3" y="151.9" class="n">200</text>
<text x="559.3" y="124.2" class="n">300</text>
<text x="559.3" y="96.5" class="n">400</text>
<text x="559.3" y="68.8" class="n">500</text>
<text x="559.3" y="41.1" class="n">600</text>
<text x="343.5" y="241" text-anchor="middle" class="n">0</text>
<text x="393.4" y="241" text-anchor="middle" class="n">10</text>
<text x="443.2" y="241" text-anchor="middle" class="n">20</text>
<text x="493.1" y="241" text-anchor="middle" class="n">30</text>
<text x="542.9" y="241" text-anchor="middle" class="n">40</text>
<text x="445.1" y="251.3" class="ax">z</text><text x="450.6" y="243.2" class="sup">+</text>
<g transform="translate(326.3,139.3) rotate(-90)"><text x="0" y="0" class="ax">y</text><text x="5.8" y="-7.5" class="sup">+</text></g>
<text transform="translate(589.8,134) rotate(-90)" x="0" y="0" text-anchor="middle" class="ax2">turn, stretch</text>
<path d="M343.8,479.4h5 M343.8,449.5h5 M343.8,419.6h5 M343.8,389.7h5 M343.8,359.8h5 M343.8,329.9h5 M556.3,494h-5 M556.3,466.3h-5 M556.3,438.6h-5 M556.3,410.8h-5 M556.3,383.1h-5 M556.3,355.4h-5 M556.3,327.7h-5 M389,494v-5 M434.2,494v-5 M479.4,494v-5 M524.6,494v-5" stroke="#000" stroke-width="1.4" fill="none"/>
<path d="M343.8,491.4h2.7 M343.8,485.4h2.7 M343.8,473.4h2.7 M343.8,467.4h2.7 M343.8,461.5h2.7 M343.8,455.5h2.7 M343.8,443.5h2.7 M343.8,437.5h2.7 M343.8,431.6h2.7 M343.8,425.6h2.7 M343.8,413.6h2.7 M343.8,407.6h2.7 M343.8,401.7h2.7 M343.8,395.7h2.7 M343.8,383.7h2.7 M343.8,377.7h2.7 M343.8,371.8h2.7 M343.8,365.8h2.7 M343.8,353.8h2.7 M343.8,347.8h2.7 M343.8,341.9h2.7 M343.8,335.9h2.7 M343.8,323.9h2.7 M343.8,317.9h2.7 M343.8,312h2.7 M343.8,306h2.7 M556.3,488.4h-2.7 M556.3,482.9h-2.7 M556.3,477.3h-2.7 M556.3,471.8h-2.7 M556.3,460.7h-2.7 M556.3,455.2h-2.7 M556.3,449.6h-2.7 M556.3,444.1h-2.7 M556.3,433h-2.7 M556.3,427.5h-2.7 M556.3,421.9h-2.7 M556.3,416.4h-2.7 M556.3,405.3h-2.7 M556.3,399.8h-2.7 M556.3,394.2h-2.7 M556.3,388.7h-2.7 M556.3,377.6h-2.7 M556.3,372h-2.7 M556.3,366.5h-2.7 M556.3,361h-2.7 M556.3,349.9h-2.7 M556.3,344.3h-2.7 M556.3,338.8h-2.7 M556.3,333.3h-2.7 M556.3,322.2h-2.7 M556.3,316.6h-2.7 M556.3,311.1h-2.7 M556.3,305.5h-2.7 M352.8,494v-2.7 M361.9,494v-2.7 M370.9,494v-2.7 M380,494v-2.7 M398,494v-2.7 M407.1,494v-2.7 M416.1,494v-2.7 M425.2,494v-2.7 M443.2,494v-2.7 M452.3,494v-2.7 M461.3,494v-2.7 M470.4,494v-2.7 M488.4,494v-2.7 M497.5,494v-2.7 M506.5,494v-2.7 M515.6,494v-2.7 M533.6,494v-2.7 M542.7,494v-2.7 M551.7,494v-2.7" stroke="#222" stroke-width="0.9" fill="none"/>
<rect x="343.8" y="300" width="212.5" height="194" fill="none" stroke="#000" stroke-width="1.5"/>
<text x="340.8" y="483" text-anchor="end" class="n">50</text>
<text x="340.8" y="453.1" text-anchor="end" class="n">60</text>
<text x="340.8" y="423.2" text-anchor="end" class="n">70</text>
<text x="340.8" y="393.3" text-anchor="end" class="n">80</text>
<text x="340.8" y="363.4" text-anchor="end" class="n">90</text>
<text x="340.8" y="333.5" text-anchor="end" class="n">100</text>
<text x="340.8" y="303.6" text-anchor="end" class="n">110</text>
<text x="559.6" y="497.6" class="n">-100</text>
<text x="559.6" y="469.9" class="n">0</text>
<text x="559.6" y="442.2" class="n">100</text>
<text x="559.6" y="414.4" class="n">200</text>
<text x="559.6" y="386.7" class="n">300</text>
<text x="559.6" y="359" class="n">400</text>
<text x="559.6" y="331.3" class="n">500</text>
<text x="559.6" y="303.6" class="n">600</text>
<text x="343.8" y="504.5" text-anchor="middle" class="n">0</text>
<text x="389" y="504.5" text-anchor="middle" class="n">10</text>
<text x="434.2" y="504.5" text-anchor="middle" class="n">20</text>
<text x="479.4" y="504.5" text-anchor="middle" class="n">30</text>
<text x="524.6" y="504.5" text-anchor="middle" class="n">40</text>
<text x="445.7" y="515.4" class="ax">z</text><text x="451.6" y="507.3" class="sup">+</text>
<g transform="translate(326.3,402.3) rotate(-90)"><text x="0" y="0" class="ax">y</text><text x="5.8" y="-7.5" class="sup">+</text></g>
<text transform="translate(590.1,397) rotate(-90)" x="0" y="0" text-anchor="middle" class="ax2">turn, stretch</text>
<path d="M344.5,744.5h5 M344.5,714h5 M344.5,683.5h5 M344.5,653h5 M344.5,622.5h5 M344.5,592h5 M344.5,561.5h5 M561.5,757.7h-5 M561.5,729.6h-5 M561.5,701.6h-5 M561.5,673.5h-5 M561.5,645.4h-5 M561.5,617.3h-5 M561.5,589.3h-5 M350,758.5v-5 M383.6,758.5v-5 M417.2,758.5v-5 M450.8,758.5v-5 M484.4,758.5v-5 M518,758.5v-5 M551.6,758.5v-5" stroke="#000" stroke-width="1.4" fill="none"/>
<path d="M344.5,756.7h2.7 M344.5,750.6h2.7 M344.5,738.4h2.7 M344.5,732.3h2.7 M344.5,726.2h2.7 M344.5,720.1h2.7 M344.5,707.9h2.7 M344.5,701.8h2.7 M344.5,695.7h2.7 M344.5,689.6h2.7 M344.5,677.4h2.7 M344.5,671.3h2.7 M344.5,665.2h2.7 M344.5,659.1h2.7 M344.5,646.9h2.7 M344.5,640.8h2.7 M344.5,634.7h2.7 M344.5,628.6h2.7 M344.5,616.4h2.7 M344.5,610.3h2.7 M344.5,604.2h2.7 M344.5,598.1h2.7 M344.5,585.9h2.7 M344.5,579.8h2.7 M344.5,573.7h2.7 M344.5,567.6h2.7 M561.5,752.1h-2.7 M561.5,746.5h-2.7 M561.5,740.8h-2.7 M561.5,735.2h-2.7 M561.5,724h-2.7 M561.5,718.4h-2.7 M561.5,712.8h-2.7 M561.5,707.2h-2.7 M561.5,695.9h-2.7 M561.5,690.3h-2.7 M561.5,684.7h-2.7 M561.5,679.1h-2.7 M561.5,667.9h-2.7 M561.5,662.3h-2.7 M561.5,656.6h-2.7 M561.5,651h-2.7 M561.5,639.8h-2.7 M561.5,634.2h-2.7 M561.5,628.6h-2.7 M561.5,623h-2.7 M561.5,611.7h-2.7 M561.5,606.1h-2.7 M561.5,600.5h-2.7 M561.5,594.9h-2.7 M561.5,583.7h-2.7 M561.5,578h-2.7 M561.5,572.4h-2.7 M561.5,566.8h-2.7 M356.7,758.5v-2.7 M363.4,758.5v-2.7 M370.2,758.5v-2.7 M376.9,758.5v-2.7 M390.3,758.5v-2.7 M397,758.5v-2.7 M403.8,758.5v-2.7 M410.5,758.5v-2.7 M423.9,758.5v-2.7 M430.6,758.5v-2.7 M437.4,758.5v-2.7 M444.1,758.5v-2.7 M457.5,758.5v-2.7 M464.2,758.5v-2.7 M471,758.5v-2.7 M477.7,758.5v-2.7 M491.1,758.5v-2.7 M497.8,758.5v-2.7 M504.6,758.5v-2.7 M511.3,758.5v-2.7 M524.7,758.5v-2.7 M531.4,758.5v-2.7 M538.2,758.5v-2.7 M544.9,758.5v-2.7 M558.3,758.5v-2.7" stroke="#222" stroke-width="0.9" fill="none"/>
<rect x="344.5" y="561.2" width="217" height="197.3" fill="none" stroke="#000" stroke-width="1.5"/>
<text x="341.5" y="748.1" text-anchor="end" class="n">50</text>
<text x="341.5" y="717.6" text-anchor="end" class="n">60</text>
<text x="341.5" y="687.1" text-anchor="end" class="n">70</text>
<text x="341.5" y="656.6" text-anchor="end" class="n">80</text>
<text x="341.5" y="626.1" text-anchor="end" class="n">90</text>
<text x="341.5" y="595.6" text-anchor="end" class="n">100</text>
<text x="341.5" y="565.1" text-anchor="end" class="n">110</text>
<text x="564.8" y="761.3" class="n">-100</text>
<text x="564.8" y="733.2" class="n">0</text>
<text x="564.8" y="705.2" class="n">100</text>
<text x="564.8" y="677.1" class="n">200</text>
<text x="564.8" y="649" class="n">300</text>
<text x="564.8" y="620.9" class="n">400</text>
<text x="564.8" y="592.9" class="n">500</text>
<text x="564.8" y="564.8" class="n">600</text>
<text x="350" y="769" text-anchor="middle" class="n">110</text>
<text x="383.6" y="769" text-anchor="middle" class="n">120</text>
<text x="417.2" y="769" text-anchor="middle" class="n">130</text>
<text x="450.8" y="769" text-anchor="middle" class="n">140</text>
<text x="484.4" y="769" text-anchor="middle" class="n">150</text>
<text x="518" y="769" text-anchor="middle" class="n">160</text>
<text x="551.6" y="769" text-anchor="middle" class="n">170</text>
<text x="448.8" y="784" class="ax">z</text><text x="454.8" y="775.9" class="sup">+</text>
<g transform="translate(326.3,665.1) rotate(-90)"><text x="0" y="0" class="ax">y</text><text x="5.8" y="-7.5" class="sup">+</text></g>
<text transform="translate(595.3,659.9) rotate(-90)" x="0" y="0" text-anchor="middle" class="ax2">turn, stretch</text>
<polyline points="343.7,214 352.8,190.3 361.9,164.7 366.5,151.9 372.9,146.4 375.6,135.5 377.5,128 381.1,110.4 387.1,110 390.8,113.1 397.6,107.7 405.8,86.6 414.5,64.4 418.6,78.4 427.7,103.1 436.8,113.7 445.1,115 455.5,109.1 464.1,123.4 471.7,123.4 481.3,135.8 490.8,147.3 502.3,155.9 513.8,162.6 521.4,176.9 525.2,183.6 536.7,194.1 548.2,200.8 555,206.6" fill="none" stroke="#000" stroke-width="1.6" stroke-dasharray="4 1.2 1.2 1.2" stroke-linejoin="round"/>
<polyline points="343.7,174.8 351.9,169.3 358.3,163.8 365.6,157.4 374.7,166.2 385.7,158.3 391.2,160.1 404,175.7 413.1,183 424,186.6 433.2,194 440.5,194.9 446.9,194.1 473.7,178.8 494.7,169.8 511.9,162.6 531,163.5 546.2,165.5 554.5,168.5 549,170 541.5,176" fill="none" stroke="#000" stroke-width="1.8" stroke-dasharray="6 3.5" stroke-linejoin="round"/>
<polyline points="537.5,201 541.6,197.9 549.9,197.9 555,204.1" fill="none" stroke="#000" stroke-width="1.8" stroke-dasharray="6 3.5" stroke-linejoin="round"/>
<path d="M343.7,217.7 C344.9,215.6 348,208.8 351,204.9 C354,201 357.6,197.3 361.9,194 C366.1,190.7 371,187.6 376.5,184.8 C382,182.1 388.7,179.8 394.8,177.5 C400.9,175.2 407,172.8 413.1,171.1 C419.2,169.4 425.3,168.3 431.4,167.5 C437.5,166.7 444.2,166.4 449.6,166.2 C455.1,166 458.5,166.1 464.1,166.4 C469.7,166.7 476.8,167.1 483.2,167.9 C489.6,168.7 495.9,169.7 502.3,171.2 C508.7,172.7 515.7,174.5 521.4,176.9 C527.1,179.3 532.2,182.5 536.7,185.5 C541.2,188.5 545.2,191.9 548.2,195.1 C551.2,198.3 553.2,201.9 554.5,204.6 C555.8,207.2 555.6,209.9 555.8,211" fill="none" stroke="#d40000" stroke-width="2"/>
<path d="M555.8,211 C555.6,212.2 556,216.2 554.9,218.2 C553.8,220.2 551,221.8 549.1,223.2 C547.2,224.6 545,225.4 543.3,226.5 C541.6,227.6 539.5,229.2 538.7,229.8" fill="none" stroke="#d40000" stroke-width="2"/>
<polyline points="343.8,388 348.2,399.2 356.4,403.8 362.8,394.7 368.3,405.6 374.7,386.4 386.6,414.8 393,406.5 406.7,418.4 424,415.7 435,423.9 442.3,426.6 456.5,433 469.8,439.7 485.1,443.5 496.6,447.4 511.9,450.2 525.2,454 540.5,459.8 552,463.6 555.8,464.6" fill="none" stroke="#000" stroke-width="1.6" stroke-dasharray="4 1.2 1.2 1.2" stroke-linejoin="round"/>
<polyline points="540.5,462.6 546.2,467.4 555.8,466.5" fill="none" stroke="#000" stroke-width="1.6" stroke-dasharray="4 1.2 1.2 1.2" stroke-linejoin="round"/>
<polyline points="344.6,453.1 354.6,457.3 368.3,454.4 376.5,450.4 386.6,455.9 393,448.6 407.6,444.9 422.2,438.5 435,435.8 445,435 456.5,433 469.8,435 483.2,430.7 491.8,434 502.3,428.3 517.6,426.7 532.9,426.4 544.3,430.2 554.8,436.9 555.8,446.4 548.2,454 542.4,459.8" fill="none" stroke="#000" stroke-width="1.8" stroke-dasharray="6 3.5" stroke-linejoin="round"/>
<path d="M343.7,406.5 C346.1,405 352.8,400.3 358.3,397.4 C363.8,394.5 370.4,391.5 376.5,389.2 C382.6,386.9 388.7,385.1 394.8,383.7 C400.9,382.3 407,381.4 413.1,380.6 C419.2,379.8 426.1,379.3 431.4,379.1 C436.7,378.9 437.9,378.6 445,379.2 C452.1,379.8 464.1,380.4 473.7,382.4 C483.2,384.4 494.4,387.8 502.3,391 C510.2,394.2 515.7,397.7 521.4,401.5 C527.1,405.3 532.2,409.9 536.7,413.9 C541.2,417.9 545.2,421.6 548.2,425.4 C551.2,429.2 553.5,433.4 554.8,436.9 C556.1,440.4 556.1,442.9 555.8,446.4 C555.5,449.9 554.5,454.1 552.9,457.9 C551.3,461.7 548.3,466.3 546.2,469.3 C544.1,472.3 541.5,474.9 540.5,476" fill="none" stroke="#d40000" stroke-width="2"/>
<polyline points="344.9,712.5 349.9,716.6 354.1,730.7 359.9,735.7 366.5,743.2 373.2,746.5 386.4,749.8 394.8,745.7 404.7,742.4 415,741 434.9,735.3 452.4,731.1 469.8,727.3 487.3,722.4 502.2,720.6 514.7,720.4 532.1,719.9 549.6,720.6 561,721.1" fill="none" stroke="#000" stroke-width="1.6" stroke-dasharray="4 1.2 1.2 1.2" stroke-linejoin="round"/>
<polyline points="345,695.5 352,700 356.5,702.5 366.5,706.6 386.4,715.8 403,721.6 415,724.4 440,723.1 464.8,723.6 484.8,722.4 499.7,721.1 509.7,722.9 519.7,724.9 534.6,724.4 549.6,725.4 561,726.8" fill="none" stroke="#000" stroke-width="1.8" stroke-dasharray="6 3.5" stroke-linejoin="round"/>
<path d="M345,652 A108,79 0 0 1 561,652" fill="none" stroke="#d40000" stroke-width="2"/>
<g transform="translate(324,27) scale(0.93,1)"><text x="0" y="0" class="tt">(a2) t</text><text x="32.6" y="-7" class="tsup">+</text><text x="37" y="0" class="tt">=101</text></g>
<g transform="translate(323.5,289.8) scale(0.93,1)"><text x="0" y="0" class="tt">(b2) t</text><text x="32.6" y="-7" class="tsup">+</text><text x="37" y="0" class="tt">=128</text></g>
<g transform="translate(324.2,550.7) scale(0.93,1)"><text x="0" y="0" class="tt">(c2) t</text><text x="32.6" y="-7" class="tsup">+</text><text x="37" y="0" class="tt">=154</text></g>
<g transform="translate(27.4,31) scale(0.93,1)"><text x="0" y="0" class="tt">(a1) t</text><text x="32.6" y="-7" class="tsup">+</text><text x="37" y="0" class="tt">=101</text></g>
<g transform="translate(27.4,294.5) scale(0.93,1)"><text x="0" y="0" class="tt">(b1) t</text><text x="32.6" y="-7" class="tsup">+</text><text x="37" y="0" class="tt">=128</text></g>
<g transform="translate(27.4,557.5) scale(0.93,1)"><text x="0" y="0" class="tt">(c1) t</text><text x="32.6" y="-7" class="tsup">+</text><text x="37" y="0" class="tt">=154</text></g>
<path d="M0,1.5 H599 M0.5,1 V791 M0,790.5 H599" stroke="#222" stroke-width="1" fill="none"/><path d="M597.5,1 V791 M298.5,1 V790" stroke="#808080" stroke-width="1.6" fill="none"/><path d="M0,264.5 H598 M0,527.5 H598" stroke="#555" stroke-width="1" fill="none"/>
</svg></body></html>
